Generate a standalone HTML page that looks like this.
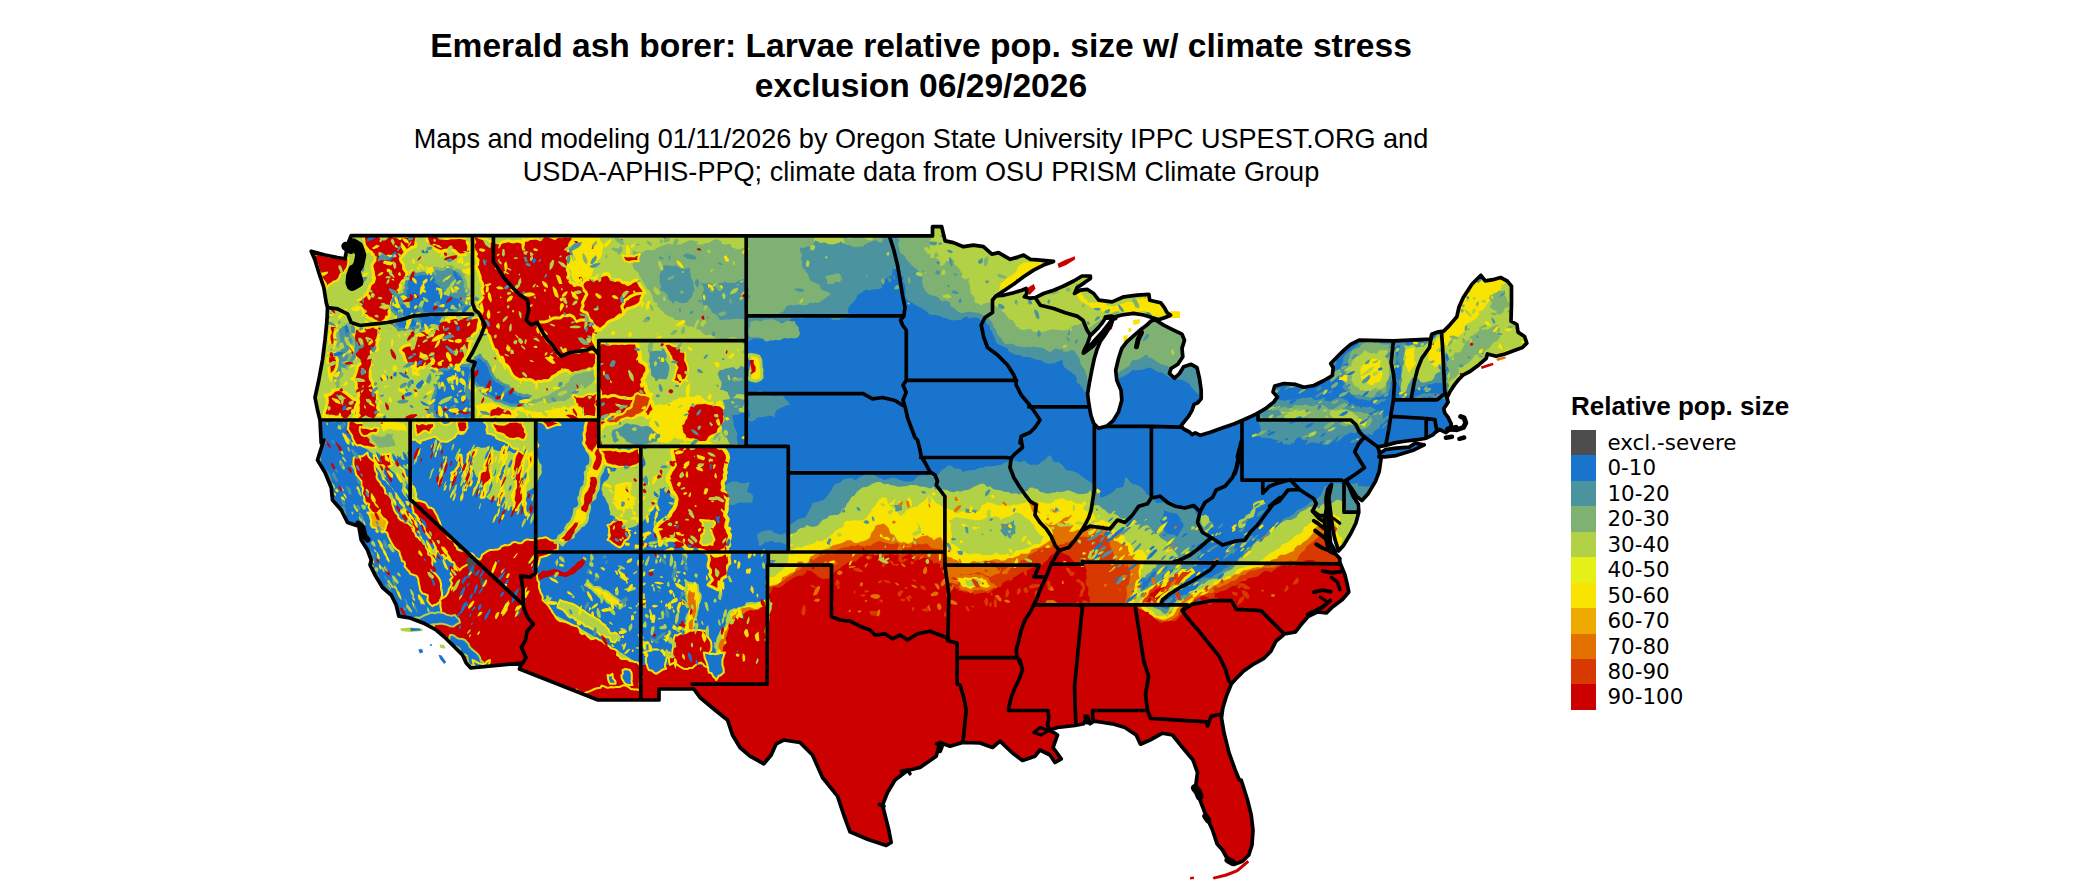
<!DOCTYPE html>
<html lang="en"><head><meta charset="utf-8"><title>Emerald ash borer: Larvae relative pop. size</title>
<style>
html,body{margin:0;padding:0;background:#fff}
body{width:2100px;height:892px;position:relative;overflow:hidden;font-family:"Liberation Sans",sans-serif;color:#000}
.title{position:absolute;left:0;width:1842px;top:26px;text-align:center;font-weight:bold;font-size:33.6px;line-height:39.5px;white-space:nowrap}
.sub{position:absolute;left:0;width:1842px;top:123.3px;text-align:center;font-size:27.1px;line-height:32.5px;white-space:nowrap}
.legt{position:absolute;left:1571px;top:391.3px;font-weight:bold;font-size:26px;line-height:30px;white-space:nowrap}
.leg{position:absolute;left:1571px;top:430px}
.lr{height:25.45px;position:relative}
.sw{position:absolute;left:0;top:0;width:24.8px;height:25.6px}
.lt{position:absolute;left:36.5px;top:0px;font-family:"DejaVu Sans",sans-serif;font-size:21.4px;line-height:25.45px;white-space:nowrap}
</style></head><body>
<div class="title">Emerald ash borer: Larvae relative pop. size w/ climate stress<br>exclusion 06/29/2026</div>
<div class="sub">Maps and modeling 01/11/2026 by Oregon State University IPPC USPEST.ORG and<br>USDA-APHIS-PPQ; climate data from OSU PRISM Climate Group</div>
<svg width="2100" height="892" viewBox="0 0 2100 892" style="position:absolute;left:0;top:0">
<defs><clipPath id="land"><path clip-rule="evenodd" transform="scale(.1)" d="M3512,2355l5813,4 0-92 92,0 34,142 83,17 100,41 101-16 100,16 83,75 67-16 117,67 84-25 50-17 67,42 100,8 133,13-100,37-100,50-100,67-100,75-101,67-75,50 75-8 101-25 83-25 42-17 8,50-25,33 59,14 50-5 83-42 100-33 101-42 100-50 83-50 84,0 0,25-58,41-76,51-25,58 59-33 67-9 66,42 51,67 133,17 117-51 134-16 117-9 8,59 109,25 33,42 33,58 34,25-53,23-67,22-67-22-83-25-101-16-117,16-66,17-26,25-41-17-34,9-33,50-34,42-58,58-25,25-25,75-34,67-8,30 25-21 75-92 84-92 67-84 46-55-21,64-50,83-59,84-33,83-25,84-25,117-25,133-17,101 12,100 21,117 29,83 46,47 84-22 67-58 50-84 33-117-8-100-42-100-11-100 28-117 33-101 50-66 67-59 67-58 67-50 42-42 41-12 84,54 100,50 84,41 25,59-25,83 8,84-50,75-67,42-17,50 51,47 50-47 41-67 76-25 58,34 25,108 17,117 0,84-34,41-38,17-20,59-33,58-34,42-42,53 25,34 59,30 25,25 33-17 51,25 100-30 117-42 117-41 100-42 117-54 100-58 84-67 36-50-45-50 17-59 92-25 117,9 83,28 100-17 101-50 83-50 9-78-25-42 66-67 67-67 67-58 84-42 343,8 372-18 11-48 54-22 66-10 55-55 76-88 22-98 44-98 87-132 88-87 43,55 77-11 76-22 66,33 44,54 0,175-5,175 59,33 11,76 66,44 22,66-44,44-88,32-87,33-87,22-88-22-11,44-76,65-88,66-65,33-44,44-44,54-44,66-32,65 11,44-44,66 11,43 33,44 32,66-15,54-39,33-66-33-44,33-21,22-66,33-87,15-110,13-109,16-99,28-77,15 30,123-18,123-37,99-74,123-61,69-50-39-61-91-45-62 25,49 44,104 50,74 5,81-30,111-49,99-74,123-50,55-39-129-20-98-12-99-13-99-12-98-5-74 32-69-39,49-17,94 4,98-12,69-7,79 15,74-3,74 17,74 27,62 60,27 37,40 0,39 51,125 24,99 15,74-64,74-99,74-61,61-87-12-98,49-74,87-50,66-111,20-86,74-49,99-74,74-99,54-99,69-74,74-49,54-49,119-37,123-13,99 25,148 49,197 62,173 42,103 19,0 63,200 37,150 18,150-10,150-32,100-63,62-87,33-58-45-55-100-55-62-45-138-63-138-62-162-45-125 20-150-45-125-105-125-100-125-100-18-125,68-95,42-43-92-112-75-125-37-125-18-62-8-38,26-25-76-37,76-88,17-175,20-75,25 75,50-45,125 82,113-62,37-50-75-100-50-50,62-125,43-100-75-125-118-75,63-125-45-175-5-125,37-100-37-38,137-162,113-125,30-125,95-75,125-50,125 25,100 38,150 24,125-50,30-187-63-175-74-62-168-63-188-150-187-100-225-125-125-162-25-76,38-50,112-74,88-138-76-100-87-75-125-50-150-125-100-150-125-62-85-348,0 0,110-610,0-785-310 17-60-504,50-46-50-37-80-75-75-100-100-88-75-112-62-150-58-112-18-26-112-50-100-87-75-75-125-50-100 12-50-37-100-63-100-24-138-113-37-63-125-87-100-13-125-62-150-75-125 63-200-26,30-12-230-25-100-25-125 38-175 37-200 25-200 20-200 5-125-13-50-24-150-50-150-38-125-38-88 138,38 125,25 75,13 25-138zM13789,4569l57,0 116-13 169-53 111-55-90-16-63,40-127,10-105,13-53,35z"/></clipPath></defs>
<g clip-path="url(#land)">
<rect x="300" y="220" width="1240" height="670" fill="#CD0000"/>
<path transform="scale(.1)" d="M7400,5970l30,9 20-2 45,0 30-6 32-6 41,6 29,1 40-2 8-19 25-12 14-29 9-24 11-17 34,5 29,0 37-21 27-29 35-21 21-13 34-21 32-11 42,0 33-29 10-27 44,8 32,24 20,16 21,19 24,11 19,9 26-4 24,3 24-2 16-24 19-37 32-23 27-16 32-27 23-17 35-6 26-4 18-7 26-7 20-20 27-29 22-9 34-23 43,12 34-5 43,8 25-4 30,27 17-21 24-1 29-18 17,8 31,4 26-3 24,20 28,6 25-13 16-13 23,7 26,4 27,7 33,6 23,6 35,3 25,4 24,10 33,14 18,31 33-9 37,18 27,32 37,25-1,25 12,24-5,28 18,23 9,34 17,18 26,23 28,16 13,16 33,2 35,14 27-5 40,10 25,18 30-12 43-8 33-5 25,12 35-23 20-20 33-22 38-1 16-25 7-16 25-14 33-19 21-11 32-15 23-3 27-27 32-17 28-16 23-4 16-7 28-14 26-12 28,2 19-2 33-21 14-21 37-25 21-34 27-22 19-11 16-22 17-11 26,4 11,11 23,18 39,14 30,22 15,25 16,14 26,24 25-3 19,3 34,2 16,32 9,28 6,15-8,22 7,36-11,42 6,42 22,25-1,25-4,21 0,27 14,15 2,30 5,32 35,14 27-6 18,14 30-1 26,4 26,10 27-1 35,4 26-13 17-8 28-1 33,8 27-21 21-2 31-5 28,26 36,22 19,0 23,17 30,9 25,5 34,23 17,33 16,19 32,23 25,19 27,9 24-9 28-6 40-4 24,2 28-8 24-26 19-22 13-14 17-22 10-26 37-18 20-31 18-14 28-25 33-15 21-21 23-11 29,4 15,15 22,4 27-11 6-18 18-20 39-5 20-16 35-1 35-15 15-14 24-18 30-5 29-6 10-15 21-20 27-7 31-1 16-24 29-8 29-4 16-5 27-3 30-26 18-17 33-15 32,8 17,9 32-23 35-26 24-9 15-7 27-9 31,12 24-12 42,11 31-12 21,6 18-22 15-10 37-22 34-1 35-2 27,15 39,14 29-1 17,9 28-5 30,10 20,1 17,6 27,6 24-13 21-31 30-26 34,1 22-2 29,19 17,12 35-4 38-15 39,12 22,13 25,10 18,15 28,29 45,12 15,27 45,4 25-28 36-9 25,2 37-13 30-13 40-18 39,5 28,3 43-4 24-1 39-9 23-7 40-8 21-7 26-2 26-5 33-6 36-9 27-20 31-19 22,3 28,4 28,6 23-17 41,2 21,0 28-2 18-26 36,9 19,16 22,6 26,15 18,24 16,6 30,7 42,6 40,16 25,5 24-24 16-9 30,11 18,0 29-2 40,20 29,23 32-3 16-12 30,31 25,4 36,1 33,7 42-7 37-20 40-5 21-9 32,16 25-15 30-7 23-6 31-13 9-21 6-32-12-41 14-22 17-33-12-34-9-42-8-44 7-25 6-23-26-27 19-37 5-32-7-27-6-21-7-28-1-34-27-21-31-18-5-24 17-32 0-39 4-23 7-24 7-20-15-34 1-29-27-29-23-21-4-44 22-34 3-23 9-25-9-36 18-17 15-41-2-34-21-34 2-33-4-35 7-47-8-25-2-46 26-65-17-25-13-50-20-45 26-60 1-41 4-23 8-41-13-24-2-33-16-28-4-23 11-23-10-46-17-24-1-42 36-15 7-22-11-21 2-42 11-24-2-22 9-26 0-24-9-18-14-31 5-44 11-27-5-46-5-42-14-22 27-38 0-51-9-51-2-38-2-25-1-39 0-30 16-23-14-37-1-22-11-28-6-24-4-39-21-44-4-49-13-61 26-65 25-37-12-78 10-55 13-25 17-48-25-70-16-45 38-49 52-69 3-66 1-74-23-4-22-3-33,10-35-13-27-12-46-7-33,9-56,21-41,20-49-20-53-29-28-10-47,1-52-1-54,3-61,62-57-1-93-26-56,32-100-45-118-10-64,41-59-2-48,2-85-3-42-28-31-6-24,24-45,15-48,26-59-21-63-30-67-27-41,11-63,15-32,19-31,15-48-8-36,20-91-61-130,7-64-13-56-32-89,31-67-29-51,6-44-2-37,5-58,26-34,6-24-2-100,14-68-9-41,12-73-4-56,11-70,34-59-20-52-14-95-15-67,9-99-19-139-26-51,19-88,16-110-1-83,21-106,18-145-8-75-29-80-15-79-32-66,13-74,17-50-20-66,2-38-18-26-12-42-9-82,12-70-10-73-24-91-44-69-5-43-2-56,28-42,10-86,21-56-48-44,10-38-9-94-10-88,21-68-8-79,71-94,0-81,25-57-19-70,29-50-13-44-13-64-22-43-3-154,20-87-15-60-16-75,8-82-12-86,3-156,11-118,94-92-11-48-30-107,3-72-18-86,28-71,21-90-32-71-9-90,6-101,26-97-27-90-30-64,48-76,23-94-13-138,8 18,37 14,30 5,29-1,31 5,20 15,40 0,31-1,43 2,32-1,25 2,29 1,44-6,29-1,16 13,23-3,28 8,29-8,23 1,24 15,32-35,30-9,31-6,19-1,35-9,50-6,80-3,34-5,37 33,61-11,43 15,52 29,36 18,23-1,41 7,38-20,19-21,23-24,31-5,42-11,16-21,21-11,29-17,26-17,29 23,39-1,30-18,29-21,21-4,38 7,42 21,41 13,35-4,31-8,23-4,56-12,47 11,36 17,29-30,40-34,41 20,56 3,53 31,71-16,56 33,48 27,22-7,40 15,58-18,57-1,81 2,31-1,33 2,29 10,33 0,35-17,32 8,39 0,42 18,24-4,43-9,29 3,28-32,56 3,55 1,37-36,33 1,34 4,27 11,16 4,49 23,33 13,32 22,10 16,31 11,24 4,26 3,39 3,31 3,50 14,59-47,74-32,20-23,22 4,29-2,35 25,15-2,27 3,30 3,26 0,48 1,43 22-18 19-19 24-4 20,2 32,14 38-8 34,3 22-5 27,5 21,17 35-4 43,12 39,0z" fill="#D83900"/>
<path transform="scale(.1)" d="M7400,5869l33-16 24-28 38,3 38,13 24-6 44,7 36,9 30,18 24,1 29-8 30-5 18-4 24-24 14-10 31-15 28-23 19-12 37-21 19-20 28-26 37-10 10-31 31-10 22-15 31-1 35-11 18-39 20-10 24-16 39-10 34-14 30,0 38,0 32-19 13-19 20-12 30-9 20-3 36-5 27-15 21,7 19-1 27-15 35,13 32,10 21-15 34,8 32-25 37-17 18-9 29,9 17,8 32,4 35,13 36-2 29-13 35,24 43-13 41,10 25,4 24-18 38,0 24,7 39,1 17-14 28,17 21,26 34,13 39,6 27-4 26,15-1,29 15,18 21,12 1,43 6,32 23,30 10,20 21-11 26,2 27,20 43,5 41,14 23-14 26-20 27-21 23-14 30-10 25-3 19-16 22-14 35,10 26-1 26,5 16,12 28,6 33-13 27,7 39,9 28,10 29-12 27-3 26-8 9-24 32-6 26-6 15-23 6-18 37-14 24-18 19-3 18-28 35,0 21-18 31,3 29,8 30-24 11-20-1,0 27,9 18,12 18-13 31,0 24-17 32-3 21-17 23-4 32-13 30-22 30,1 25,0 26,6 38-20 18-11 35-8 39,14 25,6 36,13 7,32 20,25 7,27 4,16 11,29 18,38 3,18 3,30 23,21 21,6 17,6 28,6 39,14 10,25 11,16 9,25 9,36-6,31-9,37-3,35-28,27 7,35 0,22 2,36-10,35-9,32 40,5 25,8 23,4 29,17 26,27 20,8 30,5 15,8 26,10 32,18 13,15 17,23 21,19 27,5 40,12 33-6 24,5 27-13 16-11 26-17 15-10 12-24 14-33 21-32 28-14 18-21 12-18 31-16 39-12 17-14 27-9 19-12 22-10 31-5 23-12 32,4 22-27 14-31 22,7 23-12 34-16 37-12 35-28 28-2 35-20 12-18 27-24 40-1 20-21 30-20 26-3 39-5 38-13 26-11 43,2 34,0 31,0 33-17 24-9 29-11 22-24 25-6 36-6 33,5 28-1 8-22 11-27 18-24 33-27 15-14 9-27 16-13 27-19 25-20 20-21 32-23 24-19 21-15 29-13 28-30 22-9 37-14 19,6 27-9 36,1 22,5 25,7 33-14 25-10 41,8 27-4 36-21 26-2 27,3 33,10 40,5 23-2 22-16 18-14 34,10 29,5 25-2 29,3 36,4 31,2 27,4 23,14 34,7 42-4 30,13 21,6 29,5 18,12 32,18 34-18 33,12 22,6 33,15 25,5 38,6 33-6 19-10 27-15 24,3 30-6 35-14 22,19 21,11 32-21 26-12 12,16 16,23 25,9 42,11 32-15 19-39 28-1 21-2 36,11 27,3 25-16 34,12 62,3 21-10 28-2 18,25 13,13 28-1 38-7 24-7 43-8 21-5 37-6 42-9 22-9 41,10 39-8 35,0 28-7 25-12 1-47 6-31-2-21-16-24 19-32 12-33 3-25-3-30 7-22 7-24 3-36 2-27-1-21-6-37 0-43 11-31 3-37-11-25-15-28-3-28-17-32-17-45-25-16-7-20 4-41 10-26 9-41-2-27 22-39 23-43 4-27-1-24 5-26-10-45-9-31-8-35-6-34-8-44-2-26-8-63 16-43 16-74 0-44 5-53 44-21 1-30-8-52 0-86 21-44 3-35 15-43 5-20 0-29-19-26-20-40-8-36 0-21-6-22 7-33 5-26-7-36-23-32-1-38 20-38 5-18 25-23-3-43 14-26 17-28-16-39 8-30 3-16-12-31 14-25-17-41-16-21-15-31-14-16-6-34 21-36 9-28 2-40 4-24-1-43-28-23-12-33-2-24-13-37-16-25 0-29 1-19 0-27-6-33 8-19-5-29-1-24 16-19 12-19-12-26 0-39-4-41-119-32-127-43-84,13-79-23-66-1-58-14-58,1-99,31-58,30-91,23-128,11-95-45-208-15-131,57-161-43-95-5-121-47-128,36-66-7-99,14-37-2-56,18-90,13-55,41-108-22-76,63-96-13-45-35-33-10-49-7-79,10-63-14-53-38-51-12-84,36-48-38-46-2-59,0-67,33-109-29-84,31-90,8-59,10-44,19-45,4-48-24-44-12-77,4-39-13-22,3-39,13-32,22-44,17-29,46-86-5-62-4-41-7-47-7-39,9-54,6-53,14-85-18-34-5-43,1-40-2-62-30-46-8-44,27-50,6-50,31-32,33-27-2-54,40-38-15-19-26-40-16-51-1-64,10-48-7-69-20-140-29-95-16-95-2-55,4-59,22-38,8-56,3-83,12-82-32-62,22-105-30-61,4-96-44-87-22-71,1-82,11-73-21-73-24-77,29-64,7-90-24-91-20-67,46-133-1-32,3-57,13-47,36-43,25-70-6-50-24-48,4-25,14-48,3-36-1-54,20-34-4-48,10-60-39-65-13-69-36-49,7-57,19-44,10-67,20-78-21-55-19-108,7-72,3-2,29 1,27 3,42-16,40-15,40-9,29-5,27 9,30 4,26 19,36-5,20-1,35-8,29 14,46 12,32-2,30 11,34 6,47 12,34 8,24 1,20-7,26 9,27 10,40-10,22-14,24 19,36 20,29 13,37 21,33-3,25 3,24 2,30-9,33 6,22 12,28 5,27 21,30 16,35 5,40-21,59-13,17-20,30 11,55-11,42-17,18-10,31 8,36 28,56 7,97-2,62 0,49 10,34-5,18 6,30-13,53-10,49-28,42-31,58 1,53-1,51-1,29-10,27 5,84-18,81 1,57 6,35-15,32-11,52 18,38-5,70-24,28-17,14-2,28-18,31-7,42 1,33 12,37 15,25-20,11-6,32 15,35 24,22-18,39-11,35 8,33 2,26-3,26 6,19-1,40-3,25-18,35-19,18-15,37 6,37 19,29 5,26 6,20-13,34 7,33 22,34-10,32-9,24 4,28 7,27-3,18-13,29 25,26 8,23-6,36 13,21 16,31 24-3 33,8 25,9 20,8 35,13 32,10 24-13 22-11 37-6 28,8 19-10 21-18 29,5 18-3z" fill="#E37100"/>
<path transform="scale(.1)" d="M7400,5853l32,0 28-20 20,3 22,17 30,14 42,4 40,6 27-20 26-4 31,7 39-11 29-5 18-8 19-12 14-20 4-32 21-4 25-11 34-21 23-11 21-5 16-38 24-13 24-22 19-3 35-3 28-34 11-38 37-21 27-20 19-9 25-5 25-19 23-2 27-16 28-15 18-9 42-11 29-7 35-13 33-19 33-1 18,7 22,21 40-3 20-9 30-6 33-12 26-17 11-15 11-40 29-33 7-31 20-13 33-5 34-11 30,25 20,22 6,23 11,30 39,14 9,19 18,34 16,15 27,10 26-10 32,18 23-1 28-15 20-22 29-12 20-9 24-13 31-4 25-7 23,18 24,8 20,24 28-19 39-15 21,37 4,30 10,43 4,17 7,28 3,23 26,23 34,5 17,17 41,11 28,25 32,11 28,9 30,5 16-30 33-12 35,10 31,1 20-8 33-7 24,4 24-8 41-10 41,2 23,14 42-6 20-17 29-5 21,2 37-18 34-10 13-19 32,3 42,0 24-19 3-18 32-16 34-5 21-8 26-17 36-20 17-13 33-21 17-33 6-31-7-29-12-21-20-19-30-26-27-36-27-5-7,0 33,14 24,13 15,11 28,12 24-1 38,4 16,18 39,13 22,12 36,12 30,9 29,0 40-20 32-4 28-9 29,0 38-17 35-9 24-7 39,11 36-12 13,24 23,18 37,7 10,35 14,17 2,26 7,31 28,1 33,25 29,8 29,13 21,7-1,30 5,22 17,20 11,23 18,30 38,22 17,16 11,21-2,23-9,32-1,20 4,33 7,28-33,22-11,31-4,40-12,40-10,25-24,29-18,37 1,29 31-7 22,1 38,15 26,17 22,27 15,19 15,10 32,2 5,19 28,15 27,24 23,0 19,6 30,14 35-3 31-14 19-9 33-19 20-34 14-32 26-32 19-11 22-24 33-16 21-23 23-10 39-2 32-30 19-19 30,6 27-15 16-14 29-15 16-18 19-12 30-8 20-20 10-14 31-4 20-3 24-12 28-5 15-27 31-16 37-1 27-22 24-18 28-2 31-8 41-15 39-8 32,7 30-15 10-22 16-24 30,2 20-19 35-8 22-5 10-22 32-18 22,4 33-8 37-22 32-10 8-27 29-26 31-5 18-20 15-13 26-15 13-13 29-29 12-17 21-26 12-38 31-19 34-12 23-14 29-5 39-1 32-28 31-4 18-11 34-6 23,18 24,2 34-13 33,5 32,3 27,16 24-13 25,8 21,2 26,9 19,4 32,15 23,9 17,15 23-26 27,7 33-9 22-3 33,19 23,12 24,3 31-8 41-15 28,3 21,0 35,4 27-1 29,23 21,18 29-4 25-8 42-8 32-3 25,12 43,6 40-20 19-8 27,3 21-14 17-22 31-5 36-3 43,11 25,18 26,1 27,5 29,7 39,9 45,26 25-5 29-6 31,7 23-4 18-14 28-2 28,1 23-8 32-5 30,2 21-3 28-21 44-7 16-4 24-16 21,0 31-11 39,1 44-14 26-8 32,8 24,2 34,10 20-2 29-1 36,1 42,10 6-27-2-27-9-18-4-27 18-36 21-24-6-42 24-41 11-28-8-46 14-39 5-36-26-28-15-37-14-37-9-20-12-39 5-24 12-41-7-30-4-18 3-31 7-27-22-32-7-34-4-38-8-21-28-21-10-23-6-34-3-24 7-39 11-25 7-22 15-45 12-43-21-24-12-13-23-17 4-33 8-21-2-26 7-25-2-25-2-34-25-24 26-21-4-23-1-17 6-30-3-31 0-25-13-59-2-33 10-34 8-26 22-24 7-42-12-35 6-20 8-28 3-26 1-24-19-49-2-35 25-56-8-36-23-30-37-32 9-32-15-39 5-39 2-30 2-26 11-28 3-23-13-23-6-26 7-22-4-26 1-21 4-35 12-26 13-25 11-21 17-22-12-35-3-30-5-16 2-36 6-31 8-24-7-35-2-31 6-40 13-42 12-21 15-23 19-34 14-37-3-45-12-25-6-18-18-34-4-34 2-19 12-25-45-17-46-47-80-17-48,5-101,24-119,4-83,9-101-48-95-42-103,15-100,7-108,56-51-12-84-28-77,8-47-4-60-31-109-51-76-19-52,37-50,4-71,12-35,20-60-4-65-8-75-7-49-7-29,3-61-1-31,34-41,5-35,29-47-3-40-4-56,1-56-33-57-10-56-45-100,8-51,25-69-24-45-13-96,2-55,34-42,5-23-11-51,18-50,20-26-14-40,6-34,18-54-21-22-3-25,12-36,11-43,16-27-3-52,15-32-14-51-6-86-19-68,65-70-7-72,12-113,69-161,18-206,7-87-5-101-4-53-18-77,16-72-11-105,8-59-27-68-18-81,17-80,43-90,0-117-19-61-17-104,17-48-6-63-16-35-7-45-28-39,13-70,19-41,0-21-14-45-12-52-17-37-20-55,7-81,33-42,27-58-3-70,49-130-2-72,12-59-17-37-12-77-3-57-6-54-4-68,60-35-34-60-4-85,6-144-16-89-54-52-27-58-8-56,1-92-16-95,8-131-31-120,58-139-1-85,26-73-6-98,73-90-1-68-24-71-39-46-19-42,24-61-12-6,30 0,19-2,26 3,22 4,35 11,35 21,25 39,43 12,40 7,35 17,19 6,28-18,57 4,80-16,41-21,43-8,29-9,20 6,33-7,28 14,20 29,32 2,37-12,44-4,21-14,25-15,36-1,30-16,25-2,24 0,36 8,45 6,39-9,34-26,25-28,40 15,63-11,51-15,75-6,55 11,29-13,27-3,38-13,28 7,22 48,43 10,42-4,55-12,46 13,53-8,46-2,27 4,35-6,34-22,28-1,37 6,34 13,61-30,42 1,56-2,58 22,19 7,16 0,37-33,20-19,17-11,36 17,21 3,30 19,25 1,33-6,19 8,47 19,33 22,21-3,22-9,35-24,30-6,19-16,31-37,17 0,31 11,24 11,33 1,19 2,24-4,24-9,20-13,28-17,21-7,21-5,34-1,31 26,54 1,56 13,35-1,19 18,26 12,42-1,34 5,43 3,26-5,37 9,26-17,40 8,51 4,26-2,29-13,38 10,39 10,26 20,39 1,24 21,19 34-11 42,5 29,15 19,11 32-10 28-10 18,2 25-17 39-20 36,18 24,13 24-5 28,2z" fill="#F9E300"/>
<path transform="scale(.1)" d="M7400,5636l22,6 30,26 17,11 33,3 17,9 31,10 23,7 35-2 24,2 19,20 16,41 41,2 26-2 21-15 22-22 36-25 21-21 12-16 23-22 4-24 9-34 4-40 3-27 12-21 22-8 21-8 33-16 36,8 22-10 23-14 41-8 36-11 20-11 14-18 39,8 27-12 33-14 22-17 22-22 24-14 5-18 25-18 23-15 27-8 20-8 3-39 12-13 31-9 27,3 27-9 37,3 37,1 26-4 31-28 15-22 26-30 12-37 24-16 22-31 21-36 36-25 31-2 16,10 2,22 7,29 25,29 33,20 29,25 21,26 17,33 16-22 21-7 18-34 16-8 29-13 39-17 30,2 9-16 22-19 23-14 28-25 14-17 19-27 31,27 19,24 9,14 24,18 27,13 32,24 42,13 29,10 18,9 33,23 20,8 19-7 29-15 20,3 31-4 34,7 31,2 24-4 23-1 15-15 10-27 14-22 28-11 22-20 40,10 27-13 29,15 22,0 30,0 33,2 20,17 23,6 38-11 32,1 41-13 37-4 19-13 28-12 16-4 37,16 23-1 33,1 32,11 21,1 26,6 21-1 39-17 15-23 28-2 18-8 34,1 20,12 24,12 29-7 27,15 26,18 28,1 17-2 15,31 14,19 17,23 22,7 28,4 11,13 29,12 13,37 31,21 20,3 28-7 26,22 18,6 25,10 17,23 12,27 14,11 33,16 24,23 18,17 24,7 6,23 4,25 20,11 28,17 13,23 14,24 33,7 40,13 21,1 22,23 15,21 9,22-19,39-14,28 0,22-7,22-22,20 5,35-10,34 7,39-14,39-19,34-7,22 11,35-4,31-20,10-4,18-16,23 35,15 27,6 38-5 20,35 19,17 23,13 21,2 25,35 19,23 40,1 44-8 23,16 19-20 8-17 23-13 11-24 5-26 37-24 19-23 11-20 22-16 21-5 27-2 14-29 14-12 29-12 8-25 32-8 34,4 30-14 22,9 26-5 17-17 32-22 6-30 37-12 40-16 38-3 19-27 35,3 30-16 13-18 16-27 23-17 27-7 26-7 31-11 36-6 18-5 29-14 29-19 22-11 34-18 12-19 20-17 27-17 20-13 30-14 16-12 19-6 22-22 17-22 21-11 33-10 22-23 23-9 17-25 23-19 20-4 29-14 22-22 6-41 34-7 13-19 36-26 18-32 22-4 21-12 26-3 31-14 28,9 38-10 34-16 20,1 31-11 23-6 27-8 25,9 35,12 27-2 21,4 31,18 28-25 15-24 42,0 35,0 20,4 31,8 44,0 18-31 32-9 37-21 58-33 40,0 47-5 33,32 39,11 38-14 41,5 40-11 37-19 45-11 34-5 30,12 38,23 25-6 19,20 27,4 15,14 27,5 41,12 26,2 34,8 31-10 31,7 27-2 22-1 23,2 36-4 39,22 29-18 33-15 33-17 16,12 25,11 28,5 17-3 26-32 35,16 24,5 27-7 26-9 43,7 26,23 33,29 35,13 27,6 19-2 37,21 27-3 30-1 16,5 27,16 27,7 19-7 25-21 31,3 34-21-19-53 18-50 22-28 17-22-11-20-16-27-17-16-5-38 16-33 24-37 14-20-2-33 13-26-5-38-9-21-25-48-6-32-6-44 5-64 1-21-1-37-8-30 12-21-9-33 4-37 0-36-12-43 25-53 3-34 2-22-7-23 9-33-12-19 0-33-13-16 4-44-2-46 15-25 3-17 10-25-1-39 19-17 15-21-8-41 27-66 22-41 11-32 13-41-30-44-8-39-14-30 4-40 0-37-8-39 2-36-5-42-20-46-6-27 5-20 15-32-20-28 1-37 1-29 22-34-8-37 18-28 20-19-6-35 19-22 6-19 0-33 3-19 0-26-4-29-5-32-6-35 19-49-16-11-28-7 9-23-24-27-20-38-25-21 33-14 13-56 3-36 11-39-7-25-10-32 3-32 3-39-17-29 1-23 3-40-21-36-9-35-27-32-66-17-90-20-44-3-52-4-90,1-97,65-146,0-111-18-62-26-40,6-26,10-50,1-124-55-80,9-57-2-60-18-190-42-171,20-127,22-139-72-98-11-157,45-77-14-105,6-111-42-64-16-102-32-121,61-148,15-101,57-206-31-220,32-70,12-62,23-98-12-103-48-50,4-66-13-81-29-77,14-56-12-62,43-65-44-41-14-42,58-50,8-110-4-66,6-43-14-48-21-26,1-33,13-68,1-60,13-49-12-42-12-52-10-44-8-60-7-74,39-81-4-119-1-88,38-64,20-40,8-50-5-45-9-26,1-52-17-58,12-51-46-77,12-32,14-22,2-43,30-58-5-50-11-81-42-47-1-44,2-30,14-30,31-34,38-75-8-33-9-47,6-35,16-46-31-66-5-39,13-91-27-74-38-68,15-97-4-65,34-50-12-48-26-33-8-36-16-30,5-33-1-30,2-56,16-54,5-34,22-43,0-35-5-38,6-32-16-47-18-42,7-43,9-37,5-31,18-28,5-44,22-76,18-55,6-50,6-50-1-102-5-55-7-41,9-60,7-110,73-82-27-42-19-65-25 5,26 7,25-1,32 2,37 4,19 13,24 17,31-9,25-20,41-2,40-8,36 6,44-19,15-2,27 22,35-13,30-6,16 19,24 5,32-6,22 10,32 17,17 28,29-4,21-4,32-3,31-9,17-17,21-10,19-19,30-4,26-5,31-16,33 7,52 7,30-8,47-3,39 5,32 3,26-16,30 0,35 19,27-8,31-10,17-5,35-14,23-5,23-7,36 13,34 4,34 9,32-11,28-22,30-37,38 3,40-16,42 15,32 7,27 8,29 13,28 16,34 1,35-7,27 9,19-9,27 18,42 9,25-4,31 19,38-7,43-3,25-5,33 17,55-7,46 0,41-11,20 43,67 35,39 8,57-24,49-26,42 2,32-9,49-11,80 8,59-2,105-1,35 12,61-3,59 7,39 13,42 48,55-18,41 31,59-10,28-34,25 3,55-22,43 7,30-14,37-6,26-3,37 2,17-1,30 33,19 30,2 17-8 22,11 28,1 41,16 31,0 36-23 40,5 27-1 37-12 34-2z" fill="#B2D144"/>
<path transform="scale(.1)" d="M7400,5569l27,35 19,14 23-3 32-9 42-7 41,8 29,17 21,15 33-3 32,5 35-5 20-29 23-20 10-13 20-13 11-26 15-24 0-24 17-12 14-27 1-31 14-18 5-31 26-29 25-6 33-15 10-20 28-17 41-6 21-24 40,17 26-1 22-2 29-14 26-35 17-19 41-13 28-28 23-3 31-3 23-1 28-15 13-34 20-13 21-16 13-37 18-17 16-26 15-26 27-8 10-16 14-24 29-21 29-24 39-2 37-20 35-20 24-8 41-5 23,19 20,7 38-5 20,12 37,6 28,9 35,2 44-5 26-3 21-9 42,0 23,1 38,13 40,3 34,7 30,11 36-18 14,28 23-2 23,7 29-6 45,6 22,15 41,8 39-15 31,9 28-12 41-4 29-10 36-24 31-12 24-12 21-5 24-4 30,33 35-3 29,29 40,7 29,2 27,10 28,7 28,0 21,15 30,0 27-2 30,12 33-13 14-14 35-9 20-29 27-6 18,11 33,3 27,30 30,5 16,7 23,5 31,0 26-10 20,4 24-13 29,5 35-3 38-15 28,5 29,12 39,15 29,8 34-1 36-7 20-10 14-24 17,36-1,25 14,27 14,17 6,29 23,14 18,6 29,30 31,15 16,19 17,18 37,5 32-1 30,19 18,25 40,1 26,5 23,18 23-10 22,3 24,7 30,30 21,6 20,16 38-9 36,22 13,35 25,10 26,17 24,24 14,22 29,16 34,21 10,22 17,20 16,18 23,24 26,27 6,17 19,23-38,1-21,32-25,8-36,20-32,2-33-12-33,16-5,24 1,28-15,28-20,5-27,15-8,44-13,38-4,33-9,18-24,38 8,36-3,28-10,16-21,16 22,6 20,12 42,15 18,30 30,17 18,4 40,18 27,32 23-7 27-18 7-26 10-24 7-24 31-16 13-17 16-19 27-12 24-36 23-10 34-13 29-26 30-20 33,15 19,3 15-8 28-12 11-30 26-27 35-16 29-7 21,0 25-1 32-17 27-33 17-18 39-14 31-17 13-18 27-7 29-17 21-27 23-33 15-31 14-20 21-15 17-17 18-36 7-25 33-25 42-14 23-37 14-20 27-10 34-24 36-10 28-30 22-32 32-16 29-17 22-5 41-1 30-18 20-7 14-26 29-31 25-10 33-16 21-19 21-5 33-6 33,10 20,14 17-30 31-22 22,24 22-8 22-7 34-26 30-23 42,14 26-4 33,13 42,5 35,5 36,1 39,17 25,10 17,14 25,19 45,0 35,6 23-1 24-35 49-14 35,1 29-1 45,3 27,13 30-11 17,11 20-17 34-9 24,2 38-3 20,0 26,5 22-24 32-12 38-11 25-15 22-13 26,6 23-1 31-8 28,15 16,28 33,13 20-21 22-1 37-1 31-21 20,0 30-1 19-9 24-8 26-13 42-10 42,1 38-17 32-7 21-5 38,11 30,10 15,22 40-2 39,4 31-3 19,3 27-10 21-7 31,10 30-24 40-11 36,20 26,11 26,10 22,12 26,12 20-11 39,21 27,22 23-10 22,4 28,6 33,14-2-22 2-37-11-37 10-34-7-26 1-42 4-30-6-43 3-25-3-27-1-34 9-33 25-18 22-38 17-25 3-28 0-36-18-39 5-27-12-30-6-17-12-29-3-35-20-26 15-26-5-37-7-42 5-23 3-36-17-23-14-33 13-20 5-24 18-21 16-30-3-47 10-27 6-41-24-50-16-46-32-22 1-61-7-38 3-27 6-42 1-47-24-31 10-37 7-19 12-23 1-32 2-36-10-43-9-31-9-16 14-54-7-40-10-21-2-34-21-24-25-52 4-23 12-28 16-27 18-12 12-25 9-15 26-43 12-39-5-32 19-36 32-38 10-25-5-29-12-20-16-38-14-19 5-35 16-22 1-23 1-37-13-37 14-43 20-39 2-29-16-42 1-21-9-25 14-39 0-26-14-35-15-29-3-26-15-39-13-27-132-18-107,27-79,28-57-21-61,5-80-6-102-31-58-37-34-6-58,4-60-2-30-24-63,30-37,37-57-21-83,22-53,24-77,4-60-57-130-13-81,24-110-13-72,25-49,0-104-29-138-8-113,23-85,23-99-36-89,43-47,18-50,56-65,14-81-12-48-21-68-2-82-4-60,20-71-16-82-3-53,15-57,15-41,16-25,11-30,6-18,0-41-14-37,8-34-16-63-5-102,10-60,10-32-29-40-24-23-6-33-9-59,1-72-28-46,30-79-21-105-8-78-21-68,12-69,45-25,6-39,20-66-5-38-29-35-1-40,25-68,11-69,13-51,12-44-31-74-3-48,1-41-11-54,1-60-10-45-10-56,5-31,10-63,22-66,22-101-1-79-16-100,19-62-2-101-43-110-35-80,2-81,19-108,21-89,30-134-17-84-2-82-11-65-20-37-3-56-14-49,7-59,17-42-16-70-41-48-6-84,5-92,2-69-40-46-1-63,16-59,16-54,13-81,32-86,9-85-36-96-13-69,12-110,20-67,19-90,7-59,0-31,14-56-19-44,9-59,14-65,4-104-11-104-53-16,48 4,79-32,57 6,41-5,44 13,44-10,67-7,65 6,28 10,32 2,38 15,55 6,35 8,25-3,31 8,17 14,26-3,37 5,23-12,23-11,26 6,70-10,41 19,18 22,34 22,18 5,21 9,18-5,27-25,37-16,25-3,19 9,27-26,32 13,41-2,27-1,40-7,36 12,60 15,52 10,51-4,79 1,53-17,44-16,25 8,28-17,40-11,40-10,23 15,33 19,59-6,35 5,52 30,24 7,31 0,19 13,40-2,49-6,23-10,26-1,38 3,31-11,20 6,27-7,41-3,43 9,23 1,23-6,25-12,23 0,21-7,19 3,37 13,32 12,28 12,17 16,23 12,28-2,45 3,42-7,32-4,20-8,29-2,25-3,25 2,23-10,27 2,38-1,23-10,43-20,22 4,29 20,19 12,18 8,25 17,33-6,27-8,17-16,27 7,39-18,37-27,30-11,15-2,28-11,21-11,23 18,30 32,2 35,13 23,3 28,8 38,7 7-19 14-23 34,7 38-19 40,17 30,15 22,14 33-20z" fill="#4B939F"/>
<path transform="scale(.1)" d="M7400,5201l43,3 28,0 19,16 34,26 43,5 29,2 31,9 22,11 23,28 29,34 24-20 36-1 32-20 29-15 19-19 43-9 21-12 30-12 33-26 17-9 26-9 41-8 16-24 12-27 15-26 22-37 1-27 24-8 22-3 16-6 27-10 28-6 20-20 16-22 20-26 11-16 13-18 15-34 19-19 20-12 38-11 24-25 38-14 35-3 19,2 36,22 16-19 28-19 41-17 26-27 34,16 32,11 29,12 17,12 28,6 27,20 22-6 28-7 35-6 23-2 25,5 15,12 29,6 32,13 25,2 34-3 34-8 18-23 14-16 29-11 32-16 35,17 37-24 36,14 31,3 19-16 25-35 38-18 13-19 34-12 23,16 25,18 43,0 20,8 13,29 24-9 22-6 39-4 41-2 32-18 33-5 21,1 23-17 29,1 23,0 35-3 31-7 23-2 26-9 24-16 39-13 36-12 38,8 37,17 28-15 17-5 29,29 36,15 33-5 32,6 35-27 36-23 28-31 26-19 18,28 13,31 24,13 31-2 23,20 16,10 20,29 20,24 31,3 26,5 31,11 22,6 25,22 31,19 33,28 25,16 19,9 22,24 4,38 16,16 37,13 14,23-1,39 41-7 28-12 33-19 21-11 27-26 16-18 27-8 38-4 7-26 6-25 6-44 26,4 19,37 27,21 22,6 31,7 34,21 22,20 24,30 13,25 19,7 13,22 21,14 29,12 16,31 25-4 34-3 38,1 24,9 30,13 33,27-22-15-14-25-21-10-23-24 25,12 27,5 32,31 33,19 22,9 21,16 38-10 36,1 34,8 11,13 10,29 24,16 21,18 31,25 24,13 5,19 6,25 1,35 4,41-3,19 1,28-2,29-27,30-31,23-9,30-1,21 12,29-22,23-23,11 19,28 15,39-33,11-18,13-32,15-17,27-24,3-23,4-19,23-21,9-14,28-24,21-16,20-25,24-18,19-16,24-15,9-3,19-16,31-21,10-13,32-16,42-12,25-5,25 40,14 27,3 20-10 18-17 28-24 21-27 16-17 22,7 24,8 3-37 15-17 39,0 8-26 25-21 16-16 31-9 14-28 12-14 12-28 26-30 30-5 21,2 33,0 20-9 28-25 35-11 34-22 19-23 25-8 21-10 35-26 18-16 20-10 22-35 24-14 31-29 3-34 33-21 26-18 28-15 31-32 15-35 31,4 39-16 16-14 15-35 12-17 20-22 22-7 23-7 27-14 26-27 13-19 23-27 20-7 26-4 32-24 26-11 14-23 16-14 36-17 39-18 25-15 24-26 26-11 33-9 17-21 35-28 17-41 11-28 4-20 40-6 8-20 31-9 35,0 20,2 22-5 29,18 38-8 28,10 41,3 42,15 30-6 27-2 28,8 38-9 20,14 29,6 22-2 29-2 21-13 16-17 31-14 20-2 34,7 34-6 21,19 38,6 40-2 28-35 25-6 19-6 26-10 26-15 29,9 21-3 42,10 33,0 34,19 37,10 39,5 30-8 34,4 25,7 33,8 39,18 25,2 22,13 26,17 30-6 31-2 28-23 53-4 32,8 28,22 22,1 23,14 28,3 35-16 19,0 26,5 31-3 38,8 40-1 24,8 27,18 33,13 33,6 25,1 30-17 41-23 30-7 20-14 28-3 33,16 21,14 34,6 20-13 18-12 33-9 41-14-16-33-13-18-14-24 2-22-7-23 18-30 1-22 9-33-3-22 3-34 14-19-3-30 3-24 10-35 15-32-7-19 2-32-11-31 3-36-4-24 4-31-9-18-6-26-12-23 3-24 3-35 13-17 11-34 7-25 11-30 18-33 6-23 10-43 8-34 6-27-12-40 10-28 2-21-20-28-10-36 16-41 2-30 13-33 9-42 10-28-2-42-19-22-9-59-14-41-22-41 17-40 9-21 4-26 0-30 1-30-21-40 9-53-13-46 13-65 16-55-10-57-15-31-15-21-8-35 3-30 3-30 0-41-34-55-17-40 4-25 20-32 18-38 3-32 6-31 1-24 15-38-13-21 6-25-6-27 11-19-4-35 0-26-10-32-22-30-11-18-23-18 9-28-5-32 15-33-1-23 16-36-104-31-54-31-80-5-122,30-76,21-67,0-77,0-87,30-132,12-71-16-71-6-45,12-38-15-38-23-67-16-37-16-93,7-69,9-92,3-61,11-57-13-51,1-105,13-66-60-71,65-138,28-49-11-91-4-112-37-86,15-71,8-59,0-74-15-100,28-53,29-70-8-36-4-34,30-45,20-90,3-46-4-79,18-68,10-52,22-115,8-71,15-92-19-117-47-47,9-48,3-50,9-41,0-42,5-23,6-45-1-66,2-37,7-29-12-48-1-42-19-21-4-29-7-34,9-52-28-45,3-33-1-60,11-39-7-43-6-31-3-27,7-15,15-40,6-26-11-41-21-45-18-80,4-40,28-49,6-61,8-79-66-117,17-131,1-112,38-70-7-53-36-51,18-77,28-59-16-42,16-24-16-30-4-74,2-45-9-77-24-81-27-45-36-88,19-41,31-51,23-53-15-55,18-56-29-26-25-69,38-69,45-50,14-70-18-42,25-79-5-74-12-58-21-55,15-101,20-140-70-91,9-68,2-90,25-39,28-68,3-74,58-141-22-55,4-95-19-226-104-154,7-146,51-101-40-10,27-9,18-5,30-18,38-21,23-9,17 24,30-4,23-16,26 12,27 8,35 2,34 21,32 2,25-19,40 30,26 16,44 0,45-3,24 1,23-1,33 7,23-18,24-19,24 17,67 4,37 49,48 28,33-4,43 7,36 2,38-10,32 15,31 14,18-1,25-2,21-8,20-11,32-15,25-9,25 24,43 17,41-17,69-3,89 2,37-10,49-47,68-12,68 21,44 23,35-5,25-3,33 9,20 7,27-3,44-5,45 4,44-5,38 9,27 25,21-5,39 6,23-4,21 4,31-3,16-11,27-3,30-22,19-12,36 13,29 8,19 3,36 15,26 16,20 9,25-1,20-12,29-10,17-14,19-8,26-12,31-5,20 15,31 10,34-7,18 9,32 8,16 15,24-26,28-10,28-6,22 16,64-25,34 6,20 10,33-4,29-23,25-20,26 2,23 18,29-18,37 37,8 27-14 29-3 27-8 27-28 22,14 34,17 29,30 41,9 41-4 21-2 34-1z" fill="#1874CD"/>
<path transform="scale(.1)" d="M11402,6036l7-25 18-34 26-19 16-22 5-24 19-28 30-11 18-10 28-10 27-23 27-13 24-12 23-19 22-27 25-8 21,1 35,7 21-24 9-16 18-13 27-2 32,1 24-19 18,16 15,17-31,20-31,29-16,10-22,25-22,28-20,28-31,3-28,7-22,28-20,16-20,17-38,23-32,13-19,33-16,37-39,4-33,8-18-5-28-3-29,4z" fill="#D83900" stroke="#F9E300" stroke-width="30" stroke-linejoin="round"/>
<path transform="scale(.1)" d="M11469,6020l17-34 12-38 11-17 27-11 14-20 36-15 18-21 32-11 40,2 27-19-33,23-36,24 2,37-21,28-20,28-16,15-26,29-30-3-27-3z" fill="#CD0000"/>
<path transform="scale(.1)" d="M11402,5869l10-25 11-40 24-10 22-25 23-28 27-21 14-23 20-11 22-10 28-24 17,34-28,7-22,38-17,38-24,33-21,18-12,15-10,34-20,8-24,23-17,19 11,34-18-39-6-25z" fill="#1874CD" stroke="#4B939F" stroke-width="20" stroke-linejoin="round"/>
<path transform="scale(.1)" d="M9488,5201l31-4 15-15 38-14 25,12 40,6 22,0 30,7 30,3 20,5 30,6 27-5 18-4 37-14 21-16 37,13 27-14 19-5 34,11 17,28 27-18 38-12 30-8 27-15 12-14 24-10 38,11 23,16 15,17 23,15 24,13 28,29 25,26 8,31 25,36 24,28 15,10 28,12-24,33-9,34-38,7-22,1-25,13-15,12-28,12-33,7-39,15-37-1-23,23-20,5-21,9-33-3-24,11-23,0-31-1-31-20-31,20-27,7-38-4-30,6-35-13-35-6-29,0-25,5-28,0-29-11-33-20-19-7-18-21-21-15-24-21-37-10 0-26 10-19 6-25-7-31-6-40 2-35-2-26z" fill="#B2D144"/>
<path transform="scale(.1)" d="M10006,5235l28,4 21,4 28-9 34-13 23-20-1,39 16,23-3,45 4,27-25,6-22,4-26-1-27,24-24-23-16-22 2-34-1-23z" fill="#4B939F"/>
<path transform="scale(.1)" d="M9655,5084l27,5 40,7 31,4 19,1-17,33-22-17-33,13-45-4z" fill="#4B939F"/>
<path transform="scale(.1)" d="M9472,5661l38-4 30-14 38,20 20,3 31,3 34-17 23-12 37-3 41,4 25-25 33,15 25,14 21,3 36,13 23-1 29,13 16,9 43,0 22-11 36,3 24-7 43-6-28,20-18,14-10,21-11,20-17,7-33,0-21,2-31-8-30,14-35,18-39-11-24-8-19-17-29-6-18-8-38,17-25,1-39,10-26-1-42-1-35,24-7,30-40,18-17,10-28,9-21-20 7-41-3-23 0-23 6-39z" fill="#E37100"/>
<path transform="scale(.1)" d="M9522,5803l24-20 33-22 43,8 23-14 41,7 31,0 22-10 35,5 21,12 22-12 27,23 28,6 12,32 13,23 42,12-32,24-35,17-42-7-25-7-25,7-41-1-22,16-12,15-15-16-37-16-26,4-22-20-14-30-12-15-38-5z" fill="#F9E300" stroke="#E37100" stroke-width="30" stroke-linejoin="round"/>
<path transform="scale(.1)" d="M9655,5794l21,10 32-6 30-14 34,2 32,25 35,25-26,2-30,13-26,10-18,0-33-1-24,0-27-24z" fill="#B2D144"/>
<path transform="scale(.1)" d="M10290,5034l24-13 27,5 24-11 25,19-7,20-9,24 9,27 24,29-36-13-24-5-24,2-12-35-9-26z" fill="#E37100"/>
<path transform="scale(.1)" d="M8937,5051l41-1 26-16 16,40 0,27-41,11-25,6 0-44z" fill="#4B939F"/>
<path transform="scale(.1)" d="M10500,5251l36,2 32-19 30-17 19-16 21,13 29,35 31,1 36,1-14,23-22,29-31,32-43-3-33,2-41,1-9-36-23-17z" fill="#E37100"/>
<path transform="scale(.1)" d="M11636,5101l30,12 16,8 21,6 27,3 40,4 20,34 18,22-3,23 26,19 6,19-19,40-21,33-15,27-12,17-28-24-23,0-26-1-23-8-30-30-5-24-6-31-20-18-6-31 21-15 10-36 7-17z" fill="#1874CD"/>
<path transform="scale(.1)" d="M11436,5335l34,10 25,18 15,24 22-11 37-8 13,27 25,19 15,16 18,18 30,20-12,19-22,30-37,8-30,10-34-19-29-2-18-20-19-26-17-18-17-36-13-42z" fill="#B2D144"/>
<path transform="scale(.1)" d="M12371,5251l10-17 9-32 29-11 37-11 24-18 21-22 4-22 28-35-5-44 28-21 32-10 34-7 15,9 18,24-20,10-27,8-30,24-24,6 2,21-10,33-8,32-39,18-30,1-12,40-2,31-34,27-33-18z" fill="#B2D144"/>
<path transform="scale(.1)" d="M12004,5151l23,7 30-12 30,22 8,42 16,15 17,17 9,26-28,12-13,17-17,16-8,22-19-17-8-35-24-32-14-37 5-41z" fill="#B2D144"/>
<path transform="scale(.1)" d="M13324,5036l37,6 25-15 19,7 35,2 36-4 21-13 34,8 28,4 17,1 31,4 2,31-25,25-2,21 4,18 2,29-3,32 5,30 20,20 4,43-15,37-3,23 9,31 1,37 3,16 12,26 7,30-8,22-13,22-34-2-24-7-18,12-35,14-32,12-34,0-17-11-28-18-3-35-20-18 6-43-1-26-19-26 0-18 4-32 12-25 9-23-27-26-15-20 3-34 14-19 4-24-9-30-1-18-7-27-5-26z" fill="#B2D144"/>
<path transform="scale(.1)" d="M13331,5159l23-4 30,12 26,17-15,24-7,15-1,27-9,25-7,24 7,41 21,28 23,13-8,40-3,22-20,20-18,17 1-26-12-18-7-21-7-34-3-31 2-18 24-24 2-25-14-29-18-38-2-37z" fill="#F9E300"/>
<path transform="scale(.1)" d="M13422,4826l34,6 24,5 27-4 32,4 44-11-3,21 8,32 16,12 12,28 16,21-7,29-12,39-19,13-29,23-2,33 13,20 19,25-32,4-21,12-26,8-26-12-28-11-22-1 6-35-19-24 1-32 10-18 5-28 3-38 8-34 4-20-26-36z" fill="#4B939F"/>
<path transform="scale(.1)" d="M7425,3450l19-20 29-12 19-5 23-16 23-12 41,2 25-2 21-10 23-25 13-21 23-14 15-15 9-29 20-12 22-9 24-26 34-7 30,0 25,0 37-17 14-14 31-6 36-3 19,11 27-5 31-11 45,4 26-5 21-9 35,4 19-8 34-19 30,0 20,20 11,12 25,31 26-2 41-1 19-13 28-4 34,0 28-32-18-23-2-29 10-32 21-21 28-30 23-30 13-35 30-18 18-10 27-22 35-2 21,3 29-5 18-3 44-3 28-15-6-17-1-30 0-29 21-26 22-36 30-12 9-25 31-4 19-6 20,1 30,9 14,17 20,19 2,27-1,20-12,25 10,18 17,24 4,41 2,39-7,33 18,26 23,24 35,12 17,19 21,8 27,20 26,4 19,22 23,7 21,25 16,15 30,5 39,1 43,12 29,18 26-1 38,20 29,4 41-5 38,1 28-22 23-13 19,7 20,19 18-14 34-2 37,7 20,22 43,8 24,33 22,11 5,35 24,34 9,32 13,21 10,34 17,29 26,9 38,19 39,14 9,29 36,18 28,16 25,4 34,1 16,19 42,1 32,2 37,14 39,13 36,2 31,24 43,13 25-5 22,2 35-12 20-14 38-10 4,45 19,33 18,13 17,16 26,11 14,15 27,17 19,36-5,40 32,14 15,27 15,21 24,37 20-13 34-21 15-23 21-9 34-2 21-14 17-29 32-20 24-11 30-12 38,8 39,21 27-23 20-8 22-10 37-18 23-22 21-19 34,5 19-6 29,0 17-3 23-6 22-7 31-8 27,14 24,17 36,17 38,2 19,18 26,18 30,18 33,10 19,5 39,1 34,5 18,10 25,14 28,16 18,35 27,28 15,15 17,18 27,14 25-14 28-18 22,6 23,11 38,1 40-8 36-7 15,16 23,13 10-34-24-32 9-17 8-26 17-21 11-14-3-40-7-34 6-24 5-44-10-36-31-13-30-17 2-33 12-29-17-32 11-22 2-21 8-43 14-26 12-20 30-24 0-41-12-42-13-35-1-30 2-24 7-40-2-45-2-28 13-41 22-37-5-27-4-22-6-26 15-25-2-40-27-36 3-31-4-33-1-27-10-23-16-26 12-27-1-34 11-34-10-31 1-32-23-49-17-35 10-36 17-14 6-36 11-32 0-42 4-24-12-33 10-17 16-31-9-34-4-29 13-20 17-19-2-35 8-25-40,12-36-6-43-14-57,10-27-1-31,7-43,29-38-10-73-68-88-27-74,11-48-1-50,33-70,11-58-1-92-35-40-28-39-13-38-10-39-2-61,4-51-11-74,22-108,14-49,25-42,11-79,18-59-15-62,31-52,10-57-14-102-2-16,12-25,15-39,7-24,2-31-15-30-4-32-4-20,15-22,27-22,4-26,6-32,2-22-8-35-11-48-18-25-2-34-1-30,16-44,19-38-16-41-22-54,16-57-1-22-1-29-12-24-16-27-11-51,4-34-7-23-18-43-13-25,16-21,6-33,13-26,29-28-2-22-15-25,0-30-9-24,7-24-7-39-14-70,5-57,38-46,8-29,0-61-6-52,4-53,2-28,2-44,6-30-16-70,14-36,25-45,2-56-1-43-1-29,14-24-13-34-21-40-16-46,14-46,28-19-23-45-13-20-25-17-18-35-7-41,25-16-8-30-4-31-15-47,19-32-11-15-11-20,4-27-13-31-9-28-17-26-4-37,9-29,3-27-2-65-15-37,10-37,14-20,12-37,16-30,21-45-5-4,38-3,37-3,20 20,21 11,20-8,27-4,29-16,27 11,36 7,24-3,32 8,18 19,34 11,24 14,21 17,30 8,28 5,30-12,24-6,25-13,16 12,37 14,19 9,36 17,27 16,12-11,28-13,34-12,12-15,28-17,21-6,44 13,22-3,26 2,19 13,32 17,21 5,22-3,23-5,24 5,17 7,28-1,45-22,24-5,15-12,27 2,25-7,23 15,18 10,32 7,37-2,23-3,28-19,25-14,11z" fill="#4B939F"/>
<path transform="scale(.1)" d="M7425,3162l30-7 33-11 30-1 24-9 34,11 30,12 21,4 33,2 13,15 40-20 37,4 23-20 27-10 35-20 22-36 24-23 35-2 23,7 28-14 33,6 40,3 28-3 33-24 25,4 24-5 20,5 33-11 27-23 25-11 17-21 28-14 19-14 22-7 26-28 18-28 36-10 37-17 22-7 20-14 31-24 44-3 22-13 20-6 33-4 23-28 25-14 27-8 25-25 11-40 2-37-6-35 11-27-1-25 8-36 3-22 23-15 15-28 14-36-8-44 10-20-7-35 29,6 22,17 34-16 40-7 14,21-3,30 26,29 7,33-14,32 14,39 6,41 25,17 23,21 8,17 17,24 25,25 11,16 25,24 25,15 16,16 23,35 20,21 6,25-3,39 4,30 13,33 20,25 14,21 28,21 40,7 21,6 22,10 21,28 21,15 31-11 25,11 19,9 5,30 11,14 28,10 29,33 27,13 17,5 30-5 32-11 36,7 35,4 36,4 39,21 35,27 18,3 22,20 25,29 6,31 24,32 10,24 6,24 17,14 12,21 17,14 16,32 28,23 18-7 30,0 41,13 26,16 34,0 34,10 35-12 21,11 39-9 40,9 30-1 31,12 24,17 36,22 19-14 33-26 40,11 34-2 24,10 21,0 29-4 18,3 27,12 21,25 25,36 9,24 6,42 14,24 30,34 9,36 10,32 6,32 36-8 21,12 36-9 31,3 32-18 42-6 37,6 26-4 21,0 20-38 26-27 22-11 32-21 35-16 12-27 21-36 41,1 16-7 30-12 23-20 26,11 39,2 21,9 21,13 33,25 25,13 21,9 29,6 34,14 31,1 31,0 26,18 28,17 21-13 31-20 17-29 14-15 17-23 35,1 34,12 21-2 42-12 29-12 38-3 23,18 20-13 22-4 26-6 20,17 40,4-14-42 2-25-3-30-2-39-6-31 15-22 6-38 18-34 6-21 6-28 10-19 8-25 8-27 3-29 14-17 18-32-1-23 0-31-5-40-7-37-2-22-6-38-3-26-5-40 8-33-7-23-14-32 19-40 11-42-7-25 14-30 20-38 3-34 1-35-1-21-8-19-9-36-13-20-16-15-1-30 21-23-5-52 19-38-11-25-14-23-5-20-9-37-5-38-6-32 21-19 11-17-13-28-1-28-13-31-42,2-37-7-23-17-32-12-50,15-35-2-20,19-23,23-42-25-33-5-35,7-35,2-48-55-53-5-31,14-47,14-54,52-44,7-66-2-70,0-38-11-70-9-51-32-35,17-43-5-27,11-29-9-29-7-24-17-26-11-25-8-27-11-31-7-24,1-32-5-46,12-29-3-24,13-23,9-43-8-37-6-25,1-21-30-33,0-39-12-67-2-72-14-77-10-69,35-57-3-33-2-40-7-46-5-67-7-40-18-62,0-35,11-22,18-45,21-31,46-53,18-95-24-66,2-39,34-75,0-40,8-46-7-29,11-31-4-29,1-28,8-44,7-24,0-21-18-44,29-63,3-26-11-40,1-41,13-22,11-52,4-42-17-43-7-36-10-43-13-36,8-22,4-23,7-29-6-36-9-39,17-51,28-53,8-35,25-67,24-28,2-52,4-30-17-34-8-25-16-25-7-51-8-50-6-44-6-42,12-29,20-36,6-22-4-27-5-24,2-43,1-47-23-35-1-81-47-70,7-55-11-32-18-27-4-39-8-46,22-29,7 14,33 3,29 19,28-2,29 0,22 4,28-7,33-13,30 6,25 6,30 5,38 2,20 10,26 7,42 4,26-4,33 1,33 7,43 3,40 19,37-3,37-10,36-20,26-5,27-15,21-5,41 8,32-5,29-13,27 12,21 14,29 7,35-10,30 9,31 9,24 21,33-38,4-10,31z" fill="#7FB272"/>
<path transform="scale(.1)" d="M9300,2300l1,23 6,30 6,43 2,36 15,26 2,19 18,23 30-3 18-3 26,0 35,16 41,15 8,30 10,27 22,27 1,28 23,23 17,14 19,26 7,18 19,20-16,33 34,19 28,17 15,16 13,27 1,39 5,45 34,27 6,25 4,39 27,11 39,18 14-13 30-11 40-5 19,31 30,4 30,14 21,1 14,24 10,17 25,12 11,23 22,23 10,21 33,5 26,36 7,28 23,6 17,25 24,3 28,2 21-9 36,0 27,26 21,4 26,3 19,1 26-6 32-10 27-6 42-11 44,7 29,1 28,4 41-3 35-17 19-21 27-13 40,2 38,23 27,4 20,21 23-27 27-19 18-14 31-23 26-17 28,6 27-15 35-17 20-12 17-20 32-1 21,11 26,7 27-1 17,17 45,0 29,9 21,12 27,4 18-4 28,9 35-6 43,8 25-14 29-5 29-3 27-10 35-10 24,5 42-13 43-4 28,20 22,2 5-40 27-28 12-17 5-28 24-14 22-24 15-37 24-30 31,0 35-7 12-36-9-22-8-38 5-27 4-35 12-33 4-19 0-24-1-30 8-20 2-32 26-15 9-30 5-35 2-24 27-27 9-37 1-23 15-32 20-40 1-26 7-28 9-28 20-12 13-28 6-22 26-26 1-35 25-27 17-24 34-28-13-18-5-35 16-34-30,10-44-1-44-1-36-19-29,12-19-5-31-13-38,5-25,20-37,8-23,13-19,9-28,3-40-15-29,6-20,1-50,23-40-5-25-7-31-16-31-4-34,21-24,16-40-14-35-15-32-21-33-27-21,10-31,19-29,3-31,13-30,12-26,1-33,13-21,10-29-4-43,5-20,0-27,17-38-3-19-16-38-2-22-3-32-14-19-3-29-12-40-21-16,8-32,5-41-2-22,18-27-9-38-1-23,24-18,11-38,19-22,21-39-4-33-19-32-15-26-2-20,6-16-17-12-26-21-13-27-9-42-11-20-16-59,14-33-11-28,32-26,15-17,1-25-29-32-12-41-3-32,6-36,9-26,15-31-4-18-2-29,6-39,2-34,18-23,19-24-5-28,0-47-13-32,10-54,4-32,5-19-8-31-12-28,2-36,7-26,1-29-15-15-11-38-6-22-12 3,32 8,32 6,22 3,30-1,24-19,37-12,40 9,31 3,27z" fill="#B2D144"/>
<path transform="scale(.1)" d="M8150,2355l31-7 22,12 22,11 29,5 17-2 21-7 32-10 40-12 35,17 26-7 2,20 12,30 11,33-24,2-33,10-33,5-28,2-32,5-25,1-35-12-26-15-24-14-40,16-9-21-3-27z" fill="#B2D144"/>
<path transform="scale(.1)" d="M9300,2400l29-17 22,0 28-15 42,11 42,10 37,23 25,30 20,26 7,42 1,33-3,32-27,18-36,1-31,22-14,29-15,9-27,8 0-29-18-37-29-20-24,5-29-6 6-31-5-31 3-18-8-28 17-37z" fill="#B2D144"/>
<path transform="scale(.1)" d="M9975,2950l5-23 13-23 1-29 7-23 9-22 28-19 21-22 16-14 32-16 22-13 19-14 23-33 4-24 23-24 34-23 28-6 40,3 25-17 21-6 29-8 26-11 43,7 23-7 33,17-37,10-18,39-28,15-17,11-23,21-26,22-20,17-20,30-26-11-35-4-30,14-27,18-19,23-19,33-30,24 2,23-21,31-16,27-34,20-31-1-30-4z" fill="#F9E300"/>
<path transform="scale(.1)" d="M10725,2912l39-1 25,6 21,15 15,18 21,34 25,13 5,31 42-4 32,1 22-2 27-1 37-5 25,31 27,8 37,6 31-3 19-7 29-12 28-2 16-10 22-11 27,0 28,3 31-33 44,4 35-14 16-26 25-7 24,6 21,37 17,16 14,16 22,9 26,22 25,18 5,26 13,43 19,19 38,6-23-1-22-11-20,7-27,2-33,11-24-7-28-4-19-6-27-11-19-21-8-16-39,8-36,9-33,12-24-7-24-5-44-2-34-2-24-12-22,10-36,1-34,13-41-10-25-4-28-4-14-39-42,7-36,0-17-17-37-24-23-14-37-20-20-34-12-30-13-20z" fill="#F9E300"/>
<path transform="scale(.1)" d="M8000,2475l40,6 38-21 36,13 18-32 20-35 32,10 15,17 33-7 18-1 20,13 22,5 34,2 38-9 30-8 13-16 23,21 18,4 23,14 29-1 17,15 31,6 29-4 24-1 23,4 25-25 21-11 32-16 19-3 29-15 20,7 25,20 26-1 23,7 31,9 25,8 12,39 10,24 0,39 5,35-9,21 4,32-4,27 7,33 0,31-11,29-34,8-30,32-35-8-24,18-20,10-28,3-17,3-33,1-31,17-11,18-17,19-34,19-36,17-28,17-26,11-21,9-32-11-30-3-27,10-23-10-39,7-37-11-29-20-32-9-26-10-10-22-4-25-24-11-26-13-30-9-18-18-15-31-3-19-21-26-13-23-26-26-6-24 2-28-9-42 11-34-20-31z" fill="#4B939F"/>
<path transform="scale(.1)" d="M8250,2762l26-4 21-9 33-3 31-12 39,4 10,24 8,23 7,40-42-4-30-4-13,18-25,6-40-3-5-37z" fill="#7FB272"/>
<path transform="scale(.1)" d="M7488,3550l21-5 36,5 43,12 16,27 4,20 2,26 1,37 9,28-3,31 4,44-19,21-40,16-40-6-34-18 15-22-2-23 1-23 7-33 4-21 5-19 6-29-24-30z" fill="#F9E300" stroke="#B2D144" stroke-width="30" stroke-linejoin="round"/>
<path transform="scale(.1)" d="M7495,3600l43,0-3,22 7,24 15,27-2,39-23,19-32,14 18-37-7-27-7-39z" fill="#CD0000"/>
<path transform="scale(.1)" d="M7475,3950l24,4 33-16 30-18 39-15 25,14 25,2 26,19 37,17 34,5 30-6 24,0 23-6 17,22 9,16 20,21 15,15 14,26-25,1-24,9-32,14-24,13-28,13-19,37 2,38-32-16-24-4-36,9-21,7-33,1-33,3-20,25-28,14-19-1-29-13 20-30 7-19-5-33-19-39 13-26-1-20-3-30-11-33z" fill="#4B939F"/>
<path transform="scale(.1)" d="M7500,3225l25-15 32-7 33,6 24,6 32-21 33,0 45-1 34,13 27,12 35,11 34-11 19-14 44,8 33,0 7,28 29,33 3,34 11,18-3,22-18,27-37,11-25-4-37,5-30-6-24,7-23,16-26-4-27,1-18,4-29-1-28,12-27-6-19-24-21-1-23-12-39,1-28-4-18,6-19-36 4-44 18-27z" fill="#7FB272"/>
<path transform="scale(.1)" d="M13400,3700l11-33 11-27 8-17 1-44 17-24 27-30 20-11 19-12 25-28 18-5 20-25 23-24 25,0 36-16 34,11 29,19 23,5 16-25 20-19 38,12 25-1 43-3 36,17-2,27 9,42-5,39 4,23-2,28-7,29 18,20 5,43-17,20-2,30-13,40 12,39-20,32 6,20-12,32-8,28-16,38-22,6-25,0-36,16-21,7-21,21-28,6-17,2-41-6-38-9-38-1-38-17-23-23-22-19-28-24-28-10-24-24 15-38-11-32 3-23 1-23-14-22z" fill="#4B939F"/>
<path transform="scale(.1)" d="M13438,3700l27-24 24-30-12-26 7-28 14-23 2-31 24-37 18-9 27-6 25-11 18-25 31-22 27-18 23-10 28,5 36,25 30-10 15,14 32,10 40-2 26,8 33,29 8,26 16,16 3,32-3,37-5,24-8,34-14,38-15,40-3,24-27,25-10,19-12,39 2,31-2,28-1,33-27,5-22,8-33,5-27,10-15,22-39-3-24-1-41-11-22-7-22-11-28,8-30-4-20-2-19-38-13-33-18-23-6-27-16-28 8-29 14-24-17-25z" fill="#7FB272"/>
<path transform="scale(.1)" d="M13500,3700l13-32 1-19 2-31 13-14 21-29 23-12 21-3 26-26 16-13 14-21 26,20 16,8 30,7 19-7 29,15 7-27 33-15 28,2 37-3 2,42-2,32 3,29 4,21 10,32-1,28-3,41 3,34-7,35-25,35-5,31-16,15-19,9-27,9-42,5-25,27-25-13-39-2-23-4-38-6-14-26-24-8-20-9-10-23-20-34 9-33-9-28z" fill="#B2D144"/>
<path transform="scale(.1)" d="M13600,3700l13-29 17-18 8-28 38-15 19-8 30-14 32-2 28,17 27-3-14,29 5,44 3,22 19,30 0,23-9,31-7,29-34,17-29,6-12,20-34-1-35-23-27-13-13-14-19-32 3-29z" fill="#F9E300"/>
<path transform="scale(.1)" d="M13400,3725l37,20 38,5-2,24 0,22-11,29-18-13-26-13-30,1 6-28 2-17z" fill="#F9E300"/>
<path transform="scale(.1)" d="M12600,4062l35-12 34-28 27-17 25-3 29-2 44-6 25,11 39,2 20-6 24-5 44,1 25-3 29-6 33-12 18,6 30-6 30-3 28,22 25,4 33-7 35,1 18,12 30,4 21,6 15-12 25-10 32-14 32-4 36,17 28,12 31,26 28,6 28,28 39-2 13,22 22-19 26,10 27-3 17-10 35,24 35,16 34,8 21,2 6,31 4,31-12,36-23,14-2,23 2,28-26,18-14,10-22,13-13,34-37-8-16,3-30-4-23-2-36,5-30-8-21-5-32-6-26,22-21,4-37,3-29,0-30,17-26,0-44,10-16-10-21-21-28-6-27,6-42,9-32-4-12,28-29,9-42,12-20-9-18-20-26-9-28-4-22,11-18,15-28,17-22-7-24,0-29,17-30-12-23-3-28-12-31-6-44-4-26-1-21-2 2-23 6-40-3-19-5-33-14-40-24-20 11-39 27-29 2-33z" fill="#4B939F"/>
<path transform="scale(.1)" d="M12750,4100l36-8 24-13 31-11 20,7 27-17 37-4 24-6 20,8 31-6 25,5 21,2 20,2 26-2 42,6 26-14 28,3 29-8 33,18 33,24 19,7 26,0 27-13 28-11 24,13 43,6 38,15 39,9 33,8 25-5 40,10 26,9 24-3 27,31 23,38-12,23-11,22-26,28-26,15-38,3-22-18-17-19-22-5-27,1-23-16-27,25-24,3-17-5-30-11-28-28-17-3-28-5-40-9-40-1-32-7-34,1-36,9-22,10-20-14-22-25-34,1-33,0-38,18-25,7-21-3-32-22-23,10-28,15-15-30-7-21-10-33-28-10z" fill="#7FB272"/>
<path transform="scale(.1)" d="M12800,4112l17,2 29,7 34,0 39-6 29-18 29-1 23-16 33,8 29,24 30,4 33,4-21,8-22,10-26,24-18,8-23,8-34,21-39,1-31-20-24,8-25,0-30-28-17-25z" fill="#B2D144"/>
<path transform="scale(.1)" d="M13300,4112l15-15 31,8 28-1 34-9 37,5 33,5 22,7 26,13 19,18 24,18 27,31 34-1 34-10 24,7-28,33-3,21-19,20-18-18-18-10-30,12-33,7-40-7-37-8-40-17-20-23-25,7-24-12-28-18-28-33z" fill="#B2D144"/>
<path transform="scale(.1)" d="M13588,4188l32,10 28,15 22-1-17,36-8,22-26-20-37-5 13-29z" fill="#F9E300"/>
<path transform="scale(.1)" d="M12750,4430l30-12 14-15 17-13 28-14 30-14 14-17 17-20 18-8 21-17 34-14 25-14 16-10 27-15 25,3 14-14 11-28 29-9 30,1 39,3 25,8 36,14-19,31-14,27-35,12-33,11-36,24-26,7-37,13-43,7-34,22-22,27-11,23-28,6-12,15-26-7-36,2-17-22-6-19-8,17-27,12z" fill="#4B939F"/>
<path transform="scale(.1)" d="M13050,4450l24-34 4-31 26-20 22-10 32-8 18-2 42-11 32-9 21-18 35-15 38,2 22-17 34-2 28,27 22,23-34,18-26,17-31,12-20,20-18,24-24,21-12,12-35,1-27-8-19-5-38-7-25-4-32,0-23,9z" fill="#4B939F"/>
<path transform="scale(.1)" d="M13950,3420l25,4 22,7 29-15 21,6 19,28 34-5 24,0 20-10 26,5 21-25 34,15 30-32 36-9 34,23 20-23 6-18 11-33 25-8 33-9 30-21 12,38 1,37 23,30-6,30-4,33-12,25 1,30-4,19-9,38 16,17 8,25-3,34-9,32-11,27 2,17 2,31-12,37-9,34-19,12-13,35-3,23-14,32-18,35-19,17-24-20-24-9-37-8-30,12-23,5-28-18-31,6-42,5-26-10-39-6-27,20-25,12-19,18 17-19 1-34 4-26 3-43-12-18-16-26-24-38-3-43-13-20-7-28 8-33 4-36 8-44 0-27 16-37-1-22 10-28-2-21z" fill="#4B939F"/>
<path transform="scale(.1)" d="M13950,3450l20,11 30-11-3,32-24,29 14,23-11,23-5,38 11,29 21,27 13,25-4,24-2,38 0,35-23,34-12,39 6,31 7,23-21,21-17,29 8-33 17-38 10-43-16-40-17-24-9-35-13-37 22-18 11-28 3-37 7-24 5-24-16-25-8-39-2-26z" fill="#1874CD"/>
<path transform="scale(.1)" d="M14025,3450l34,7 37,2 34-15 19,16 15,16 38-8 36-4 15-17 15-13 32-9 27-33 28-19 20-23 32-3 31,3 2,44 13,34 9,25 18,34-27,34-1,29-3,27-14,21-8,25-9,29 11,18 1,30-16,9-24,14-26,10-16,22-5,23-18,22-20,13-40,13-40-1-23-9-12-21-33-20-32,0-16,22-8,22-15,18-15,37-7,30-14,21-38,0-2-26-3-22 4-42 12-37-12-38 8-22 6-38-3-31 17-24 4-32-13-15 9-38 8-40 4-30-4-19z" fill="#B2D144"/>
<path transform="scale(.1)" d="M14300,3450l37-16 22-28 16-31 33,21 22,4-1,31-2,31 4,30-4,16 3,26-1,25-9,41-6,25-23,31-41,19-16-19-23-14-9-27-14-15-8-32 10-21-9-24 6-31z" fill="#F9E300"/>
<path transform="scale(.1)" d="M14062,3500l29-14 17-5 42-6-7,30-5,40 10,25-12,27 26,28-18,31-23,28-24,27-9,39 2-20-14-28-4-22-22-30 2-18 2-28 12-33-19-34z" fill="#F9E300"/>
<path transform="scale(.1)" d="M14125,3850l23,21 25,9 23-25 34-5 23-8 35-15 37-2 23-14 22,4 38,3 17-18 15,28-2,40 18,41 2,21-14,24-6,26-39-21-30-10-36-3-20,5-28-7-20,16-25-14-18,14-37,10-35,26-38-6-12-39 2-33 12-26z" fill="#1874CD" stroke="#4B939F" stroke-width="30" stroke-linejoin="round"/>
<path transform="scale(.1)" d="M14425,3300l21-20 17-39 5-23 18-20 22-15 28-9 10-20 15-37 2-33-7-33 10-29 34-24 26-28 23-32 6-22 22-8 17-27 6-33 23-34 21-22 29-20 20-20 20-17 12-35 41,10 39-6 33,6 21,5 31-13 14-13 28,1 17-3 21-1 28,0 41,8 27,21 24,26 42,4 38-1 13-18 17-26 4,29 12,23-2,31 21,17 14,23-3,21 5,41 5,28 5,24-15,22-1,37 3,21-7,25 7,24 6,39 7,44 21,29-14,43-9,43 3,29-10,27 4,32 5,36-8,18-1,29-17,38-35,27-34,20-31,5-20,22-17,22-29,18-22,17-24,6-38,0-43-8-37,18-29,5 2,34-21,24-9,18-25,10-16,19-31,23-25,8-29,20-25,18-18-9-29,10-28,20-35-1-29,12-29,9-25,20-14,13-21,11-18,17-31,13-18,8-22,12-18,16 5-36 0-21-26-23 8-25 7-35 4-36 16-32 16-35 7-31-5-18-5-30 1-39-8-31-11-21-21-14-21-40-5-24 0-35 7-26-8-36-4-36z" fill="#B2D144"/>
<path transform="scale(.1)" d="M14450,3325l19-39 8-26 15-23 32-8 26-29 13-40 3-36 15-25 30-21 5-31 9-22 11-32 26-32 21-31 29-13-12-42 7-40 11-43 13-13 12-30 28-20 29-29 19-3 28-2 14,32 17,26 22-9 25-7 23-8 27-4 16,20 9,21 32,20 18,39-13,18-18,18-14,36-5,28-33,20-28,31-21,18-18,6-8,36-26,19-27,29-20,28-19,13-14,27-25,33-29,19-32,21-34,13-12,31-7,40-19,21-28,20-26,32-20,21-29,22-26,16-37,21-8-15-12-27-20-26 1-29 16-16z" fill="#F9E300"/>
<path transform="scale(.1)" d="M14462,3625l25-27 10-23 28-9 15-19 10-22 44-1 22-22 13-27 17-27 4-23 28-20 16-19 6-23 28-7 29-20 20-19 23-17 38-6 43,0 36-21 31-18 27-5 13,16 12,25-8,33 1,19 7,32-16,21-16,12-26,13-24,21-18,33-23,15-19,14-16,12-24,19-34,10-34,5-16,26-22,26-32,29-30,19-43,1-25,31 9,30-3,21-23,28-15,14-20,13-28,17-27,20 16-40 12-35-14-39-8-34-13-17z" fill="#7FB272"/>
<path transform="scale(.1)" d="M14900,2950l20,0 26-19 20-6 23-19 38,5 23-11-8,25 15,27 9,31 8,30 16,12 10,25-25,22-29,7-13,42-33,29-15-18-21-20-29-15-35-22 4-41 3-24-15-27z" fill="#7FB272"/>
<path transform="scale(.1)" d="M14450,3725l20-19 30-6-20,29-11,20-17,37 9,21 19,15 14,35-12,17-1,36 19,40-23,14-27,36 7-34-1-26 17-40-6-24-10-21 8-31 12-30-4-30z" fill="#4B939F"/>
<path transform="scale(.1)" d="M14850,3650l15-20 28-11 21-23 19-18 36-12 31-16 34-27 24-17 27-13 20,8 22-3 25-10 38-23 33-6 27-9-1,37 31,25-27,12-9,36-41,15-25,19-26,31-30-18-29,7-20,6-30,14-18,4-34,6-20,14-19,12-27,4-18,16-32,22-1-30z" fill="#F9E300"/>
<path transform="scale(.1)" d="M3000,2250l4458,0 0,2205 421,0 0,1145-200,0 0,1020-4679,0z" fill="#B2D144"/>
<path transform="scale(.1)" d="M4737,2350l42,16 21,10 40,12 24,9 34,23 24-12 22,13 21,1 35,10 18-11 32-5 40-11 20,11 25,3 27-5 19-5 16,6 29,10 22-22 27-3 24-15 29-1 19-4 23,3 32,12 23-25 13-14 24,1 27,4 24,8 37,16 15-15 26-8 29,5 22-9 39,5 43,0 24-16 25,3-15,42-15,22-8,19-20,35-9,33 13,33 10,36-2,27-12,24-10,19-32,28 1,34 11,21 3,29-12,22 14,27 15,25 26,8 12,21 29-10 35,6 31-17 21-7 16-29 20,4 28-17 28-6 18,4 27,0 24-21 15-21 39-7 21,21 24,32 19,23 36,8 21-5 32,16 43-4 19,10 35,0 29,21 20,3 27,13 21,27 20,19-12,29-5,18-12,21-4,32-22,26-32,17-42,16-38,8-17,16-15,24-32,29-20,21-16,11-36-8-30,11-19-1-43,6-39-8-17,34-12,20-17,26-21,20-42-10-34-14-24-10-23,21-22,29-34,9-21,8-6,29 6,24 7,21-7,26 34-16 22-2 43-6 21,19 21,10 31,7 22-6 40-6 2,35 8,32-15,40 3,33 14,41 9,38-8,23-3,28 8,16-2,35-2-40-22,14-22,9-23,13-13,20-13,15-20,29-26-19-37-24-37-1-25-6-27-9-28-17-13-17-32-7-38,15-28,11-10,15-18,9-30,15-26,35-29,7-32-1-18,9-39-2-32,12-28-24-25-6-35,5-24-10-38,10-28-13-36-24-21-28-15-35-9-20-22-28-31-17-19-17-19-18-8-36-14-20-11-39-28-16-14-39-9-21-8-25-11-39-28-29-7-36-24,19-12-24-29-34-2-40 9-35-5-31-2-17 5-38-26-16-5-32 10-24 26-20 13-21 18-35-13-35-6-31 12-25-7-25-20-35-2-34-10-23-8-27-15-32-15-17 23-22 0-23 4-23-28-33 12-27-14-24-21-25 2-25-3-21 18-23-12-28z" fill="#CD0000" stroke="#F9E300" stroke-width="30" stroke-linejoin="round"/>
<path transform="scale(.1)" d="M3117,2551l41-5 38-24 17,20 29,15 28,2 30,11 34-3 32-12 27-2 32-3 24,10 35,24-1,42-5,30-10,28-17,22-9,20-27,4-14,21-10,30-14,18-16,10-27,9-24,19-22,12-21,36-7-42-8-18-18-24-18-20-1-27-9-16-15-30-7-24-6-28-12-17-32-21-8-36z" fill="#CD0000" stroke="#F9E300" stroke-width="20" stroke-linejoin="round"/>
<path transform="scale(.1)" d="M3635,2350l44,1 20-23 27-5 22,12 30,3 30,10 41-8 24,6 39-2 26,18 24-1 37,24 26-22 38,3 36-9 29-4 41-3-3,45-7,26-2,18-4,28-25,3-19,7-21,21-19,3-23,33-16,19-28,31 8,27 26,32 0,41 13,20 19,24-4,35 5,22-21,14-25,15-20,36-1,35-27,25-22,28-18,23 1,24-20,37-3,27-11,36-13,30 5,36-25,35-26,22-19,13-35,8-33-14-21-13-26-16-27-10-18-18-29-6 1-26-2-22-23-27-28-15-15-10 1-27 15-21 26-15 24-20 18-17 20-21 9-18 13-36 8-26 11-13 22-18 11-38-11-31-1-26-10-36-6-38 14-24 17-21 1-28 2-27-29-7-8-22-26-15-21-23-22-30-6-33-3-21-4-27z" fill="#CD0000" stroke="#F9E300" stroke-width="30" stroke-linejoin="round"/>
<path transform="scale(.1)" d="M4236,2350l27,4 23,4 41-5 32-1 33,13 29,16 43,5 23-3 28-7 44,2 27-2 20-1 38,8 26-9 34-24-21,22-12,18 2,37 18,38 14,20 4,26-5,23-39,6-21,8-40,3-29-13-23-27-27-13-21,3-42,3-25,30-36-23-29-9-36-18-22-18-19-4-25-12 9-26-10-26-3-18z" fill="#CD0000" stroke="#F9E300" stroke-width="30" stroke-linejoin="round"/>
<path transform="scale(.1)" d="M3551,3286l44-7 19-18 28-12 25,30 26-5 24-11 18-11 17,21 31,9 19,37-14,24-5,22-8,26-3,28-4,34-17,33-24,15-16,15 8,37 16,33-8,33-6,38-15,35-4,23 0,25-1,28 4,24 17,24 5,26 6,18 13,25 20,20 7,37 1,40 2,32 5,36-7,26 15,23-5,25 8,33-27,19-15,24-25-1-23-10-35,10-24,5-33,17-35-21-9-29 5-39 11-18 2-35-5-35 8-20-7-41 8-33-6-44-20-32 0-20 0-26-19-31 0-24 6-17 10-28 11-36 5-28 27-24-12-23-22-31-19-22-9-28 9-37 1-32-5-18-10-30 0-21-2-31 7-31 4-20z" fill="#CD0000" stroke="#F9E300" stroke-width="30" stroke-linejoin="round"/>
<path transform="scale(.1)" d="M4169,3353l31-7 24,5 34-13 28-7 17-37 33-8 16-18 8-30 35-27 23-11 41,1 21-8 24-7 43-10 28-2 21-6 32,0 29-5 14-11 33,15 16,14 40,3 44,2-9,21-11,39-3,36-10,37-32,22-17,17-15,35-3,26-9,33-3,35-13,43-8,23-21,23-21,30-9,20-12,26-4,35-4,13-21-6-29,10-27-3-35,10-30,1-35-1-23,14-19-21-23-15-26,4-23-12-41-18-32,11-31,1-30,25-18-19-20-11-27-15-25-30-35-25-4-25-14-40-16-12-16-23 22-25 29-17 24-8 22-3 39,6 2-19 7-29 8-20z" fill="#CD0000" stroke="#F9E300" stroke-width="30" stroke-linejoin="round"/>
<path transform="scale(.1)" d="M4069,2551l27,4 23,15 22-6 33-1 19,10 36,9 41,2 42,11 25,5 21-10 38-5 15,22 26,11 34-6 16,12 23,13 27-26 24-9 36-16 20,17 41,0 26,25 20,6 5,21-13,26 1,35 0,31 3,21 4,33-26-30-12-14-29-6-26-15-16-24-16-9-31-19-23-2-21-14-30-13-19,9-34,13-44-8-41,15-19,11-34,16-36-1-27,9-17,15-29,11-27-3-23,10-21-1-8-32-11-19-15-25-16-36 6-21 26-23-2-23z" fill="#B2D144"/>
<path transform="scale(.1)" d="M4336,2684l27-3 39,11 33,2 29-26 40,0 16,5 27,17 23,13 27,2 13,28 27,18-10,30 17,16 10,28-4,41 29,33 17,19 7,31-2,39-27,25-3,22-25-20-21-12-21-18-43,3-22-8-18-16-34-26-17-20-35-26-18-24-21-20-9-13-22-34-7-22-7-26-12-25z" fill="#4B939F" stroke="#7FB272" stroke-width="30" stroke-linejoin="round"/>
<path transform="scale(.1)" d="M4069,2801l25-21 16-18 21-18 23-3 23,3 26-10 36-3 24,1 24-2 26,15 23,6 29,32-4,34 26,18 23,26 13,19 23,14 24,24 28,17 33,25 27,7 21,7 25,11 16,32 21,12 30,6-18,16-22,20-27,14-29,15-26,9-29,16-20-6-30,0-32,5-21,4-29-8-22,7-30,8-26,12-31,3-35,13-41,6-34,27-25,4-28-5-24-1-23-8-25-16-33-11-42-7-23-31-18-15-10-18 1-36 10-43 8-30 21-24 44-3 25-7 27-9-7-35 22-16-11-23 2-28z" fill="#1874CD" stroke="#4B939F" stroke-width="30" stroke-linejoin="round"/>
<path transform="scale(.1)" d="M4069,3186l25-7 32,1 31-30 16-23 42,4 32,2 26,2 34,7 29,10 29-15 37,10 20,19 15,20-32,30-25,17-10,19-20,3-33-2-25,18-16,13-40,2-34,17-21,11-34-14-14-16-34-2-30,4-25,10-24-7-35,8-11-28-38-17 13-19 31-23 31-20 29-8z" fill="#1874CD" stroke="#4B939F" stroke-width="30" stroke-linejoin="round"/>
<path transform="scale(.1)" d="M3384,3252l30-6 20,3 36-1 31-12-5,42 11,41-9,20 17,24 20,23 4,20 5,25-28,21-9,32-10,28 4,41-10,27-6,27 6,33-17,26-6,21-27,19-19,25-7,21-17,22-22,18 4,40-3,23-2,45 5-44-18-29-25-35-14-42 15-29 12-21-6-27-4-32 27-35-8-29 10-35 19-25 4-25-5-17-12-25 16-38-9-36-5-17 1-28-3-17-8-30z" fill="#4B939F" stroke="#7FB272" stroke-width="30" stroke-linejoin="round"/>
<path transform="scale(.1)" d="M4725,3600l26-19 22-11 27-20 8,25 29,29 25,12 11,20 23,36 4,28 16,42 14,20 14,22 13,15 27,13 16,13 23,16 39,15 19,24 38,15 31,30 28,21 21-3 35,18 36-8 27,11 28,11-15,18-19,17-24,21-17,19-39,1-27,5-22-5-31,1-31-2-25-11-20-5-24-11-28-12-24-4-29-7-21-20-17-8-22-14-35-12-30-21-16-19-13-31-26-27-23-30-9-18 12-41-8-37 6-32-10-31-23-18z" fill="#1874CD" stroke="#4B939F" stroke-width="30" stroke-linejoin="round"/>
<path transform="scale(.1)" d="M5325,3975l32,2 41-11 17-11 28-10 28-2 29-18 18-16 26-11 25-23 29-20 39-6 13-24 24-15 8-16 8-27 25-16 35-26 35-2 35-13 30-5 25-5 19-2 27-9 41-14-10,27 16,24-2,28-2,28-2,18-14,18-14,17-25,26-25,14-7,20-27,5-21-6-22-9-32,17-9,29-12,20-31,22-23,27-27,11-19,19-26-4-26-1-27,3-28,3-22,5-25,14-22-3-27-14-28-12-27,8-25,14-17,4-29,15-39,20-23-19-13-13 12-27 15-14 28-13z" fill="#7FB272" stroke="#B2D144" stroke-width="30" stroke-linejoin="round"/>
<path transform="scale(.1)" d="M4400,3700l34-9 41,4 37-27 29,9 18-9 41-18 30,4 27,1 33-8 14,36 16,17-6,20-10,34-5,28-7,22 7,29-11,33-13,38 23,34 5,31 8,26 2,20-7,24 19,24 7,18-2,27-3,29-2,22-5,29-24,10-27,5-32-20-27,2-23,4-27-7-17,10-29-2-31,1-21,6-42,3-20-12-30-4-16-15-3-20-4-25-13-11-20-22-14-41 11-21 16-28 9-34 17-40 5-41-8-36 17-32 11-33 4-18 3-27z" fill="#1874CD" stroke="#4B939F" stroke-width="30" stroke-linejoin="round"/>
<path transform="scale(.1)" d="M4750,4050l30-2 32-7 40-9 30,1 27-11 33,7 22,16 17,17 19,13 31,4 17,10 23,6 32,6 32,1 26-22 32-13 24,1 22,18 11,14 24,1 25,5 30,8 19-2 33,9 20-1 29-7 15-8 30-2 25-3 42-13 26-10 32,4 24-11 24-15 14,21 26,1 22-18 40-9 35,2 24,0 20,9 31,2 30-2 18-13 14-26 28-27 25,5 9,30-5,16-12,36 6,28 3,43-1,39-18-5-28,11-32,1-34,17-35-8-27-10-22,9-27-3-32-3-16,10-24,16-26-7-16-14-25,8-13,20-25-11-22-3-34,18-42-8-23-3-24,5-30-12-19,16-34,10-43,13-32,12-29,1-38,8-28-18-39-2-33-28-25-32-34,7-29-9-24-9-23-4-30,4-23,3-35,9-30-1-36,1-36-2-30-7 17-22 5-32 1-38-11-21z" fill="#F9E300"/>
<path transform="scale(.1)" d="M5725,3950l20-2 24,18 37,1 25,0 21-10 16-11 29-9 32,11 22-14 24-9-5,25-6,32 3,39-15,28 17,35-1,25-3,37 10,29-22-2-39-8-35-4-22,2-32,12 9-35-13-42-19-24-27,1-2-29-19-16-5-35-15-20z" fill="#CD0000" stroke="#F9E300" stroke-width="20" stroke-linejoin="round"/>
<path transform="scale(.1)" d="M4900,4100l35-20 20-3 20-20 21,10 32,15 33,5 39,13 20,30 3,22 10,17 17,23-31-22-30-18-39-3-26-4-20,18-21,2-30-3-33,8-20,22-2-22-7-25 4-27z" fill="#CD0000" stroke="#F9E300" stroke-width="20" stroke-linejoin="round"/>
<path transform="scale(.1)" d="M5712,2355l35-28 26,15 43,5 25-10 25-4 20,9 22,8 22-3 35-2 35,10-2,42 17,25 22,21-1,21-11,36 1,28-13,43-28,28-16,25-19,26-12,33-7,26-5,24-13,35-31,13-32-6-16,19-23,19-24,14-12,13-25,10 4-24-24-31-14-36-1-36-3-23-35-21-6-25-2-21 1-25-14-29 22-32-10-34 7-37 9-40 13-20 19-25z" fill="#F9E300"/>
<path transform="scale(.1)" d="M6325,2500l34,18 24,1 44,5 29-21 34-2 44,2 20-14 18-12 34-13 37-15 36-11 31,2 40,10 40-4 25-4 32-16 17-7 25-14 30-2 26,7 17,6 25,5 31,15 32-5 37-2 22-12 26-16 40-11 34,23 8,20 28,14 38-8 22,1 13,36 26,7 20,8 28,4 25-14 41-6-11,39 16,39 14,34-6,29 7,20 3,29 15,34-8,41-15,39 0,27-9,41-7,21-9,30-16,15-20,25 22,27-7,34 6,20-1,19-5,27 7,31-10,16 1,44 6,21 12,23 4,28-5,26 15,41-12,37 2,24-13,32 24,12-36-15-39,2-35-15-30-1-20,5-23,22-25,2-18-4-30-7-27-6-24-3-26,3-18-17-26-8-21-6-22-10-20-21-18-21-38-12-30-18-24-6-27,1-27-17-37-25-31-23-36,0-19-24-42-13-36-21-30-33-29-27-16-14-28-18-9-32-7-19-9-38-13-31-19-30-27-17-16-33-18-28-18-33-19-27-9-31-15-17-21-14-18-28-6-21 9-32 13-22-2-33-16-30z" fill="#7FB272"/>
<path transform="scale(.1)" d="M6600,2650l40,5 41-2 19,8 34,0 29-5 17,11 27,19 30,5 24-6 39-10-2,31 8,33 4,35 19,30 7,38 0,27 12,35-15,17-8,29-15,29-20,19-10,19-28,12-36,1-23,3-23,17-20,0-22-19-22-24-18-9-10-25-3-23-23-26-30-16-22-8 12-33-11-24-5-31 2-24-2-45 16-31-8-35z" fill="#4B939F"/>
<path transform="scale(.1)" d="M7000,2825l32,10 41-3 31,4 37,7 29-6 29-7 23,0 25-16 29,16 28-3 21,1 27,2 23-19 36-13 30-7 17,9 9,27 1,17 9,15 11,26-4,27-4,22 22,31-23,32-8,34 0,27-23,15-3,36-3,45 3,29 13,17-31-10-44-2-19-3-28,6-38,5-43-1-31,3-24,2-16-22-9-22-23-17-32-15-9-23-17-25-20-19-25-5-24-2 0-29-5-26 0-38 12-40 11-26-15-32z" fill="#4B939F"/>
<path transform="scale(.1)" d="M5825,2825l24-19 22-13 38,2 34,0 22-7 10-32 23,4 33-9 28-5 16-8 25,32 21,16 26,20 19-9 37,6 22,22 30,6 28,13 24-12 19-17 23-10 26-5 10,23 18,35 26,34 21,33-38,7-39,5-41,15-39,20-18,16-25,12-13,35-19,30 14,37 3,32-10,16-27-1-33,28-16,14-24,9-22,9-26,14-25,34-20,15-32,28-20-15-21-15-30-28-17-13-12-29-16-27-6-18-9-26-25-8-30-16 9-31 9-17-7-32 20-37 8-19 16-25-12-25-19-18-18-41z" fill="#CD0000" stroke="#F9E300" stroke-width="30" stroke-linejoin="round"/>
<path transform="scale(.1)" d="M6225,2550l20,8 24,6 44-3 27,4 21-13 39-14-7,17-12,26 7,31-44-2-24,2-26,10-44-10-17-36z" fill="#CD0000" stroke="#F9E300" stroke-width="20" stroke-linejoin="round"/>
<path transform="scale(.1)" d="M5995,3425l31-5 19,4 22,7 30,6 34-10 32,1 26,2 24-5 37,6 41-9 33,2 26,1 21,10 5,31 10,32 6,19 8,33 1,29-1,32 22,14 18,7 29,28 6,40-4,20-18,23-8,28-20,29 21,36 11,23 1,39 19,33 23,19 2,27-3,22 20,25 13,36 18,40-33,27-13,32-29,16-17-18-9-20-24,8-31-9-20,15-29,11-21-7-34-22-40-8-2,29-22,24-31,13-14,14-31,20-21,7-25,4-38,2-20,10-25,24-26,28-1-33-16-17-14-21 7-28 2-31-4-24 10-30-4-32 19-28 5-23 14-27-13-25 2-28-1-28-12-29-12-23-5-20-7-29 3-26 1-25-8-18-3-27-2-31-3-30 12-22 7-20-3-18 4-32-1-41-3-30-2-22 19-34z" fill="#CD0000" stroke="#F9E300" stroke-width="40" stroke-linejoin="round"/>
<path transform="scale(.1)" d="M6475,3475l32,12 26,16 24-5 33-4 35,6 22,36 18,16-6,31 14,25 9,14 18,28 4,39-9,35-1,30-10,19-9,27-36,2-44-5-18,18-27,10-10-36-25-19-15-12 2-21-2-37-14-33 4-25-12-33 9-35-3-33-16-33z" fill="#4B939F" stroke="#B2D144" stroke-width="20" stroke-linejoin="round"/>
<path transform="scale(.1)" d="M6625,3438l36,3 32-6 29,20 28,7 43,12 21,11 16,7 16,26 8,19 0,30-4,33 19,34 12,42 0,42-6,32-9,19-10,22-26,12-9,18-21,29-24-31-22-3-29-16 19-17 8-44 7-29 16-35-19-27-3-30-36-19-4-28-13-21-15-27-14-19-14-28-11-19z" fill="#CD0000" stroke="#F9E300" stroke-width="20" stroke-linejoin="round"/>
<path transform="scale(.1)" d="M6550,4050l21,0 29-9 22,6 37-1 19-8 29-14 25-18 18-6 22-9 23-18 33,4 24-10 31-13 27,15 19,1 27-13 44-7 18,26 26,16 20,20 37,6 25-6 40,14 34-26 22,21 8,25 7,28 9,15 5,37-1,24-10,35-9,19-21,25-22,18-25,18-24,22-14,13-25,12-42,11-38,9-33,28-23,24-24,6-40,10-39-3-22,0-24-3-27-1-17-6-28-14-21,25-26,26-21,6-35-3-22-3-31-9-27-26-18-9-17-9-25-21 3-43-5-29-9-43 11-35 14-28 8-32 8-25 8-26z" fill="#F9E300"/>
<path transform="scale(.1)" d="M7200,3700l35-2 18-12 27-4 30-7 24-5 29,26 28-16 13-19 26,6 28,8-5,36 3,17 1,29 10,31-1,36 2,39-10,26 2,22-2,39-22-6-33-1-33-3-24,28-22,8-24,24 0-27-12-18-13-34-25-10-21-11-29,0 14-40 1-39-19-31-15-37-2-25z" fill="#4B939F"/>
<path transform="scale(.1)" d="M5350,3250l24-12 22-17 20-2 32,0 23-6 29-13 31-18 28-4 23,2 24-3 27-24 36,5 31-8 34,18 22,24 11,22 39-14 44,0 35-1 30,11 14,27 3,18 13,21 30,24-19,16-17,18-4,28-7,21 8,34 19,28 9,30 11,31 0,19-34-4-31,0-35-21-23-6-21-5-20,13-22,24-28,0-23-6-38,5-41,11-25,19-22,7-29-14-10-30-35-28-13-40-28-18-27-24-20-36-24-18-12-29-2-25-36-13-15-25z" fill="#CD0000" stroke="#F9E300" stroke-width="30" stroke-linejoin="round"/>
<path transform="scale(.1)" d="M3250,3950l45-3 28-20 17-22 42-11 32,8 36,23 19,13 34,27 33,28 39,7-1,30-11,17-12,37 0,24-6,41 14,19 16,20-34-10-45,5-41,17-28-7-15-14-36-8-26-1-26-7-22,0-40,19-37,6 15-27 0-18 5-26 11-27 10-36 6-22 2-23-4-26z" fill="#CD0000" stroke="#F9E300" stroke-width="30" stroke-linejoin="round"/>
<path transform="scale(.1)" d="M3300,3250l35,5 40-5 3,43-26,24-9,40 9,40-4,42-18,22 7,29 3,33 8,34 12,23 15,20-4,29-1,25-6,24-16,34-29,29-7,21 0,38-15-37-4-36-2-32-3-40-7-21-6-34 2-35 5-26 4-37 2-31 4-21 8-25-8-25-2-22 1-24 13-31-13-38z" fill="#CD0000" stroke="#F9E300" stroke-width="30" stroke-linejoin="round"/>
<path transform="scale(.1)" d="M6850,4100l30-10 8-29 21-14 34-6 19-10 38-6 20,3 25-7 31,10 19,4 34,6 35,4 36,5 26,19 15,15 9,17 13,28-16,35 3,36-13,41-19,20-30,34-2,20-11,23-25,12-38,13-18,16-17,33-24,19-18,1-35-2-21-12-18-12-24-8-32,3-32-10-23,9-5-42-24-25-7-38-3-21-11-24 32-21 11-34 16-18 3-17 9-28z" fill="#CD0000" stroke="#F9E300" stroke-width="30" stroke-linejoin="round"/>
<path transform="scale(.1)" d="M6125,4300l43-11 26-11 29-13 15-18 21-14 30,4 17,7 32-1 37,7 34,14 21,3 23-7 24,1 29,12 27,32 20,18 20,16 27,11-14,26-12,14-9,25-27,2-38,13-25,7-26,4-17,3-28,1-22,4-27,5-14-10-26-10-41-17-31-10-23-8-35,6-35,25-24-25 3-24-11-18-3-24z" fill="#4B939F"/>
<path transform="scale(.1)" d="M3150,4192l2835,0 0,263 1893,0 0,1050-200,0 0,645-428,500-850,0-150-100-250-150-250-150-250-125-150-225-150-100-300,0-150,200-150,150-200,100-150,50-250-100-250-300-250-500-250-500z" fill="#1874CD"/>
<path transform="scale(.1)" d="M3575,4200l36-17 17-14 29-16 28,17 29,9 22,4 21-11 27-5 34,2 35,10 26-3 32-9 19,22 29,17 25,1 26,8 30-17 29,6 31-4-1,26 20,33 3,18 8,30-11,42-4,34 3,32-10,32 9,25-17,28-29,27-18,22-30,3-15,9-36,23-22,16-25-10-41-5-22,1-23-20-29,3-25-17-35-2-26-14-23-16-27-24-27-13-22-8 10-33-23-38 0-22-15-25 25-21 6-20 3-23-11-39-30-20z" fill="#B2D144"/>
<path transform="scale(.1)" d="M3500,4200l40,12 30,21 31-6 29,3 24,11 31-3 22-6 31,7 30,3 24-13 33-29 12,32 17,27-12,26 1,23 7,42-28,29-17,27-6,20-8,23-18,9-23,17-42,2-38-10-35-2-35-15-31,4-22-24-9-24-12-19-5-32-21-30-22-35 7-37 0-29z" fill="#CD0000" stroke="#F9E300" stroke-width="20" stroke-linejoin="round"/>
<path transform="scale(.1)" d="M3538,4575l25-4 22-4 36-4 23-12 31-26 5,30 10,18 20,19 15,11 26,16-5,41 4,40 20,35-5,37 15,31 18,16 13,30 14,12 14,14 11,25 2,32 22,7 21,20 15,16 14,19-4,24 5,32 10,26 5,22 17,30 24,24 3,26 23,23 20,7 23,17 27,2 32,30 16,16 20,13 5,41 11,37 21,10 18,26 24,11 21,19 18,29 7,27 11,28 0,29 18,8 21,20 5,29-2,35-3,22-9,23 6,28 17,12 26,24 26,33 14,23 11,41-1,31 5,23 5,30 1,30-8,21-1,24-19,23-27,21-28,6-13,12-22-17-14-18-16-23 3-21 3-28-24-12-33-9-22-34-2-24-5-23-7-27-4-41-17-26-30-10-32-11-13-25-15-13-15-21-15-14 6-24-8-23-24-7-6-34-13-27-4-27-11-17-19-11-27-25-11-21-12-20-16-29-15-31-12-39-31-17-21-23-21-15-12-20-5-28-25-27-23-19-6-34-13-28-16-19-15-31 8-27-25-11-20-11-3-27-5-29-15-39 5-43-14-22-2-24 1-25-23-26-16-23-14-12-7-30-5-32-15-39-1-32z" fill="#CD0000" stroke="#F9E300" stroke-width="20" stroke-linejoin="round"/>
<path transform="scale(.1)" d="M3675,5125l33,1 27,3 17,9 23-6 25-32-4,34 18,23 17,25 25,12 19,31-14,30-5,27-12,25-19,18-13-13-26-15-30-19-31-3-19-30 8-37-10-23-8-34z" fill="#EEAA00" stroke="#F9E300" stroke-width="20" stroke-linejoin="round"/>
<path transform="scale(.1)" d="M3750,4550l35,4 40,16 12,16 27,8 34-7 27,15 25-2 30,22 2,24 18,21 30,23 15,28 2,20 11,33 28,18 14,11 15,27-7,23 27,15 14,24 4,27 10,25-5,26 17,33 9,21 19,23 15,38 23,12 33,6 2,37 6,26-3,36 21,26 19,19 27,20 31,22 11,27 8,23-4,36 7,35 1,43-19,31-13,18-6,28-2,17-10,31-24-28-15-17-19-24-30-29-6-31-9-15-22-31-19-35 4-27-32-29-16-22-22-35-22-29-18-23-29-32-6-33-25-35 2-36-20-14-22-25-7-25-27-20-4-44-13-30-21-30-20-22-33-29-11-24-31-10-12-42-18-39-28-35-17-35-8-24 0-29z" fill="#B2D144" stroke="#F9E300" stroke-width="20" stroke-linejoin="round"/>
<path transform="scale(.1)" d="M3850,4675l44,3 15,24 33,25 20,20 14,17 24,11 22,31 4,21-1,27-3,31-2,31 18,33 21,23 14,18 19,14 33,21 8,32-5,36 20,17 20,33 11,24 19,25 17,26 16,12 19,20-12,42 7,21 4,24 21,26 16,28 34,23 20,17 10,19-5,27-33,23-38-19-19-35-26-19-5-31-2-22-16-17-6-32-27-32-4-30 1-26-9-36-5-23-40-15-17-22-24-16-9-15-14-27-1-29-18-31-12-15-17-24-23-32-19-27-22-11-8-23-22-22-23-31-19-23-15-23-9-19-9-36 6-34z" fill="#1874CD"/>
<path transform="scale(.1)" d="M4100,4975l22,8 26,24 31,1 17,0 29,9 25,8 18,19 19,33 20-1 27,15 17,34 23,38 11,32 15,30 7,29 11,24 19,21 15,29 18,26 12,21 30,22 29,14 9,39 18,22 6,22 27,11 28,3 26,11 28,14 38,2 17,16 12,24 32,15 18,10 36,22 8,24 10,34 10,32 19,15 17,23-32,29-26,7-42,14-30,2-31-10-25-30-35,5-24,10-6-17-8-29-15-13-26-18-35-27-14-21-15-30-21-6-27-29-38-12-18-26-22-1-21-33-26-8-2-27-11-18-12-31-22-23-16-8 2-25-21-26-24-26-8-21-7-40-18-19-20-6-7-20-22-17-3-32-17-22-22-17 0-29-11-35 4-43-9-23z" fill="#CD0000" stroke="#F9E300" stroke-width="20" stroke-linejoin="round"/>
<path transform="scale(.1)" d="M4400,6000l21-15 37-23 18-27 8-17 5-27 23-35 8-24-20-32 24-26 10-29 36-26 30-19 23-26 24-12 36-22 27-11 18-13 22-16 32-5 19-1 12-21 9-27 26-16 22-16 30-14 39-2 35-3 27-10 9-18 40-17 29,4 21-7 25-21 20-7 28,7 18,7 30-4 29-29 27-6 20,5 23,0 30,1 41-17 33-3 31-8 20,9 32,21 30,5 38-7-1,21 6,36-5,43-32,5-20,18-18,14-37,20-31,8-37,10-7,36-9,31-14,29-11,15-1,32 14,21-1,22 4,39 17,27-3,31 0,20 10,20 5,25 17,27 7,26-3,24 33,29 25,27 16,26 17,23 9,20 24,31 8,18 17,19 28,19 23,0 40,11 27,12 28,16 30,8 25,3 21,31 8,32 16,16 30-9 25,30 22,18 15,12 27-5 24-8 23,17 16,7 23,9 16,20 25,15 32,19 12,18 41,10 24,18-5,38 24,15 15,23 43,3 25,1 20,17 28,3 26,9 20,2 29,27 3,31-3,32 6,34 13,23-21,22 2,23-4,23 4,39 0,23-29-5-23-1-38-4-28-22-17-9-30-7-40,18-33-1-21,5-28-3-19,3-26,3-21-11-30-10-12,22-37,4-23,8-29,14-29,12-21,6-31,16-38-8-13-18-21-16-26,9-24-1-26,8-35,2-34,4-42,1-42,10-28-5-34,23-36-4-27-31-12-15-27-10-34-12-19-6-32-1-18-21-19-16-35-6-21-17-39,15-32,2-36,17-25,9-22-8-38,5-41-17-26-2-44,4-28,4-18,11-21,27-21,18-23,18-29,5-38,4-39-3-37,2-22,8-27-25-42,14-19-10-25-6 7-34 10-20 20-20 16-13 26-23 12-21 8-22 1-35-7-24 2-30 0-16 5-42-23-26-19-20-18-8-27-6-5-26-4-30-4-34-6-25-26-23-10-32-35-17-23-3-23-18-23-32-25-10-29-15 34-10 17-31 17-19 9-29 23-36 13-35-4-26-6-31 2-36z" fill="#CD0000" stroke="#F9E300" stroke-width="20" stroke-linejoin="round"/>
<path transform="scale(.1)" d="M4680,5575l23-1 22,1 21,29 19,29-13,26-12,36 10,39 32,20 18,7 24,14 7,17 9,27 10,31-30,25-9-18-8-35-8-37-7-20-30-11-17-2-20-22-21-6-21-38-2-36-11-28 1-28z" fill="#4D4D4D"/>
<path transform="scale(.1)" d="M4100,6188l39-8 28-5 26,5 22-11 35-19 32-10 20-12 27,0 26,4 24-10 21,3 43,8 20,13 34,8 20,3 33-7 17,22 24,20 9,33-40,21-26,20-34-4-25-11-18-6-36-8-21,1-25,2-40,2-41,10-44-2-39-10-33-23-31-3-26-21z" fill="#1874CD" stroke="#B2D144" stroke-width="20" stroke-linejoin="round"/>
<path transform="scale(.1)" d="M4500,6350l21-1 28,13 16,14 28,11 32,3 25,10 17,20 16,13 14,35 18,21 22,17 21,16 24,22 18,31 9,35 21,10 20,30-40,6-23,5-31-6-30-2-26-3-20-28-3-22-6-42-26-13-20-5-25-15-3-40-35-22-28,2-20-26-19-34-3-22z" fill="#1874CD" stroke="#B2D144" stroke-width="20" stroke-linejoin="round"/>
<path transform="scale(.1)" d="M5375,5750l34-25 25-22 27,9 39-12 41-10 24,5 22,3 25,16 38,11 29-15 26-23 19-18 26-19 16-21 16-13 25-10 15-19 28-12-8,18 8,32-6,15-18,25-27,26-24,9-19,24-20,15-19,8-22,9-20,10-25,9-17-11-30-5-44-4-33-6-26,13-27,9-28,3-22,14-23,12-13-17z" fill="#CD0000"/>
<path transform="scale(.1)" d="M5875,5800l16,27 27,23 12,20 42,1 28,4 29,30 26,1 25,12 19,18 23,21 28,18 36,25 30,20 24,12 10,18-24,13-26,25-19-15-26-23-27-11-19-1-34-13-25-32-23-22-33,1-22-28-22-19-28-30-30-18-21-17-21-10 15-16z" fill="#F9E300" stroke="#B2D144" stroke-width="20" stroke-linejoin="round"/>
<path transform="scale(.1)" d="M5600,6000l33,16 32,5 17,7 39,9 29,13 36,24 18,16 37,18 35,29 24,13 37,18 21,15 33,17 29,35 30,15 12,22 23,20 11,30 21,15 36-13 19,17 28,34-27,16-23,34-39-9-12-39-38-7-26-12-35-8-19-24-37-23-37-21-30-18-27-2-19-24-15-13-28-13-33-12-21-26-34,1-22-17-20-30-28-30-28-13-27-10 3-29 14-26z" fill="#B2D144" stroke="#F9E300" stroke-width="20" stroke-linejoin="round"/>
<path transform="scale(.1)" d="M4750,4475l33-11 25,14 32,0 37-9 36,10 23,13 17,7 27,11 30,0 19,9 32-7 36-1 33,20 26,1 23,4 24-15 38-4 21-17 19-25 42-7 27,7 3,30-2,27 21,32 12,27 11,36 22,24-2,42 4,32-8,19-18,29-15,31-17,30-11,16-15,28-35,21-34,18-13,33-10,26-6,23 0,32 13,19-32,8-31-10-31,10-28,8-44,6-34,28-17-11-23-24-11-32-30-21-21-9-30-3-18,0-34-26-9-22-18-15-28-17 5-19 18-27-27-34-7-40-20-23-16-7-14-28-7-27-13-25-17-14 9-21 5-36 4-30 8-21-2-36 16-35z" fill="#B2D144"/>
<path transform="scale(.1)" d="M4175,4450l38-16 42,1 38,4 34,4 18,12 13,22 28,11 25-3 23-7 26-1 20-5 32-6 38,9 13,32 2,28 7,40 13,22 3,22-3,34-2,40 12,19 11,21-6,42 14,25 10,20 29,25 6,22 11,25 4,17 6,29 8,24 15,32 12,30 35,26-28,0-31,3-32-18-35,7-24-17-37-19-31,1-21-15-22-13-12-17-15-21-30-13-32-28-1-21-10-34-37-5-14-27-22-14-20-22-26-24-37-21-21-12-12-20 8-22 5-24 9-23-17-33-8-22 7-37-16-24 3-31z" fill="#1874CD"/>
<path transform="scale(.1)" d="M4732,4500l36,0-13,38-19,33 2,23-15,37-12,36 8,21-13,24 5,24-2,28-1,26 9,31-12,30-26,11-11,38-36,0 5-25 18-32-2-21-11-23-17-33 13-28 10-31 11-18 15-28 3-17-7-37 8-27 0-33 19-21z" fill="#CD0000" stroke="#F9E300" stroke-width="25" stroke-linejoin="round"/>
<path transform="scale(.1)" d="M4882,4475l36,0 5,29-4,26 2,34 2,29 1,28-16,21-11,24 8,17-3,30 9,25 1,28 10,17-21,17-10,17-24,14-13,12-11,29 7,37 6,23-9,27-5,16-34,0 11-33 5-35 10-21-15-23-12-13-21-33 7-28 1-28 9-36 26-17 23-3-3-24-10-21 16-41 10-28 13-42 14-28 0-31z" fill="#CD0000" stroke="#F9E300" stroke-width="25" stroke-linejoin="round"/>
<path transform="scale(.1)" d="M5030,4475l40,0-12,30-2,38-21,12-6,41 8,27 10,25-8,24 4,21-4,33-10,30-17,32-7,20 7,21 9,22-9,42 31,28-7,20-20,29-1,33 0,19 5,28-40,0 2-35-2-24 6-23 3-17 16-27 8-26 12-33-14-31-1-22-12-19-28-13 22-34 22-25 4-24-4-22 19-20 3-32-8-18-20-27 14-34-7-24 7-18z" fill="#CD0000" stroke="#F9E300" stroke-width="25" stroke-linejoin="round"/>
<path transform="scale(.1)" d="M5182,4500l36,0 16,18 22,20 10,39-27,26 0,18-7,28-2,29-4,30-10,30-3,24 1,35-10,20 1,25 9,22 14,21 13,21 12,40-13,19-6,30-17,30-24,30-12,24-13,21-36,0 8-44 6-30-19-35 2-38 14-29 1-22 15-29-1-20 0-42-19-16-23-33 21-20-2-30-10-17 6-30 7-34 4-42 12-39 19-29z" fill="#CD0000" stroke="#F9E300" stroke-width="25" stroke-linejoin="round"/>
<path transform="scale(.1)" d="M5298,4550l30,0-3,28 3,23-8,42-13,20-27,31-13,25 15,40 4,43-21,27-12,28-6,24 7,23 2,34-1,20-8,29-3,18 14,30-8,30 2,36 8,27 30,22-30,0-9-37-8-44-16-32 3-31 2-26-1-38 0-44 4-40 26-20-1-26 16-17 4-33-6-25 3-25 10-20 9-42-3-36-8-26z" fill="#CD0000" stroke="#F9E300" stroke-width="25" stroke-linejoin="round"/>
<path transform="scale(.1)" d="M4588,4550l24,0 4,37 0,39 9,27-9,18-6,29-22,22-18,16-16,13-13,28-3,21-26,0 15-35-12-37 32-15 21-30 18-26 0-30-13-25 9-22z" fill="#CD0000" stroke="#F9E300" stroke-width="25" stroke-linejoin="round"/>
<path transform="scale(.1)" d="M4440,4575l20,0-9,22-6,22-8,33-12,39-2,27-10,33-1,35-2,39-20,0 6-42 6-26 8-26 9-36 9-24 14-19 15-28-3-24z" fill="#CD0000" stroke="#F9E300" stroke-width="25" stroke-linejoin="round"/>
<path transform="scale(.1)" d="M5875,4375l39,11 21,9 29-22 24,7 37-5-5,36-12,36 13,17 20,18 6,20 12,23 16,25-7,34-15,12 0,33-6,29-13,18-14,41-20,33-12,30 1,31-3,44-4,34-14,23-18,38-1,30-24,17-30,24-4,25 6,24-8,40-14,40 0,32-9,31-10,15-22,23-20,7-20,22-20,24-24,21-16,17-1,26-38,17-31,20-27,26-12,19-26-25-18-4-31,4 28-30 14-35 23-13 19-20 26-23-4-22 19-32 26-21 16-23 10-25 13-29 6-34 1-25 35-18 18-25-8-44-6-25 16-22 5-41 12-35 11-12 20-21 0-32 7-23-1-25 0-22-4-23 21-21-2-34 29-20 7-35 2-35-11-39-17-24-14-19 9-27 2-22 1-24-8-31z" fill="#F9E300" stroke="#B2D144" stroke-width="30" stroke-linejoin="round"/>
<path transform="scale(.1)" d="M5912,4375l24,0 28,6 36-6-1,22 20,26-1,22-1,23 8,21-6,27 11,34-7,31-9,24-1,23-16,39-22,33-32-3-18-22 11-31 10-31 1-24-7-31-2-33-10-22-13-24 6-29-13-19-1-25z" fill="#CD0000"/>
<path transform="scale(.1)" d="M5900,4775l30-8 32,8 4,18 7,27-8,37-10,29 0,23-12,24-15,17-3,25-4,30-11,20-22,23-9,43-17,34-25-9-25-16 0-30 23-23 7-19-1-43 4-35 17-25 18-18 7-22 14-24-3-28 8-27z" fill="#CD0000"/>
<path transform="scale(.1)" d="M5750,5225l34,3 28-16-30,13-9,36-25,37-4,26-19,26-13,35-21,21-41,6-8-19-30-5 33-30 21-32 22-26 23-26 18-20z" fill="#CD0000"/>
<path transform="scale(.1)" d="M6000,4488l43,6 37-3 27,1 25,9 27-7 19,11 24,6 23-9 27,2 35,12 41-16 29-18 43-7-7,42 12,29 11,27-6,24-10,41-38,18-20,7-26,8-38,12-28-8-30-2-33,2-37-14-30,1-25-12-20,0-23-22-6-19-14-33-2-32-19-23z" fill="#CD0000" stroke="#F9E300" stroke-width="30" stroke-linejoin="round"/>
<path transform="scale(.1)" d="M6100,4725l20-13 29,3 23-37 28-3 26-6 40,5 29-1 45-4 24,11 36,20-1,45-3,32 14,40 18,32 1,20 16,31-9,22-6,23-4,41-8,35-13,23-8,27 7,23-2,28 2,32-8,32 4,39-21,21-17,14-41,14-32,7-39,19-22-18-32-28-14-26-25-22-10-36-23-14-24-6 3-28-12-33-5-39-21-36-14-33-26-31 1-22-11-27 0-21 8-33 15-28 23-13 17-17 11-22z" fill="#B2D144"/>
<path transform="scale(.1)" d="M6150,4850l24-9 33-9 41-12 35,1 42,4-14,35 4,31-11,20-2,32 12,34 26,31 10,42-20,8-25,5-21,28-30-5-6,37-23,27-10-42-37-11-18-18-12-23-23-31 5-32 12-33 1-39 6-29z" fill="#F9E300"/>
<path transform="scale(.1)" d="M6075,5250l28-4 25-26 25-8 15-19 32,7 25,0 18,39 15,41 25,24 7,19 10,27-20,39-33,18-13,28-8,17-26,23-27-11-36-25-22-15-15-18-25-6 20-34-2-21-2-33 1-30z" fill="#CD0000" stroke="#F9E300" stroke-width="20" stroke-linejoin="round"/>
<path transform="scale(.1)" d="M6425,4475l18,17 29-10 27-20 43,6 42-9 27-13 26,19 26,3 37,6 25,1 21,26 13,13 16,42 13,41-3,27-22,22-3,27-8,28-2,24-16,24-15,32-19,36-15,39-33,14-20,11-32,19-1,30-4,35-17,40-1,39-15,17-19,19-23,16-14,14-6,40-33,17-15,22-19,18-8,18-2-26-1-42-22-20-4-18-20-27 9-28-6-25-6-34-2-19-11-20 1-33 39-11 8-28 15-18-23-35-26-26 13-30 14-42 7-36 18-31 28-27 2-24-10-31-9-21-9-28-9-28z" fill="#B2D144"/>
<path transform="scale(.1)" d="M6725,4475l34,7 20-11 37-22 15-2 29-2 37,5 24,3 37-3 22-2 35-18 29,0 16,8 29-2 26,13 14,8 42,3 17,17 37-2 15,18 17,20 18,32 6,31-9,40-9,23-5,29-8,32 9,24-12,23 4,41-21,29-4,20 10,38-11,25 29,31 5,41 21,22-8,38-5,26 1,38-8,27-10,27 16,23 13,20-12,36-6,42 13,18 9,31 17,30-4,32-13,28 9,42-24,23-18,25-32,11-18,19-35,2-25,8-40-4-25-6-21-9-22-11-34-7-26,0-34-2-38-1-26-8-20-14-11-18-24-15-17-10-29-14-23-21-34-2-24-2-23,7-14,14-29-3-26,36-7-42 2-32-10-20-11-31-24-25 8-28 18-18 14-20 27-21 22-17 16-10 21-11 24-25 8-24 19-23 15-21 16-35 3-23 6-30-5-18-12-26-26-23-12-38-13-36-7-28-17-25 10-43 10-18 14-31 17-21 24-37-12-40-5-37-4-19-6-28-3-19z" fill="#CD0000" stroke="#F9E300" stroke-width="40" stroke-linejoin="round"/>
<path transform="scale(.1)" d="M7000,5200l22,1 39,3 38,1 33,1 18,19-2,18-19,26-2,29-8,37 12,27 14,37-19,25-1,26-26-9-30,11-44-3-25-24 15-40-5-33 26-20 9-31-20-37 4-33z" fill="#B2D144" stroke="#F9E300" stroke-width="20" stroke-linejoin="round"/>
<path transform="scale(.1)" d="M7250,4850l27-13 33-20 37-3 32,4 31,16 24-2 41-6 25-1-13,40-9,22-9,30 34,15 23,16 5,32-7,27 1,18-28,3-45-3-32,4-24-7-22,10-31,17-43,1-14-29 11-38-13-23-15-40-12-40z" fill="#4B939F"/>
<path transform="scale(.1)" d="M7575,5338l38-21 35-10 21-2 36-6 20,13 29,21 25,5 28,9 18-5 25-17 11,25 2,30 16,15-16,33-1,22-18-9-24-12-39-6-31,4-22-16-26,0-18,12-28-2-24,20-32,21-16-14 3-34-9-28-7-31z" fill="#4B939F"/>
<path transform="scale(.1)" d="M7062,5525l42,3 22,15 19,18 25,0 18-7 28-5 27-18 21,1 36-7-9,35 0,21 4,24 3,28-24,30 1,32 7,22-2,33-24,17-20,10-17,11-7,31-20,39-12,42-34-17-22-12-28-13-16-8 19-22 27-31-18-25-15-27 12-16 0-29-23-27 0-34 12-41-4-28-5-23z" fill="#CD0000" stroke="#F9E300" stroke-width="30" stroke-linejoin="round"/>
<path transform="scale(.1)" d="M6850,5800l24,21 17,7 27,5 29,5 28,12 6,39 0,25 24,29 4,30-9,27-5,19-14,22 1,33-6,18-9,29-2,30-10,21 7,28 3,29-7,18-26,26-7,38 0,39-26,12-22-3-27-9-13-27-6-26 5-27 17-23 4-19 6-30-1-19 13-29 0-27-1-35 4-25 7-22-7-27-12-25-4-39-11-39 2-32 8-20-1-34z" fill="#F9E300" stroke="#B2D144" stroke-width="20" stroke-linejoin="round"/>
<path transform="scale(.1)" d="M6890,5900l26,23 34,2-2,33-10,30 21,22-2,23 5,30 0,37-6,32-10,40-12,21-5,25-1,33-3,30 0,19-35,0-2-33 0-44 19-23 27-15-7-16-7-28-15-41-17-19-9-31 5-32-8-31-1-32 5-18z" fill="#E37100"/>
<path transform="scale(.1)" d="M6750,6350l22,4 32-19 22,1 32-6 17-9 20-18 27,5 17-7 30-2 31,1 24,8 21,0 30,20 4,43 21,29 11,23 4,35-4,41-11,21-15,32 15,18 22,28 14,33 14,19-36,25-27,4-21-11-21-7-15-21-22-14-34,12-27,19-24,24-31-1-17,11-40-4-36-21-36-25-28-12-35,21-8-25-4-43 14-17 19-23 4-42 8-36-4-42 11-42z" fill="#CD0000" stroke="#F9E300" stroke-width="20" stroke-linejoin="round"/>
<path transform="scale(.1)" d="M7150,6650l0-36 1-22 1-30 4-32 4-30-17-24-3-19 17-19 6-37 5-26 11-17 11-25 15-33 29-11 11-21 16-33-6-31 8-27 5-23 12-29 11-21 24-12 26-9 23,1 20-8 36-11 27-9 15-31 35-5 30,1 30,3 23-7 26,0 28-5 19-22 22-15 22,16 3,23 27,19-9,24 0,30-12,29-14,34 6,21-5,39-10,29-18,18 2,28-2,19 1,35-3,29 7,20 10,28 14,42-21,38-8,17-5,27-13,37-3,21 23,20 8,32-42-3-44-6-20,8-36,1-24-5-22-4-23,31-35-25-14-16-27-17-32,8-29,0-21-6-25,4-19,7-30-10-31,19-29,18z" fill="#B2D144"/>
<path transform="scale(.1)" d="M7170,6650l-15-36-2-40 3-35 16-11 8-28 18-18 17-36 4-28 1-34-6-40 11-39 33-31 26-35 20-16 4-21 4-29-12-33 12-18 22-30 27,5 26-7 20-5 33-13 35-27 29,3 22-5 30,2 26-22 21-2 19-9 23-13 30,1 3,22 7,40 11,36 3,24-13,31-14,18-28,20 8,43-22,18 7,42 4,31 1,36 6,35-2,33 0,19-4,27-2,30 2,39-16,29 6,18 11,25 16,12 16,22-15,12-30,18-33-7-21,12-31-5-27,8-38,6-23,1-23-12-20-12-24-1-31-9-20-15-34-6-22-21-29,4-31,12-21,11z" fill="#F9E300"/>
<path transform="scale(.1)" d="M7195,6650l6-26 24-27 4-27-13-21-6-30-5-19-15-11-7-28 12-38 14-28 31-9 2-38 8-33 19-17 7-22 11-29 6-30 15-13 9-19 8-25 36-19 5-18 16-25 39-15 32-6 35-7 28,8 23,9 31,6 38-24 39-11 28-28-2,30-6,16 0,29 13,16-7,26-9,37-4,28-8,22-5,28 7,35 7,33 2,19 13,29 7,23 1,36 3,30 9,38 6,27 4,34-33,30 9,23-7,31-22-2-30,11-38-3-19,16-12,18-44,0-25-7-23,12-41-8-23,3-36,4-18-10-27-2-23-19-18-11-44,2z" fill="#E37100"/>
<path transform="scale(.1)" d="M7100,6738l3-22 1-25-3-36 11-23 13-20 23-5 24-6 23,11 30-12-3-22-4-36 12-42 1-27 11-17 28-30-15-42 12-23 8-36 14-41-5-33 26-33 22-18 18-20 20-9 30-8 26-13 17-18 20-18 37-14 24,3 23-1 41-7 15-13 27-17 45-5 5,26-11,20 3,33 0,25 5,22 3,24-7,25-17,34-7,19-10,23 12,34 2,18 10,29 5,30 9,19 14,27 7,44 8,44 2,31-15,33 2,44-10,30 13,24 2,20-42-11-35-4-33-1-16-9-35,6-18,16-31,11-28,4-33-20-38,9-41-2-31,9-31-10-31,8-22,9-38,2-23,5-25-7-22,1z" fill="#CD0000"/>
<path transform="scale(.1)" d="M4103,4204l44-2 35-3 30-1 20-23 16,16 27,7 32-15 22,4 24,0 15,17 35,18 30,26 24,1 31-6 27-19 24-20 23-8 22-1 28,2 24-1 35,8-5,22-19,16 0,41-3,22-7,29-31,6-25-12-21,20-9,22-30,20-17,11-27,16-18,0-44-2-28-18-28-27-23-3-31,13-31,8-25,11-39,9-7,26-23-14-28-24-41,5 4-16-3-29 10-30-6-20-17-35-7-24z" fill="#B2D144" stroke="#F9E300" stroke-width="20" stroke-linejoin="round"/>
<path transform="scale(.1)" d="M4153,4225l37,19 32-15 38,15 26-14 30,3 20-8 7,44-23,18-13,15-4,32-23-13-25-14-20,3-25,20-24,16-17,5-12-37 0-21-9-41z" fill="#CD0000" stroke="#F9E300" stroke-width="20" stroke-linejoin="round"/>
<path transform="scale(.1)" d="M4570,4217l31-5 33,0 37,5 0,35 5,25-16,23-6,17-38,5-29-5-5-21-7-26-6-21z" fill="#CD0000" stroke="#F9E300" stroke-width="20" stroke-linejoin="round"/>
<path transform="scale(.1)" d="M4838,4204l17-19 37,8 29,7 37,16 21-21 33-6 37,2 29-9 29-8 29-2 23-13 28-25 32-24 28,4 16,24 23,34 34,4 19,28 13,30-3,29 13,18-6,28-8,35 9,32 0,19 11,27 17,35-14,18-15,20-17,23-27,14-32,5-27-2-19,4-26-19-17-11-19-25-33,4-24-18-23-33-21-9-32-18-34-9-41-17-11-26-27-10-16-9-39-5-7-38 8-20-5-31-26-22z" fill="#B2D144" stroke="#F9E300" stroke-width="20" stroke-linejoin="round"/>
<path transform="scale(.1)" d="M4921,4225l42,13 35,8 41,2 26-11 38-22 28,2 28-5 39,14 24-1 7,32 23,35-5,23 20,24-10,35-18,27-32-9-27-13-43,11-19-2-30-4-31-17-20-24-20-5-37-12-25-9-1-21-19-22-12-29z" fill="#CD0000" stroke="#F9E300" stroke-width="20" stroke-linejoin="round"/>
<path transform="scale(.1)" d="M3635,4204l33-13 33-3 24-3 26,25 38,7 29,32 40-7 22-10 18-9 35-8 27,4 18,3 24-10 21-5 32-11 31,8-16,35-9,18-10,28 0,19-11,30 1,31 21,15 16,27 6,38-19,23-2,38 7,16 10,29 9,30-3,20-39-2-29-5-17-36-39,8-26,2-19-22-21-13-17-28-29-2-17-2-31,0-26-27-37-21-20-16-25-11-1-33-25-26-1-35-22-11-16-26-8-21 3-31z" fill="#B2D144"/>
<path transform="scale(.1)" d="M3802,4234l32,5 19-22 26-21 38,2 33,22 27,5 23,6 36,3 10,17 21,20-2,29 4,17-27-13-32-1-30,2-44-5-24-13-36,5-15,10-26,15-12-18-3-25z" fill="#F9E300"/>
<path transform="scale(.1)" d="M3718,4351l34,9 22,2 31,9 41-6 25-29 39,6 26,0-17,32 25,35 5,22 3,28-38,2-22,9-36,0-42,7-29-1-17-29-14-19-24-24-10-21z" fill="#7FB272"/>
<path transform="scale(.1)" d="M3601,4267l24,10 24-1 30,6 40,10 24-18 42,10-6,26-11,24-26-7-30,5-36,22-32,8-26-11-19-33-2-22z" fill="#CD0000" stroke="#F9E300" stroke-width="20" stroke-linejoin="round"/>
<path transform="scale(.1)" d="M3735,4551l23,10 23,11 33-17 25-13 27,1 36-9-2,44 10,44 9,29-26,14-23,2-40-15-45-1-19-22-10-18-14-21z" fill="#CD0000" stroke="#F9E300" stroke-width="20" stroke-linejoin="round"/>
<path transform="scale(.1)" d="M5873,4204l24-7 22-7 27,0 28,3 16,11 7,30 9,29 2,35-5,31-3,23-18,40 8,42-14,21-10,19-22,28-14,38 17,30-7,31-18-32-15-37-7-16-27-15-20-40-18-26 11-41-3-26-4-27 12-34 0-29 4-22 7-29z" fill="#CD0000" stroke="#F9E300" stroke-width="30" stroke-linejoin="round"/>
<path transform="scale(.1)" d="M5389,4217l22-14 24-19 17,8 27,5 27,7 26,4 41,15 33,27-24-3-27,5-23,9-20,8-40,15-20-37-34-26z" fill="#CD0000" stroke="#F9E300" stroke-width="20" stroke-linejoin="round"/>
<path transform="scale(.1)" d="M5995,3975l21-4 33-11 30,11 38-16 34,1 41,15 27,6 22-2 39,10 37-1 23-9 6,22-7,25-19,24-5,28-35,16-12,23-17,22-24,11-35,2-30-5-17-1-37,4-9,17-28,11-27,23-31,4-18-4-9-21-15-26-1-37 8-40-1-37 3-37z" fill="#CD0000" stroke="#F9E300" stroke-width="30" stroke-linejoin="round"/>
<path transform="scale(.1)" d="M6340,3975l7-26 26-19 39,18 37,2 25,8 39,17-15,34-7,32-16,32-12,26-28,19-21,15-28,16-19,2-21,22-31,12-36-9-23,5-42,13-19,20-28,20-29-5-38,5-33-15-23-17 34-14 31-3 23,1 26-24 34-14 23-2 31-22 19-32 20-3 30-15 8-39 13-33z" fill="#D83900" stroke="#F9E300" stroke-width="20" stroke-linejoin="round"/>
<path transform="scale(.1)" d="M7228,4000l33-5 27-3 34-21 23,15 37-3 31,10 37,7-7,38-17,36 4,33 24,32 2,31 13,28-2,20 6,33 2,21-13,29 10,24 7,31-24,26-8,18 3,44-28-4-24,8-25-12-27,5-44,3-13-16-13-29-4-18-26-16-23-31 0-43-7-29-13-15 23-17 22-31-8-42-14-43 21-32-2-29-7-20z" fill="#4B939F"/>
<path transform="scale(.1)" d="M7327,4148l27,3 24-4 36-14 36-10 18,30-1,25 2,28 17,30-7,25 5,35 8,18-17,24-18,16-4,29-6,22 3,39-35-4-39,4-4-32-3-38 5-37-11-26-16-32-9-33-3-29-9-35z" fill="#1874CD"/>
<path transform="scale(.1)" d="M6225,6700l31-10 44,10 15,27 3,25 0,41-3,21 10,36-43-1-32-11-14-24-16-24-7-33 15-21z" fill="#1874CD" stroke="#F9E300" stroke-width="20" stroke-linejoin="round"/>
<path transform="scale(.1)" d="M6075,6750l23,6 27-18 4,43 26,33 0,24-24-1-31,1-18-40-2-22z" fill="#1874CD" stroke="#F9E300" stroke-width="20" stroke-linejoin="round"/>
<path transform="scale(.1)" d="M6425,6525l34-4 37-17 33-9 40-2 17,9 30,8 22,24 23-1 39-8-22,33-14,26-4,23-8,32-2,26 12,23-26,4-21,12-18,13-35,21-26-15-14-15-34-8-13-26-6-26-8-17-3-44 17-38-30-21z" fill="#1874CD" stroke="#F9E300" stroke-width="20" stroke-linejoin="round"/>
<path transform="scale(.1)" d="M7038,6525l31,4 33,11 25-2 27,4 18-1 34-11 44-5-11,25-4,21-10,23-1,20 0,37 12,32 2,42-31,27-21,8-12,26-12,14-8-15-22-19-15-33-29-8-5-19-2-30-11-41-12-31-12-24-2-23z" fill="#1874CD" stroke="#F9E300" stroke-width="20" stroke-linejoin="round"/>
<path transform="scale(.1)" d="M4725,6600l39,20 22,12 20,4 27,9 19-8 18-22 30-15-4,27-21,35-36,12-36,18-27-8-26-9-16-40z" fill="#1874CD" stroke="#F9E300" stroke-width="20" stroke-linejoin="round"/>
<path transform="scale(.1)" d="M4667,4940l-6-18 10-28 14-37 8,14-2,32-14,28zM4227,4744l-8-15 3-25 10-23 12-1 2,25-9,30zM4567,4849l-6-18 13-26 24-44 7,2-14,52-13,21zM5004,5069l-1-23 20-58 16-20 12,1-2,26-29,68zM5000,4808l-4-15 15-44 19-29 11-1-12,34-13,37zM4354,4634l-2-20 17-53 19-17 5,8-2,20-26,56zM5188,5142l-2-27 5-35 22-51 6,11-1,32-18,50zM4893,4913l-3-14 13-51 9-11 10-2-5,30-11,36zM4888,4944l4-47 4-36 19-53 8,26 2,19-17,49zM5137,4811l-6-8 12-28 8-17 7,3-5,20-7,18zM5012,5130l7-36 17-38 15-29 7,0-8,41-17,40zM4780,4905l-5-11 11-42 25-49 12-6-13,54-22,55zM4636,4865l0-20 12-23 14-22 2,8-4,21-12,28zM4373,4763l-3-24 3-22 13-25 13-4-1,28-11,43zM5089,4910l-4-4 9-36 18-23 2,16 2,17-12,17zM5215,4849l9-47 16-44 25-37 3,12-5,43-21,35zM5237,4563l-1-20 5-23 14-32 7,1-3,23-12,39zM4423,4656l3-28 7-22 20-50 4,8-8,46-10,22zM4588,4943l-3-11 3-14 7-12 4,5-1,12-6,18zM5002,5215l-6-5 11-55 12-36 11,8-2,29-13,39zM4688,4641l-1-28 10-43 21-35 3,23 2,29-18,25zM4818,4907l-7-10 3-17 8-20 7,4 4,12-10,31zM4562,4644l-4-4 8-19 12-20 4,1-4,17-5,21zM4798,5150l-2-20 14-35 8-10 10,2-5,23-15,30zM4709,4808l-6-7 9-35 10-12 6,11 0,10-6,18zM5005,4766l3-41 17-52 26-34 4,20-16,47-19,43zM4673,4906l-3-16 4-17 15-24 6,3-7,28-6,13zM4933,4758l-5-16 7-33 21-27 6,20-2,26-14,32zM4600,4719l-4-11 3-21 11-24 10,1-3,18-7,26zM4711,4653l-8-3 6-23 10-14 11-1 0,17-8,26zM4896,4522l-9-18 15-57 11-32 9,9 0,32-9,38zM4847,4601l2-31 15-37 26-37 3,9-7,35-18,38zM4867,4963l-6-9 9-15 17-29 3,5-5,26-9,11zM5090,5269l-6-15 7-34 12-23 9-5-4,29-7,30zM4563,4797l-5-21 10-52 17-47 14,2-2,34-14,49zM5088,4677l-8-15 17-38 18-30 9,12-4,23-21,47zM4138,4616l1-16 7-27 20-38 7,3-13,43-14,31zM4966,5027l-7-4 6-25 15-34 2,13 0,17-10,36zM4414,4702l-10-15 7-32 10-11 10,3 2,15-9,32zM4175,4513l-2-17 3-34 11-18 9-7 2,21-9,28zM4875,5073l-4-10 8-32 7-6 16-2-9,27-5,13zM4595,4914l2-23 3-13 14-25 6,4-5,19-13,33zM3968,5064l-15-11-13-15-2-10 9-4 13,7 13,19zM4256,5249l-12,8-25-35-18-39 17,1 28,24 23,43zM4252,5366l-11-1-11-12-2-23 10-9 12,18 5,14zM4110,4976l-25-36-28-59-15-65 13-4 44,69 9,40zM4269,5279l-10-3-10-10-1-13 6-6 12,13 8,11zM4261,5614l-7,1-15-17-1-12 7-3 10,6 9,20zM3868,4787l-11-14-10-21-6-21 9,2 10,12 8,22zM3998,4663l-29-26-35-39-11-40 3-28 36,45 23,45zM4347,5858l-9,2-17-40-14-39 14-5 22,38 11,34zM4025,4651l-15-9-16-23-26-56 8-5 34,38 22,33zM4054,5230l-8-3-6-12 1-9 5-6 8,9 7,19zM3815,4631l-24-27-19-42-13-44 15,6 27,24 20,67zM4342,5723l-19-5-18-34-4-23 12-1 12,8 26,36zM3924,4768l-23-15-21-21-2-24 10-7 23,13 14,31zM3929,4992l-13-5-42-45-14-40 11-12 47,50 13,23zM3967,4849l-27-3-40-60-14-29 28,4 16,13 28,50zM4105,5009l-18-11-22-36-9-35 16-3 27,26 7,29zM4234,5439l-14-10-8-16-2-11 7-10 18,18 4,19zM4405,5643l-16-8-17-13-14-33 11-8 16,16 18,28zM4079,4618l-17-7-24-30-11-55 6-11 36,41 18,54zM4112,4656l-22,2-23-28-11-31-3-28 38,40 26,38zM4003,5114l-8,6-12-15-5-14 10-11 9,4 15,20zM4398,5717l-20-4-11-14-12-24 20-7 11,6 12,22zM4043,5025l-16-13-22-36-2-13 5-16 17,26 16,37zM4787,5940l0-15 15-27 20-20 13,2-9,21-28,35zM4738,5941l1-33 14-44 18-29 5,9 1,30-19,50zM5019,5884l15-31 19-30 30-36 5,16-10,28-33,31zM5030,5710l0-9 10-18 13-6 5-1-6,19-14,11zM4664,5872l6-21 9-12 20-20 0,14-7,12-12,15zM5322,5775l-3-10 22-44 17-15 13,5-9,20-20,34zM4818,5860l6-24 20-32 15-15 12,3-10,21-35,49zM5291,5641l-3-10 14-40 15-27 18-19-9,53-18,38zM4587,6294l0-7 2-20 15-22 6,7-3,20-6,17zM4787,6106l-10-24 13-31 15-14 9,9 1,22-20,33zM4848,6207l1-44 17-29 35-55 7,15-17,47-28,51zM4575,6174l-5-6 7-20 17-25 4,11-4,14-12,27zM4658,6064l0-8 16-21 10-11 6,7-8,21-10,7zM4711,6250l-5-7 11-15 5-3 9-1-3,12-9,15zM5037,6101l-6-7 14-47 21-32 5,11-7,28-17,44zM5161,6165l0-15 15-32 31-23 1,13-6,22-20,29zM4975,5638l-1-13 1-15 14-15 9-2-1,10-11,21zM4600,5972l-7-6 12-30 27-34 2,16-7,25-19,29zM5118,6034l-2-29 24-69 24-35 26-24-12,51-27,67zM4997,5970l6-19 11-20 18-15 9,3-8,32-16,14zM4612,6135l-18,4 34-88 33-42 10,11-25,68-13,22zM4800,5772l-2-16 22-38 17-27 3,16-8,26-15,27zM4695,6000l0-20 7-23 15-24 14-1-7,30-8,18zM4718,6104l7-18 7-12 14-11 11,8-4,11-22,21zM4692,6170l0-12 5-13 10-12 6,4 0,10-10,21zM4616,5838l1-29 20-28 16-15 17-2-8,27-30,45zM4669,5784l1-20 31-72 32-43 6,29-12,32-36,64zM5227,6071l1-27 11-31 10-9 10-5-10,39-10,16zM4970,5825l-6-14 51-69 29-26 10,5-30,53-38,39zM4610,5955l-6-24 21-45 21-19 9,1-8,37-22,50zM4753,5759l3-21 12-22 18-17 14-7-13,42-16,16zM5322,5709l-4-13 3-8 12-16 1,8 3,9-4,12zM4643,3869l-3-6 19-30 15-11 13,3-8,21-19,22zM4293,4061l-36-4-29-13-19-22-4-14 39,17 22,13zM3967,3746l-6,19-25-2-10-17 1-18 24-5 16,2zM4359,3773l-5-10 3-9 8-3 9,7 0,8-6,5zM4709,3847l5-36 22-27 24-20 7,24-12,25-21,18zM4161,3665l7-30 23-28 22-2 19-3-21,38-17,9zM4423,3790l-18,12-26-5-28-8 13-10 24-1 21,5zM4623,2803l-20,5-33-16-3-17 6-14 17,0 37,33zM3333,3548l1-14 59-17 41,9-7,17-30,15-59,4zM4852,2640l-5-14 6-20 10-11 3,2 2,15-3,16zM5332,2635l-11-23 5-18 16-14 17,12 4,13-14,19zM4075,2778l-6,0-7-12 1-6 9-5 7,8 4,8zM4097,3790l-28-9-34-12-49-38 17-12 37,17 40,22zM4125,3841l-10-5-13-19 4-17 21,3 9,3 0,29zM5674,4107l-7,7-13-2-2-7 5-7 7-2 6,5zM3246,3558l-6,2-3-23 5-25 8,4 5,16 2,19zM4825,3347l13-7 23-1 14,3-6,8-19,6-11-1zM6587,4974l-16-2-30-22-5-28 5-10 22,19 21,22zM6995,5510l-25,4-35-5 0-21-5-18 36,6 19,21zM7280,5462l-16-2 9-48 8-19 16-5 4,29-8,35zM7110,4697l-8-10-7-24 2-16 9-9 7,20 4,21zM6617,4915l-11-2-10-10-1-18 11-1 11,3 9,22zM6636,5209l-5-9 6-14 9-8 11,5 1,11-13,16zM6921,5459l-10,15-14,5-18-10-12-16 23-7 22,7zM7202,5176l-6,13-12-7-7-7 0-12 15,0 9,7zM6563,5208l-1-15 5-8 20,3 7,12-8,7-14,7zM7190,5238l-15-9-15-34-4-33 11,1 20,22 10,33zM6760,5288l2-12 8-14 19-15 0,12-5,12-7,10zM6961,6233l-14-1-4-17 10-9 11-7 8,20-4,8zM6980,6649l-12-4-11-27-2-19 7-6 13,19 7,25zM6818,6173l-20-3-14-39 0-17 15-2 16,6 12,38zM6645,5847l-13-5-10-11 8-21 15-2 10,9-1,22zM6473,6502l-13-3-6-15 7-24 10-1 16,14 3,15zM6597,6530l-18-7 2-9 5-11 13-3 4,7 1,14zM7582,5573l-14-21-11-19 1-38 14,7 21,19 7,32zM6433,6292l-17-20 8-22 14-33 12,9 10,32-11,32zM7612,5907l-11-17-3-41 8-26 13,4 1,38 1,25zM6852,6139l-3-27 11-24 21-22 10,7 2,20-19,44zM7433,6195l-11-12-6-23 1-25 10-4 10,24 1,31zM7377,6523l-7-1-6-11 7-4 6-5 6,6 1,7zM7373,6028l-20-9-8-9 11-25 17,1 14,15-7,23zM6596,6620l-13-16 0-18 15-14 15-6 10,28-15,22zM6837,6362l-14-11 0-31 4-11 13-10 7,23-5,21zM6444,6447l-8-2 2-16 6-12 10,5 2,9-7,17zM7276,5767l-9-8 8-60 19-49 13,21 5,48-18,38zM6542,6130l-5-7 3-21 4-9 8,4 1,10-7,19zM6844,6232l-29-1-6-17 11-18 8-9 24,9 4,22zM6641,6295l-17-12 0-23 8-34 12,1 12,27-3,33zM6917,6625l-24-30-13-39 1-33 20,10 12,17 8,44zM6776,6104l-8-1 0-37 10-28 12,10 0,14-5,29zM11668,5244l-5,10-6,6-11,2-5-4 6-15 13-2zM12165,5504l-8,20-5,9-21,9-3-5 1-11 24-21zM11734,5782l5,11-18,12-17,4-9-5 15-23 17-2zM11334,5180l-8,31-23,35-35,27-11-16 20-28 37-43zM12781,5176l0,17-15,17-14,4-18-6 7-19 23-20zM11002,5528l-2,21-31,34-21,12-20-4 17-31 30-26zM11104,5321l-1,21-12,22-25,10-8-14 10-20 16-14zM11621,5283l-3,17-34,26-38,14-3-12 35-35 27-9zM12384,5239l-8,25-17,19-30,17-9-1 17-27 34-30zM11252,5418l2,15-7,15-16,6-8-7 5-14 11-11zM12146,5631l4,17-60,62-25,11-7-6 22-31 44-43zM11004,5256l-3,12-32,20-24,11-3-10 19-24 26-14zM11204,5767l-14,15-28,19-25,10-2-11 18-12 30-19zM11574,5495l-6,20-54,57-43,26 0-18 24-34 51-51zM11546,5458l-1,14-28,25-30,11 7-18 16-18 17-11zM11948,5449l3,9-16,17-27,12-3-3 19-23 18-16zM12662,5344l-15,29-32,42-16,3-10,4 18-29 33-41zM11689,5656l-12,16-18,23-32,22-12-4 21-21 34-28zM11280,5742l1,17-22,26-29,22 0-18 12-17 21-25zM12016,5687l-3,14-38,44-22,19-13-12 20-25 29-27zM11930,5495l0,7-9,11-6-1-9-1 7-10 7-6zM12768,5072l5,8-15,14-8,0-7-4 5-17 11-5zM12601,5029l-11,13-27,20-23,12 5-14 6-10 32-18zM11137,5173l-15,18-19,19-23,11 1-9 22-24 13-9zM11768,5993l-8,22-19,9-39,20-5-14 14-18 37-20zM11367,5640l1,10-43,35-37,23-3-11 14-21 49-37zM11437,5769l-6,23-17,19-25,25-12-3 14-23 39-41zM11739,5700l-14,25-58,29-51,24 5-17 39-41 35-19zM11342,5905l-1,7-9,11-14,3-5-8 11-9 10-9zM12268,5603l-4,18-8,16-32,18 1-15 8-18 24-16zM12004,5987l0,12-31,29-23,14-22,8 30-35 30-26zM11145,5259l-1,18-50,52-57,36 3-24 29-40 37-33zM11992,5842l-10,27-30,25-37,16-11-12 16-25 40-30zM11632,5807l-8,16-12,12-22,10 2-11 10-15 26-17zM11968,5907l4,8-8,10-16,2-3-7 6-10 12-6zM11764,5255l2,14-30,34-22,12 2-12 11-25 23-19zM11664,5336l-3,11-12,8-18,8-4-6 12-17 11-1zM11029,5416l-16,43-37,31-38,26-9-8 15-29 47-44zM12690,5202l5,10-30,19-24,9-7-9 13-14 26-15zM11748,5981l-6,16-25,30-40,30-5-12 14-21 45-39zM11704,5974l3,9-9,9-12,4-5-8 7-11 9-4zM12114,5662l-7,17-20,25-15,12-11-7 14-24 17-12zM12626,5169l2,9-40,54-30,24-6-9 20-42 30-33zM11538,5743l-21,20-43,34-52,21 9-27 33-29 38-18zM11253,5272l-13,22-62,62-40,14-34,12 51-59 73-54zM12080,5406l-15,15-28,27-38,15 1-8 17-21 42-23zM11877,5327l-4,12-26,24-30,14-4-5 29-31 19-11zM11374,5929l-8,27-51,49-47,23-6-9 13-26 72-50zM12241,5737l-5,15-20,26-33,16-9-10 15-30 33-17zM11176,5334l-11,26-61,50-28,4-24,0 42-39 45-30zM12327,5286l-35,52-37,32-48,28-23-2 43-49 66-50zM11742,5562l-13,18-19,9-15,9-3-15 11-12 16-11zM12013,5430l7,14-32,37-20,12-13-3 13-32 26-22zM13795,3967l-4,17-58,38-61,17-8-6 54-41 32-20zM13107,4339l-1,13-16,18-18,7-19,0 20-25 20-13zM13139,4227l-17,26-28,18-32,8-10-9 27-25 27-13zM13442,4391l-13,22-9,14-20,12-6-13 7-13 23-14zM13903,4119l13,9-47,35-30,15-15-7 15-23 43-28zM13028,3769l-10,26-24,11-19,4-17-4 26-24 25-13zM12752,4313l-8,21-35,15-32,11-4-17 17-15 48-17zM13827,3683l-9,16-11,3-26,6 2-20 9-9 17-7zM13481,3636l-2,11-23,18-30,5 2-13 11-15 33-9zM12879,4382l3,8-8,9-20,3-2-9 8-9 11-6zM12955,3994l9,13-40,31-17,12-17-21 16-21 41-24zM13237,4407l-4,16-19,17-13,9-9-5 14-24 16-10zM13212,4054l-1,12-17,23-12,3-10-2 9-24 20-15zM12706,4304l-2,10-7,6-11,0-3-7 3-6 9-3zM13700,4161l-20,33-39,35-46,19-1-12 38-48 38-24zM13076,3851l0,6-15,16-11,5 0-10 6-9 9-10zM13774,4109l-3,10-20,8-12,2-9-8 12-10 27-11zM13621,4301l-10,16-34,20-28,11-3-14 25-17 39-21zM13483,4114l-14,23-35,21-26-1-21-1 39-30 37-15zM13916,3950l-23,26-63,21-46,14 4-21 40-21 41-14zM13552,3714l-20,20-17,13-31,4-24-2 38-24 39-16zM13688,3907l-1,19-20,22-37,23-7-9 13-24 29-24zM14003,4350l-4,20-53,39-56,27 5-23 40-37 45-29zM13503,3839l-3,12-9,9-15,11-11-6 16-15 13-10zM13625,4314l-12,21-22,14-28,9-7-11 25-26 23-7zM13745,4121l-16,16-20,11-17-1-3-5 12-11 30-12zM13022,4171l-21,25-45,24-52,19-16-11 59-46 52-19zM13772,4357l3,15-39,18-23,0 4-11 19-15 29-11zM13520,4034l-8,13-26,13-21,4-4-19 20-13 31-4zM13255,4331l2,6-29,25-18,10-5-10 18-19 21-15zM4173,3885l-15-27 24-30 42-34 18,30-4,19-41,45zM4034,3961l24-32 30-10 30,6 2,20-28,14-28,6zM3481,3355l-21-7-12-57-4-38 22-6 15,28 18,62zM3429,4108l-8-15 14-30 15-9 14-8-3,41-12,14zM4070,3919l-13-3-3-11 0-12 9,0 10,0 2,15zM4121,3290l15-12 27-6 23,5-8,11-21,7-23-1zM3532,4148l-5-6 16-21 12-4 5,8-3,12-16,17zM4353,3307l-11-18 15-54 18-22 21,6 2,44-23,34zM3885,3797l-9-1-12-27-3-15 12,0 13,15 8,19zM3262,3182l-7-9 43-42 22-10 21,13-32,31-26,18zM4578,3313l-16-17 4-25 10-17 18,10 7,18-4,20zM3827,3798l-13,7-12-16-3-11 16-12 14,8 2,15zM3855,4199l-15-8-15-23 4-25 13,2 10,3 6,24zM3887,3276l2-11 13,0 9,1 7,11-8,9-19-3zM4451,4186l-2-11 8-21 33-13 13,15-6,16-34,24zM3760,3535l-16-5-31-28-8-31 16-3 20,15 18,41zM3554,4221l-28-4-11-26-12-51 20-6 22,32 17,41zM4623,3124l-8-20 36-36 31-15 36-8-30,39-46,51zM3877,2603l-14-10 49-49 39-30 21,14-30,42-45,44zM4287,2519l-20,13-34,3-17-12 1-16 22-13 27,6zM3668,2397l13-18 30-12 42-14 21,10-49,33-53,19zM4586,2830l-30-39-20-43-2-46 16,8 23,30 22,51zM3519,2713l-1-45 26-36 28-34 12,22-1,45-29,25z" fill="#1874CD"/>
<path transform="scale(.1)" d="M4314,4483l-6-6 4-22 8-15 5,5 1,20-7,16zM5322,5015l-12-20 4-21 13-33 11-3 1,25-9,43zM4143,4586l-5-9 6-31 12-29 2,17-3,19-4,22zM4793,5094l-5-3 6-29 9-33 6,5-3,32-8,21zM4803,4877l1-15 4-22 14-32 2,11 0,14-11,30zM4792,4890l1-21-1-9 11-23 5,4 1,18-7,16zM4924,4768l-1-22 15-44 12-32 6,9-2,26-12,39zM4661,4717l8-37 3-26 24-45 3,11-4,36-16,41zM4547,4599l7-32 13-35 34-57-1,18-10,39-22,48zM5093,4787l-4-5 9-35 21-24 2,9-2,20-18,35zM4673,4852l3-44 18-43 26-52 6,15-5,38-23,41zM5221,5280l-6-26 12-38 23-37 9,17-1,16-17,36zM4391,4724l-3-12 5-29 6-7 10,0 0,13-5,23zM4656,4908l-1-15 6-31 7-17 8-7-7,36-4,21zM4721,4635l-5-14 15-44 17-18 5,8-4,24-12,35zM4590,4537l-9-4 7-36 7-13 9,2 1,21-10,21zM5089,4811l-3-26 10-33 13-30 7,4-4,24-13,40zM4333,4540l-2-37 14-89 12-26 10,12 5,34-25,82zM4516,4515l0-20 6-39 15-21 7,4-6,32-6,17zM5264,4673l-3-9 1-17 7-17 5,1 1,21-3,10zM5229,4504l-2-15 6-26 12-22 4,1-2,26-8,25zM4384,4799l-1-6 9-28 8-12 4,5 1,17-13,24zM4887,4709l-2-14 4-42 8-9 15-1-4,28-6,23zM4609,4867l-10-14 14-50 25-35 10,13-6,34-16,27zM4381,4856l-4-23 6-34 19-54 1,28 4,16-17,67zM4632,4816l-5-19 15-53 21-38 13-3-5,44-18,43zM5142,4788l-6-6 16-61 12-41 13-4-6,47-17,64zM5230,4864l-4-14 7-48 9-18 11-5-7,35-7,28zM5185,4517l-1-11 5-12 6-9 6,1-1,12-6,14zM4704,4569l-8-12 23-81 23-37 6,15-9,34-25,73zM4301,4760l4-29 8-25 22-25 6,1-6,20-16,39zM4619,4940l5-40 4-35 13-20 8,0-4,31-13,43zM4538,4955l-10-17 14-61 13-28 17-6-10,58-11,27zM5302,5234l1-27 9-36 23-38 20-12-12,56-31,60zM5280,5166l-10-6 17-41 18-29 10,3-10,39-13,24zM4668,4735l-2-21 6-22 20-27 5,6-8,32-12,31zM4435,4878l2-22 12-28 9-15 8-5-8,29-15,28zM4613,4812l5-28 7-29 17-37 3,11-2,35-15,33zM4292,4796l1-18 8-21 18-28 2,5-6,25-12,26zM4138,4652l0-18 4-16 11-15 3,10 3,5-10,19zM4149,4623l-7-15 14-47 11-25 11,10-3,33-10,44zM4890,4541l3-21 8-26 14-23 3,9-1,22-10,20zM4710,4813l-3-20 2-29 16-54 5,13 2,28-12,40zM6369,4722l-11-25 12-44 35-25 19-10-3,42-31,53zM6497,4863l1-22 9-24 21-13 13,9-14,24-16,22zM6428,5215l-17-2-11-31-8-37 19-5 18,33 5,17zM6231,5135l-9-1-18-24-7-11 10-7 15,13 9,16zM6222,5404l-12,5-10-1-7-14 3-7 15-2 10,8zM6610,4760l-2,9-15,3-8-12 8-7 3-6 11,7zM6659,4929l-11-12-8-20 19-31 9,5 15,19-9,28zM6558,5037l-11-4-11-15-4-19 13,3 10,12 2,14zM6504,5063l-14,8-10-3-8-10 6-13 12,0 7,5zM6347,4805l-9-18 5-15 10-14 18,11-4,15-7,11zM6277,5175l-8,4-5-39 8-14 13-1 3,23 2,17zM6238,5395l-10-3-7-3-1-12 4-11 9,7 6,10zM6511,4773l7-6 16-12 16,8 11,5-18,9-20,8zM6228,5291l-12-14 3-26 24-19 7,11 12,23-9,17zM6357,4656l9-9 10-4 7,6 0,7-4,6-15,1zM6127,5012l6-10 9,0 13,3-3,8-6,7-7-1zM6690,5198l-8,2-12-21-5-16 8-2 12,10 12,23zM6536,5466l-11,11-21-10-22-11 12-12 21-1 25,10zM6539,5236l-4-15 10-7 17-2 8,14-10,10-13,3zM6422,5499l-7-23 8-21 28-27 6,17 3,15-20,25zM6703,4898l-21-5-30-20 0-23 15-13 23,8 13,24zM6337,5215l-11-15 0-14 12-13 10,9 7,11-8,11zM6093,5425l-5-9-3-10 7-7 9,3 1,9-3,7zM6623,4856l2-13 17-16 14-7 4,9-1,10-20,9zM6677,5466l-10,9-33-38-2-28 11-5 23,13 17,32zM6721,5254l-15,8-18-1-15-18 12-16 18-2 18,8zM6690,5203l-15,0-15-20-6-24 5-5 13,11 17,22zM6275,4902l-13,3-10-36 8-11 14-4 9,19-2,28zM6264,6316l-17,7-32-16-15-16 8-13 21,1 26,14zM6294,6317l-7-23 1-29 17-22 16-10 3,37-9,23zM5934,5666l-18,3-25-16 1-19 13-24 23,15 9,24zM6801,6326l-19-4-31-25-21-31-3-25 43,33 27,32zM6139,6115l-12,3-14-4-9-10-2-13 24-1 10,9zM6249,5691l-9,7-31-12-31-25 7-9 30,9 34,19zM6742,5723l-7-32-1-27 12-35 15-10 3,50-7,28zM6659,6288l-11,3-12-20-4-13 9-19 20,7 8,28zM6187,6421l-14-15-8-34-3-22 22-1 14,20 6,37zM6544,5917l-6-3-10-34 3-15 9,2 6,17 5,17zM6866,5648l-7,3-6-9 0-13 10-2 9,7-3,10zM6632,5777l-8,5-16-4-10-9 3-8 5-4 22,11zM6048,5700l-5,9-22-12-13-14 5-14 25,5 15,14zM6577,6191l0-5 19-8 21,2 2,8-19,8-14,2zM6332,5742l-1-9 22-18 16-6 7,4-14,18-14,9zM6439,6389l-27,3-18-9-19-34 7-11 31,12 23,15zM6811,5656l4-38 7-31 30-24 28-11-18,56-26,22zM5924,5735l-14,12-24-18-13-20 8-10 20-2 20,22zM6408,6479l-14,11-22-2-17-5-1-9 22-5 17,3zM6847,5615l-20-24-3-52 12-37 27-14 7,48-11,71zM6169,5955l-18-13 1-42 10-20 11-14 14,48-4,38zM6010,6043l-5-29-7-49 13-31 19,3 4,37-1,40zM6264,6052l-11,12-16,2-13-11 2-19 20,3 7,2zM5565,5667l-7-21-6-26 17-22 9-14 6,44-7,16zM6743,5727l19-11 19-6 29,5-9,14-15,4-26,2zM6403,5667l0-18 8-29 22-23 8,9-9,29-11,19zM6323,6087l-16,2-13-3-10-6 0-11 15,0 17,4zM5914,5612l-10-10-4-41 9-27 16,14 12,23-2,24zM6425,5696l-27-15-27-36-1-34 15-18 15,25 25,57zM6217,6464l-3-13 7-8 7-5 7,5 0,12-13,10zM5484,6025l-16-7-9-25 4-40 21,3 12,20 5,29zM5991,6181l-15-13-12-51 8-38 12,4 18,40 8,55zM6889,6080l-16,2-46-46-15-38 11-7 30,17 36,49zM5441,6015l-4-17 34-19 49-7-11,27-12,16-40,6zM6611,5884l-10,5-24-11-10-13-2-10 30,8 17,14zM6150,6156l-27-13-29-35-7-24-2-21 41,20 29,45zM6657,6281l-12,11-27,0-24-5 2-20 30-10 22,9zM6692,6398l-20,2-21-20-13-19 11-9 29,1 7,14zM6286,5795l-10,5-44-5-30-16-8-18 42,4 55,14zM6727,6414l-9,13-32-9-10-19 5-17 23,4 23,8zM5824,6201l-4,9-24-13-11-8 4-19 22,2 15,15zM5651,5626l-25-6-31-25-8-26 21-10 30,20 3,16zM6493,6170l-20,16-16-14-11-12 7-20 16-1 17,18zM5979,5789l-18-10-14-16 4-30 17-5 16,16 11,28zM6629,6197l-11-19-11-54 13-12 11-11 13,39-4,31zM6236,5901l24-18 68-15 31,6-3,20-49,18-24-6zM6361,6073l-5-5 2-12 13-11 9,6-1,9-12,13zM6565,5575l-6-9 10-23 17,9 11,10-5,14-19,11zM5739,5983l-13-6-12-13 9-7 10-10 8,14 7,10zM5866,5604l-10,1-25-14-6-8 7-15 15,2 17,16zM5547,5780l-8-22 14-33 22-7 12,3-1,23-27,29zM6173,5716l-1-10 21-25 24-21 0,12-6,22-28,25zM3352,4889l-11-5-17-31-12-25 10,3 21,20 9,18zM3505,4425l-15,1-14-19-3-19 7-7 18,11 8,18zM3940,5524l-20-4-38-55-4-21 22-8 15,11 32,61zM3652,5097l-18-3-17-20-5-24 13-5 25,7 11,22zM3753,5468l-17-5-25-26 4-21 13-11 17,18 12,35zM3907,5846l-17-4-16-20-5-18 19-6 13,14 6,13zM3555,4706l-15-8-17-20-16-23 11-4 20,19 14,18zM3408,4297l-18-4-14-5 0-22 9-20 20,14 12,28zM3716,5687l-16-4-7-13-5-17 12-2 12,6 4,16zM3495,4515l-7,0-12-24-3-18 9-5 8,7 10,34zM3463,4622l-15-7-24-27-4-16 10-6 15,11 20,40zM3529,5146l-10-3-5-13-1-13 8-1 11,7 1,11zM3764,5525l-9-2-15-15-1-10 5-7 14,11 9,16zM3844,5724l-13-7-9-25-6-19 11-4 14,22 3,14zM3491,5270l-8-7-9-10-1-22 9,0 8,7 8,25zM3834,5295l-5,6-17-21-2-11 4-8 13,7 14,18zM4008,5767l-13-3-20-15-4-25 13,0 12,9 12,22zM3407,5142l-26-20-22-33-14-40 16-7 18,29 29,37zM4115,6127l-24-17-28-38-3-22 4-19 36,41 24,41zM3927,5883l-11-6-13-23-2-22 7-5 15,19 12,24zM3572,5116l-14-8-23-39 1-27 7-1 17,23 16,35zM3458,4399l-5,0-21-33-3-15 3-17 12,15 19,41zM3792,5597l-13-5-13-24 1-11 6-3 13,8 9,22zM3654,5255l-12-2-13-34-2-20 5-2 14,16 10,30zM3980,5843l-23-17-26-22-13-47 20-2 19,23 30,42zM3538,4534l-10-7-10-18-3-15 11,4 7,4 5,20zM3280,4252l-12-2-6-17 3-9 4-7 8,14 5,12zM3623,5218l-7,0-23-24-7-22 10-11 15,13 12,23zM3609,4965l-7-5-23-38 0-20 13-9 14,29 10,22zM3684,4938l-15-7-7-11-7-30 15-2 14,14 9,23zM3455,5176l-25-8-15-31-7-41 12-15 33,40 10,35zM4292,6126l-10-3-10-21-2-23 7-8 11,16 9,21zM3442,4914l-11-4-16-24-4-13-1-7 18,18 12,17zM3779,5719l-19-7-15-12 0-16 14-16 22,14 3,20zM3831,5223l-12-8-6-10 0-12 5-5 9,6 3,17zM3447,4698l-17-4-32-52-6-25 10-19 31,41 16,35zM4142,5975l-16-11-17-30-12-43 13,1 25,34 5,30zM3691,5655l-10-1-17-25-1-12 6-4 10,11 11,23zM4334,5786l-24-4-24-23-15-37 22-4 20,17 26,38zM4560,5750l-14-8-16-19-7-15 15-8 17,15 7,19zM4319,5363l-12-10-14-18-1-24 11,1 8,10 8,24zM4073,5143l-25-19-23-31 5-22 12-6 25,24 13,38zM4251,5456l-20-8-15-26 0-26 6-9 22,19 17,44zM4062,4688l-18-6-12-18-1-12 6-10 17,12 11,18zM4099,4705l-20-9-19-17 3-32 11-10 25,20 11,37zM4093,5218l-19-1-15-19-7-21 13-7 18,18 10,20zM4143,5301l-13,2-18-13-5-27 12,1 15,8 14,24zM4089,5058l-7,5-21-29 8-12 7-11 19,11 6,19zM4484,5548l-8,2-11-15-8-19 7-2 13,12 6,13zM4397,5435l-11,8-17-22-4-17 12-6 19,8 3,15zM4425,5912l-16,2-9-9-1-20 9-7 11,3 8,20zM4054,4939l-20-5-16-22-2-13 7-19 30,23 6,20zM3862,4780l-32-12-13-13-13-36 11-7 20,12 23,36zM4563,5755l-18,0-31-40 1-19 7-19 32,31 14,39zM3943,5036l-25-20-31-50-1-43 24,0 17,35 14,34zM4056,4863l-7,3-23-55-7-39 15,15 12,15 21,54zM4527,5923l5-42 39-71 20-15 15-1-21,55-22,45zM4670,6337l0-8 19-26 15-13 2,12-8,17-16,15zM5312,5671l-3-13 5-15 7-7 11-1-3,19-11,15zM5682,2689l-35-13-27-11-40-44 8-11 52,23 17,20zM4673,2777l-18-18-6-30 2-61 13,4 12,35 9,52zM3579,2850l-16-8-7-8 1-15 9-7 9,8 6,15zM5008,3792l4-6 9-12 11,3 8,6-5,11-18,5zM5013,2647l-20-15-15-26 11-17 13-1 18,21-2,21zM5116,2922l5-30 45-46 32-7 5,13-21,29-41,37zM3656,4087l-11-8-6-12 3-13 6-3 8,11 5,19zM3626,3300l-10,15-15,9-22-14 5-17 20-15 12,4zM3579,2981l16-19 23-16 17-1 2,7-8,13-35,15zM3904,2759l-17-23 2-19 2-17 22-2 11,25-8,28zM5047,2737l-9-3-1-13 2-12 8,2 8,3-1,16zM4367,3841l-21-2-11-20 0-15 14-10 20,12 9,27zM5642,3527l-14-2-17-24-14-29 16-7 14,17 13,30zM5831,4144l-11-14-1-22 5-31 10-9 7,36-4,25zM5046,4128l-15-11 15-26 13-18 10,11 3,18-12,19zM5497,2704l-2-28 3-40 27-38 18,7-6,41-15,34zM3764,3804l8-5 17-3 16,3 3,9-15,8-19,0zM4970,3127l6-9 12-3 13,0 5,5-16,11-9,2zM5190,2855l-12-6 4-33 21-40 6,8 6,39-18,28zM3678,3426l-6-7-9-18-1-35 13,12 10,10 4,26zM3965,3675l-9-2-16-2-14-9 3-6 11-2 19,12zM4490,3691l-10-4-4-16 5-9 8-5 6,15 0,11zM5732,2931l11-19 44-10 16,4 17,18-25,13-53,11zM3884,3561l-13,3-22-18-5-19 1-15 19,6 12,22zM4192,3469l-9-2-5-7 4-10 8-3 5,8 3,6zM5499,3536l8-12 7-2 14,1 5,9-11,8-14,3zM4635,3192l-24,2-35-30-6-20 8-18 31,21 18,28zM3769,4051l-13-14-6-20 7-22 10-1 22,19-8,21zM5079,3512l-8-9-3-33 0-29 12,10 13,25-2,19zM3433,2740l-23-10-27-52 2-24 14-5 17,22 13,42zM5405,2416l-10-7-17-46-2-31 22-10 16,35 6,45zM3486,3754l-10-19 42-41 25-7 11,23-14,25-32,19zM4604,3076l-9-4-11-18 2-18 8-4 11,16 3,21zM3600,2800l-10,3-23-10-7-17 4-18 15,12 19,13zM3251,3669l19-24 58-34 29,1 11,21-31,20-54,19zM3953,2686l-13,5-12-53-1-31 12,7 22,22 2,38zM5937,3096l0-11 33-5 16-3-2,17-12,11-25-1zM5570,3947l17-23 29-15 52-9 4,27-34,18-37,20zM5087,3084l-12-2-8-12 8-12 6-7 13,5-2,19zM5473,4165l-15,1-36-27-3-21 8-18 26,22 19,19zM5140,2584l-1-9 20-3 21,4-3,10-13,5-17-1zM3311,3572l-20,1-67-14-36-26 7-20 44,10 49,25zM4419,2820l14-25 23-22 38-10-9,16-23,22-25,18zM3612,3932l-6-23 8-28 14-28 11,4-3,38-7,19zM3764,2583l-9-4-10-18-3-24 12-2 6,15 8,13zM3932,3832l-2-12 13-24 18-20 10,3-9,21-11,18zM3649,3740l-24,1-4-28-8-35 18,4 26,23 5,18zM3295,2862l7-8 15-1 12,4-2,5-7,5-20,1zM4474,3391l-16,13-25,8-15-10 3-15 7-12 32,2zM4426,3316l-19,2-26-14-3-14 8-12 20,9 15,11zM5071,2943l-3-14 14-10 18,0 10,8 0,14-27,8zM5720,3056l8-27 20-22 22-5 8,5-11,28-24,15zM4740,3904l17-27 38-10 43-3 3,8-25,24-52,11zM5965,3902l-9-14-1-43 3-13 14-3 4,31 1,27zM3364,2530l-14,3-19-16-3-15 0-11 17,9 25,26zM3336,3126l-14,7-35-13-25-20 9-11 29,3 22,14zM4223,3426l6-13 19-18 18-3 16,7-21,18-24,10zM5127,3541l-18,2-7-20 2-30 21,5 12,9 4,30zM4301,2811l1-15 10-24 15-6 5,2-4,14-15,23zM4891,3659l15-15 35-22 43,2 6,7-35,26-35,4zM5635,3773l6-10 21-15 24,1 19,8-31,17-19,5zM4667,2425l-9-14 12-41 11-21 14,7-3,25-10,23zM3421,2804l8-7 40-4 41,2-13,16-23,8-33,3zM4999,2699l-7,8-34-13-12-11 1-9 23,5 24,13zM5337,2544l-10,13-49,2-43-21-1-21 23-7 63,16zM4122,4097l-8-15 14-40 24-24 23,12-16,33-20,36zM4567,3568l-18-8-16-21-9-32 23-1 17,16 9,22zM5667,3044l-27-17-19-37 1-28 16-4 18,19 18,47zM4905,2477l-9,4-42-31-27-55 24,6 20,1 40,40zM5219,3443l-16-5-21-26 0-27 17-8 17,16 17,21zM5251,3443l-8-14 6-27 6-11 14,6-2,14-8,26zM5887,3986l-12-10 12-20 13-2 13,6 5,16-23,19zM5648,2504l-9-10 28-24 23-7 12,7-16,28-23,9zM4599,2703l-9-17-1-14 4-13 9-1 4,11-2,17zM3957,3998l-8,0-27-9-4-9-1-12 15,4 24,18zM4701,4118l-12-12-4-19 5-10 16,0 6,9 0,19zM3786,3784l-23-9-14-20-9-29 12-4 16,17 17,34zM4944,3381l-7-12 4-13 11-9 13-4 2,24-8,16zM3189,2498l21-15 36-14 38,1 3,24-43,16-50,2zM4099,3040l-17,8-31,1-30-23-1-17 25-3 49,22zM5324,4235l-23-24-14-31-5-27 15-21 25,41 5,26zM5665,3077l-7-5-1-10 10-14 7,6 6,7-10,18zM5028,3220l-1-22 15-21 26-20 9,6-3,19-32,32zM5403,3417l-34-7-45-25-19-19 21-8 30,11 24,18zM5359,2982l-6,5-10-5-9-12 9-8 9,1 7,9zM5595,2573l-2-7 11-11 11-1 3,4-5,12-12,4zM3544,3524l-4-14 14-33 17-19 0,13-1,21-17,27zM4038,3726l-10-28 0-34 8-50 16,9 8,34-6,41zM4434,3341l-10-17-3-39 10-24 10-2 3,34-2,30zM5146,3440l-14-10 6-21 14-10 21,5-2,20-10,21zM5213,3184l-11-3-14-43-1-29 13,6 15,19-1,26zM5034,2567l-14-17 2-47 7-14 13,0 5,16 2,44zM3422,2803l4-12 23-20 9,4 14,6-14,10-16,9zM5850,3303l-9-26 5-55 16-32 12,16 2,43-11,29zM5113,2706l-10-2-19-7-15-13-2-10 22,5 25,17zM3472,2484l-6,6-14,0-10-6 5-7 14-3 9,5zM4150,2423l3-23 33-31 17,5 18,2-15,26-31,25zM4253,2529l-23-39-8-32 2-52 18-5 21,34 2,55zM5187,2757l-1-11 6-11 5,2 4,5 0,5-9,8zM5251,3492l-2,9-23-20-17-20 4-10 17,10 24,21zM4910,2388l0-14 9-11 20-9 7,14-5,20-12,6zM3377,3507l-31,15-45,4-31-7 4-14 31-10 35,3zM3466,3250l-25,8-15,2-37-13 10-15 25,2 23,6zM3334,3297l10-18 44-18 33-1 2,12-30,18-46,11zM4871,3949l-31-16-30-23-2-32 12-6 27,10 22,36zM4117,3437l-9-8-8-12 6-11 8-7 8,18-2,6zM4788,4183l-5-18 18-20 17-3 19,8-14,14-21,16zM4636,3765l-15-14-10-27 6-18 10-2 14,7 3,41zM3489,4202l-12-13 6-27 19-20 17-7-2,40-8,26zM4802,3071l-13,7-20,1-11-24 15-10 12-5 23,21zM3825,3076l-14-12 4-14 11-21 16,3 14,22-12,15zM5328,2872l-2-7 8-15 20-15 4,5-6,19-15,18zM5813,3270l-28,13-46-1-34-1-9-16 48-11 47,3zM5547,3260l-4,7-31-11-17-14 8-8 19,5 30,13zM5229,2508l-5-6 5-16 11-6 10,7 3,7-7,15zM5098,3321l-7-33 1-19 13-34 10,4 3,38-3,25zM4437,2389l-15,5-17,2-23-4 5-14 22-5 16,3zM4427,3143l14-27 13-20 24-11 3,8-11,29-17,11zM4540,2554l-12,9-17-6-11-9 1-7 14-5 20,8zM5861,3943l-21,12-20-12-12-9 5-15 10-1 25,14zM3708,3707l-2-22 11-23 13-8 21-2-5,33-22,17zM4573,3545l-14-8-7-19 3-26 10-10 18,27-1,21zM4962,3950l-6-6-3-11 1-7 5-7 9,10 0,11zM4356,2416l-12,3-11-14 0-7 10-10 8,2 10,20zM5272,3781l-20-14-27-21-6-23 16-4 16,10 20,25zM4353,3739l5-11 49-13 24,8 6,18-35,8-26,3zM4959,3729l10-19 15-10 36-8 0,12-13,14-32,8zM3781,3345l-7-13-3-25 14-8 15-2 12,19-9,23zM4525,3844l-16-10-9-15 9-12 15-3 13,12-2,27zM4580,3965l-4,2-7-11-2-13 6-4 11,9 1,10zM4010,3150l-12-19-8-19 16-27 15,4 11,9-5,42zM3928,3351l-11-13-9-8 11-19 10,3 7,10 0,11zM3749,3416l-2-7 4-11 9-11 7,1-3,12-10,16zM4077,2468l1-15 14-21 17-17 10,1-10,19-22,27zM4449,3922l-9-14-6-21 10-33 10-1 3,32-3,18zM3646,2626l-27-9-22-10-14-27 7-10 22,4 28,25zM3455,3547l6-24 47-41 30-15 11,7-31,34-31,28zM3911,3942l-20,7-40-41-30-52 6-14 51,42 35,38zM5837,3874l-15,0-15-13-3-9 3-11 13,6 21,20zM3878,3818l6-45 16-48 24-20 23-5-20,64-12,19zM5620,2908l-8-1-3-16 4-8 4-4 10,7-1,10zM3979,4112l-8,0-9-8-1-12 7-4 8,4 7,14zM3962,3971l-21,9-5-11-7-11 14-12 10,0 8,15zM3415,3628l31-11 17-10 32,6-2,15-14,7-46,3zM5310,2612l-11-9 1-22 12-18 13-2 6,21-9,19zM5752,2614l-17,7-20-38-14-45 23,6 16,7 20,44zM4992,3296l-15-14-3-27 4-25 13-1 7,30-1,17zM3326,3502l20-17 31-8 36,3-3,17-28,14-36,3zM4528,2695l-2-16 12-5 13,0 7,6-9,16-9,0zM4501,3836l-15,0-13-22 1-14 9-5 13,5 6,16zM3286,4107l-12-16-4-26 20-5 12,6 7,17-9,17zM4375,3052l-16,7-16-6-2-13 1-7 18-7 17,14zM3838,4016l-7,12-28-5-27-9-1-14 34,0 27,2zM3638,2505l-19-32-17-51-4-45 19-7 20,46 3,51zM3908,2777l-9,7-31-2-13-3 1-12 23-8 23,7zM5243,4162l-28,11-36-30-16-30 10-9 24,5 38,29zM3825,2987l-21,7-23-7-24-9 0-11 36,1 25,5zM4906,3925l-26-12 0-35 3-29 15,0 23,20-4,42zM5091,3562l-11,2-24-8-13-13 6-5 21,6 17,10zM4418,2951l-29-7-3-27-3-28 18-8 21,15 0,44zM4994,2434l-30-1-31-18-23-24 13-15 20,5 52,30zM6916,3699l-10-2-9-30 1-21 14,1 5,14 3,20zM6799,3524l2-26 33-29 52-14 0,23-15,23-38,29zM7299,2946l8-29 22-27 52-16 0,18-19,34-46,17zM7342,4033l-12,6-11-3-6-20 6-10 13,8 16,12zM7274,4357l-25,0-18-30 11-21 12-10 27,22-1,21zM7185,4166l-7,10-25-4-14-12 4-17 22-5 19,9zM6129,2786l-23-24 5-19 24-21 16,7 10,22-19,24zM6184,4355l-14,2-15-29 2-13 10-6 16,9 12,34zM7273,3389l31-19 26,1 24,9 9,16-38,11-26-2zM6546,3668l-3-18-7-18 15-21 17,6 3,18-6,19zM6909,3528l-9-24 4-35 21-21 23,7 2,33-13,29zM6336,3820l-27-25-15-27-16-62 18-6 35,50 7,33zM6502,3837l1-21 10-34 15,2 18,6 1,23-18,15zM7048,3783l1-16 12-7 9,4 9,12-11,8-18,8zM6577,3047l-11,11-40-7-23-14 4-22 38,4 28,13zM6152,4138l9-23 16-13 28-1 7,12-6,19-34,15zM6293,2643l-19,14-19-1-22-15 8-11 15-14 24,8zM6646,3013l-11-7-6-20 8-24 13,5 5,20 1,19zM6592,2950l-25-2-32-35 1-29 8-22 42,33 18,34zM6255,4421l-26,7-33-20-31-35 0-30 55,22 38,32zM6750,3888l-13-5-11-20 8-15 15-1 11,9 0,26zM5876,3437l-9-23-5-29 14-7 35,4 7,19-17,27zM6236,3984l-1-16 14,0 13,8 1,11-13,10-10,0zM6365,4305l-19,5-18-6-12-17 20-13 24-2 6,12zM6254,4072l-26,10-44-12-26-16-6-20 36,6 46,14zM6595,2460l-10,9-23-10-6-9 1-12 22,6 14,5zM6553,4058l-9-22 2-31 7-17 20-6 5,30-15,33zM7124,4258l-12,5-13-18-5-12 7-17 10,11 19,18zM6798,3516l1-7 14-15 15-9 5,10-6,12-23,11zM7285,3662l-2-14 12-26 23-17 1,10-3,23-19,21zM7446,4118l-22,7-32-12-6-17 9-16 26-3 10,16zM6314,3196l3-11 18-10 24-6 14,8-27,20-27,7zM7098,2531l-11,2-15-10 1-18 10-13 17,10 7,13zM6962,2441l26-20 31-9 54-1-7,20-34,12-32,4zM6147,2809l-21,3-17-3-15-10-1-14 19-3 26,11zM6449,4088l-8-6-4-4 6-12 7-3 4,6 5,13zM7125,2866l0-19 21-15 29-1 10,17-17,12-28,8zM7131,4070l-4-20 10-29 11-10 19-5-3,27-17,22zM6567,4362l-13,25-25,0-28-20-5-17 29-9 31,6zM7396,3005l-1-41 33-41 24-19 21,1-5,38-45,50zM7246,2427l16-19 19-20 13-1 14,18-15,16-30,12zM6557,3854l-22,1-43-16-28-37 10-8 37,6 38,23zM7246,2991l-13-1-15-35 7-17 13-13 20,32-6,21zM6941,3279l4-23 15-40 21-25 11,6-4,30-27,52zM7292,3804l-8-3-8-28 0-21 11-4 14,22 2,29zM6630,2706l-22,1-25-61-1-38 25,6 21,41 8,28zM7396,2816l3-5 16-4 21-3 0,8-14,10-15,2zM6230,2792l-16-26-6-35 5-35 17-7 14,42 1,25zM6544,3493l6-11 13-6 12,1 0,13-8,4-16,6zM5993,2823l-19-23 6-48 10-10 27-13-3,32-3,48zM7150,3373l-14,15-36,0-37-12 2-14 16-17 53,13zM7134,3946l-7-14 12-39 21-18 6,12 0,16-15,31zM7108,2723l-6-2 12-25 12-11 6,4-2,13-13,17zM6219,2987l0-42 17-22 27-18 31,8-19,25-33,39zM7343,2654l-10-6-4-20 1-18 11,0 5,10 3,25zM6778,4082l5-17 26-17 12-4 9,4-17,22-17,8zM7013,3267l-12-30 16-24 30-22 20-2-9,41-23,30zM7031,3101l-2-15 17-26 20-10 1,13-2,28-21,10zM6843,3731l4-21 16,0 23,1 1,27-13,16-19-11zM6647,3259l5-32 11-17 23-6 12,6-2,21-28,21zM6833,2729l-10,1-5-7 4-11 8-5 7,6 1,8zM6821,3937l3-15 22-27 15-4 9,7-3,20-19,12zM6753,5238l-2-12 8-15 15-2 5,8-1,19-11,3zM6976,4598l-9-6-3-17 6-6 4-2 7,8-2,14zM6665,4907l-11-13 10-12 16-17 8,6-2,18-8,14zM6945,4576l-6-13 7-9 15-6 10,9-2,7-8,10zM6618,5393l10-10 31-17 13,8 2,8-9,11-25,2zM7159,4567l-38-2-20-9-32-23 15-11 37,7 29,23zM6969,4658l16-23 17-2 43,1-12,23-18,15-26-2zM6727,5385l-10-13 9-32 23-27 5,16 6,11-20,38zM7146,4665l-19-9-35-32-9-24 19-21 22,19 31,41zM6542,4763l-10-8 4-23 12-19 8-2 6,22-9,24zM7115,5328l2-11 5-5 10,0 7,4-5,11-11,2zM6697,4700l-5,6-11,3-7-6 0-12 5-4 12,4zM6802,4782l-11-20 10-28 25-19 12,22 4,20-27,24zM6523,4489l3-7 9-8 19-6 5,4-14,15-16,7zM6734,5255l6-3 17-5 9,2-1,8-13,6-12,1zM7085,4984l10-12 56-4 26,9 4,16-27,9-64-3zM6936,5445l-17-2-21-16-22-28 9-17 34,24 16,18zM6975,5413l-16,16-31-28-26-27 5-25 40,22 24,30zM6542,5267l-6-17 0-26 8-25 13,2 4,23-12,31zM7246,5015l-21,10-46-22-30-24 0-18 44,7 46,31zM7223,5430l-1-12 10-23 29-21 5,7-4,21-30,32zM6419,4938l-14-12 11-17 20-4 10,6-1,18-14,9zM6548,5033l-26,1-26-18-26-27 15-10 28,12 25,24zM6482,5432l10-11 48-9 28,1 4,15-30,15-42,0zM6893,4486l19-8 29-8 14,7-4,14-19,8-30,3zM6942,5194l-31-27-29-36-4-35 19-6 23,20 25,60zM6645,5451l-9-5-7-9 4-10 14-2 3,9 3,12zM6551,4552l-10-6 0-23 14-23 12,11 0,9-1,23zM6746,5380l-13,11-31-16-5-15-1-15 22,4 19,15zM6810,4896l-6-9 28-15 11-2 12,9-14,14-15,2zM6746,5038l-5,6-27,4-22-13-10-13 22-1 27,5zM6851,5197l4-9 21-1 10,4 6,13-21,1-17,0zM6767,4980l-22,12-38-21-5-13-7-22 29,7 39,25zM6753,5632l-9-2-10-10 3-7 8-5 10,5 3,9zM6923,6475l-9-6-7-24 6-13 5-9 10,13 4,23zM7206,6005l-20-16-4-25 1-19 20,8 9,17-1,22zM6686,5868l-12-2-4-21 4-22 16-7 3,18 5,27zM7641,5691l-16-15-4-27 6-30 10,7 14,20 0,38zM6465,6518l-16-19-12-32-9-41 19-10 16,31 3,37zM6826,5650l-16-1-3-12 2-7 8-6 9,6 3,13zM7459,6366l-8-17-11-27 16-33 23,5 2,28-4,30zM6656,5583l-15,1-7-21 3-21 13,1 11,12 2,19zM6687,6350l-2-13-6-19 14-18 11,5 8,15-3,25zM6751,6478l-15,0-18-38 3-28 22-1 14,15 7,45zM6436,6273l-10-14 1-15 12-16 20,0 0,21-9,19zM6664,6569l-24-16 7-44 23-18 10,14 12,27-16,26zM7203,6257l-15-7-6-26 0-29 11,0 8,24 8,27zM7607,5578l3-31 13-32 14-29 15,14-9,28-14,26zM6459,5658l-13-13 14-37 26-48 10,4-5,37-22,58zM6450,6085l-20-12-8-30-4-34 20,8 19,13 5,43zM7243,6176l-15-12 7-34 18-41 15,7 2,30-7,36zM7175,5774l-22-17-5-49 6-34 16,15 24,26 0,29zM7221,6239l-4-17 2-26 14-25 10,3-1,26-9,26zM6925,6101l-14-11-2-22 6-22 15-2 8,29-3,18zM6513,6357l-8-26 5-47 8-17 25-7 4,29-19,62zM6757,6242l-9-25 7-62 21-36 15,16-4,50-12,43zM7212,5975l-18-5-6-52 13-35 16-7 5,42 1,32zM6562,5639l-10-8-1-15 6-25 16,3 4,12-1,20zM7339,6214l-4-9-3-9 9-9 8,6 4,7-7,9zM6771,5860l-5-23 10-27 14-15 8-3 3,16-14,30zM7079,6118l-17-27-12-33-6-35 20-4 14,22 10,58zM6705,5669l-10-20 3-55 12-65 17,36 6,36-7,43zM7316,6248l-20-13 1-20 12-27 19,3 14,27-6,17zM7473,6243l-8-14 6-23 18-44 5,8 1,34-13,37zM7146,6446l-8-6 0-11 10-8 9,9 5,7-8,10zM6709,6440l-26-20 2-18 15-29 12-4 19,31-9,32zM6966,5780l-14-7-10-20 11-21 10,2 14,9-1,22zM6432,6277l1-20 6-19 12-11 4,8-4,19-8,15zM6748,5679l-8-4 1-10 5-3 11,2 3,8-7,8zM7333,6135l-12-1-4-10 0-11 11-2 16,8-6,13zM7565,6645l-7-20 8-21 8-26 9,11 4,14-13,29zM7063,6372l-9-33-3-29 16-44 15-18 9,63-10,54zM6866,5925l-8-12 1-44 10-22 9,13 2,14-1,29zM7652,6413l-6-8-1-15 9-6 12,2 6,14-7,11zM6752,5820l-14-5-7-30 3-23 13,0 16,22-2,20zM6955,6348l-12-30 7-38 14-38 21-11-3,37-14,45zM6460,6280l-15-7-4-31 2-25 11-7 13,30-2,22zM7140,6023l-7-10 7-20 7-10 16,11 4,18-12,15zM6723,6585l-15-3-1-22 7-16 16-1 19,21-6,11zM7034,6253l-9-5-12-15-2-22 11,1 6,6 7,23zM6437,6012l-17-15-5-47 5-11 21-11 8,14 2,52zM7311,5823l-17-3-10-32-3-33 15,6 15,23 13,39zM12112,5795l-17,27-28,34-35,24 2-9 15-35 33-27zM12036,5837l8,12-36,30-27,9-22,5 34-38 34-23zM11993,5816l-9,13-37,25-19,7 2-10 13-18 23-12zM11434,5961l-4,22-15,15-19,3-10-7 3-17 25-18zM10975,5519l-3,20-30,44-26,12-21-1 30-33 24-26zM12553,5376l-5,11-16,17-13,4 0-5 6-13 21-14zM11665,5160l-12,21-17,18-15,9-2-10 11-14 18-13zM11835,5564l3,15-12,11-21,10-8-14 7-14 14-10zM11747,5836l-5,22-26,43-30,20-4-10 6-29 36-38zM11539,5319l-2,27-24,27-29,19-10-13 18-26 36-40zM11831,5863l-1,18-12,16-16,4-16-9 18-21 15-8zM11894,6049l-1,9-16,17-16,6-5-18 10-12 19-9zM11819,5825l-7,21-24,29-27,22-9-2 16-24 24-26zM11766,5695l-9,29-38,45-30,12-20,3 46-56 29-32zM11004,5565l-9,33-45,31-31,11-10-9 29-31 34-22zM11557,5989l2,10-24,19-28,7 0-13 11-13 26-11zM12214,5321l-3,9-15,15-17,6 0-7 12-15 10-7zM10923,5302l5,19-17,13-30,10-1-12-2-17 34-18zM12132,5467l-5,15-19,25-23,14-12,2 17-29 23-20zM12536,5301l-5,15-10,10-30,17-7-8 26-23 17-14zM12090,5404l-2,11-20,26-17-1-11-15 9-18 17-4zM12309,5501l1,16-10,12-13,7-8-10 4-13 15-10zM11154,5666l1,8-15,18-24,18-3-10 5-12 29-25zM11739,6076l-4,10-13,10-25,11-11-1 18-16 31-19zM11325,5313l-13,16-33,19-27,10 1-9 23-21 26-13zM12528,5521l-6,10-10,5-8,3-5-5 6-11 8-3zM11172,5559l4,14-28,15-16,5-7-7 7-15 25-20zM11359,5534l-4,15-13,17-9,1-7-3 2-17 16-10zM11897,5475l-16,29-36,27-35,13-2-10 30-30 47-32zM11149,5106l6,9-40,43-31,28 1-12 13-25 29-32zM12495,5317l-6,18-18,11-23,10-12-9 21-18 28-13zM11526,5640l-11,29-23,26-15,11-5-4 6-17 23-29zM11940,5790l-7,31-34,37-16,2-13-10 21-33 30-24zM11343,5364l-5,18-20,16-20,10-6-10 16-22 14-9zM12043,5534l2,5-36,37-13,6-3-6 10-17 27-25zM10997,5192l-5,11-7,13-13,6-10-8 9-12 8-6zM11503,5418l-1,11-20,15-9,2-9-2 13-15 12-11zM11823,5663l-24,33-24,22-61,36 0-12 46-45 38-30zM12447,5227l-10,26-7,14-30,13-17-6 18-31 23-11zM12180,5329l-2,9-11,20-13,1-3-6 4-11 14-16zM12437,5579l-6,22-14,13-27,13-15-6 17-32 19-13zM12783,5220l2,10-25,26-14,14-2-11 11-18 24-25zM11671,5169l-1,21-26,18-11-4-8-9 5-18 25-15zM11454,5273l2,7-17,16-21,8-6-6 15-23 12-4zM12476,5417l-18,26-35,32-18,0-10-3 24-36 21-8zM10974,5190l-12,24-50,40-27,5-22-9 38-26 35-25zM11616,5421l4,8-20,22-24,10-6-3 11-22 23-12zM11184,5604l3,11-39,23-34,17-4-21 30-25 20-10zM11402,5980l-1,16-39,50-33,26-5-12 22-28 22-26zM11326,5732l4,7-14,14-9,4-4-6 3-8 11-11zM11934,5262l4,7-12,16-8-1-6-3 1-13 10-8zM11126,5281l3,10-25,16-31,15-4-11 17-14 29-16zM11633,5295l-8,14-38,38-17,11-5-9 12-20 22-20zM11950,5270l-3,18-17,7-16,7-5-14 10-15 21-9zM11001,5295l3,21-16,12-17,10-10-14 7-13 23-18zM12076,5308l2,9-9,6-14,8-5-7 6-10 12-8zM12392,5639l-3,14-24,31-17,15-6-18 7-23 23-22zM11124,5343l1,10-21,24-22,8-9-3 2-24 30-24zM11040,5513l-9,15-22,14-31,9 2-15 19-15 18-9zM12495,5136l8,6-35,32-21,14-3-11 16-22 18-13zM11653,5517l-4,16-34,50-20,14-11-13 21-32 38-44zM12576,4341l-2,10-25,17-28,4-5-12 7-13 36-13zM13784,4008l-16,16-10,6-29,4 2-21 12-13 23-6zM13747,3662l-29,42-31,27-45,21-38,11 63-57 45-34zM13523,3665l0,17-31,23-20,7-28-8 34-29 25-16zM13066,4053l1,11-13,13-23,10-1-17 3-14 24-10zM13963,3654l-1,14-19,21-15,0-10-5 15-14 14-18zM12786,3897l2,11-27,28-31,10-4-11 6-14 30-23zM13426,3943l4,5-20,16-11,2-5-14 9-13 15-3zM13545,4065l-3,7-10,7-13-1-11-5 15-9 14-3zM13166,4320l-13,27-26,12-42,14-3-16 12-24 60-24zM13840,3522l-15,18-24,19-26,8-20-1 18-25 44-25zM13360,4272l-21,24-23,15-31,5-13-5 16-17 46-21zM13329,3654l-10,14-20,18-14,5-8-1 17-19 25-17zM12790,3852l-12,15-51,29-34,4 5-13 36-27 25-7zM13720,3860l-2,9-7,7-12-3-2-9 4-7 13-1zM12736,4145l-4,16-10,16-28,9-13-6 8-16 22-20zM13929,3533l3,5-13,14-13,9-7-4 8-14 13-11zM13277,4155l4,8-12,11-10,4-5-6 4-13 11-2zM13500,3707l-3,8-11,15-14,9 0-9-1-8 19-14zM12928,4083l-5,10-12,11-8-3-6-3 7-11 13-11zM13271,4094l-3,10-12,12-19-2-6-7 5-8 24-9zM13835,4103l2,5-23,28-23,15-1-11 18-26 14-10zM13791,3717l-11,15-25,27-22-4-12-4 11-26 31-10zM13590,4383l1,6-12,10-17,5-1-8 4-9 16-5zM13448,4030l-9,23-25,24-21,15-13-5 22-28 23-20zM13223,4005l-1,8-20,16-18,7 0-9 9-10 20-10zM13452,3924l-6,20-20,15-26,6-11-5 21-19 21-15zM12745,4071l8,7-31,22-27,0-13-5 26-21 25-8zM13278,3897l-7,26-23,19-16,6-9-8 9-23 21-21zM15057,2962l-6,0-5-4-2-8 5-2 8,0 1,7zM14711,3424l-10,1-8-20 4-22 12-3 9,18 3,22zM15292,3549l-17,0-16-22 4-15 14-11 11,5 3,30zM13955,3520l0-22 15-18 12-5 12,8-3,14-18,20zM14676,2873l-7-12 6-10 8-12 8,8 4,13-10,10zM15017,2864l-6-2-4-9 3-10 7-1 7,3 0,10zM14654,3008l9-10 17-8 12,5-3,8-7,10-24,3zM14719,3170l-19-3-34-26-16-28-10-27 48,32 27,33zM14593,3515l-1-19 4-22 7-10 14,0-5,24-9,17zM14547,3824l6-16 4-13 21-10 4,18 3,9-15,13zM14381,3145l-6-3-3-14 9-16 7,3 4,8-7,19zM14864,3020l-5,8-30-1-17-11 5-12 22-9 14,10zM14207,3458l-1-14 7-14 18-2 11,14-8,11-7,13zM14866,3057l-2-11 31-33 16,0 11,19-11,15-26,18zM14048,3393l-7-9-1-10 5-15 5,1 5,10-3,14zM13949,3180l10-9 6-3 13,1 4,8-9,4-17,1zM14214,3490l-4,9-15-1-17-5 6-10 8-11 18,4zM14587,2828l-1-17-2-17 18-15 7,7 4,21-9,20zM14356,3525l6-18 23-27 27-13 19,6-23,22-25,18zM14153,3537l-4-10 9-12 11-4 11,7-1,7-12,9zM14601,3490l-10-3-9-6-10-17 7-6 10,8 17,18zM14540,3060l0-10 6-14 14-11 7,2-4,9-11,18zM14506,3590l10-13 12-5 14,2 1,15-7,14-16-2zM14723,3140l-6-20 11-23 24-17 5,16-1,21-15,16zM14790,3799l-1-8 11-14 8-6 4,6-3,9-10,9zM14638,2860l-7-12 10-18 17-6 8,9-3,15-18,12zM14025,3989l-9-9 5-8 10-15 11,10 4,14-5,7zM14817,3127l-5,7-15,4-7-13-3-14 17-6 14,9zM15252,3349l-12-27 0-27 1-31 15,1 7,27 1,31zM14498,3036l-7,1-25-7-14-7 4-11 22,2 21,13zM14251,3912l6-16 18-14 23-3 6,9-19,26-27,7zM14447,3177l-21-8-24-17-10-37 12,0 16,4 20,32zM14123,3311l-17-11 10-22 7-12 20,3 5,15-14,21zM15273,2848l-4,1-13-14-5-19 5,2 9,5 9,15zM14978,3336l-13-3-10-16-5-19 6-3 9,10 15,19zM13981,3678l-11,1-7-16 2-11 16-6 11,5 1,17zM14538,3064l-12,2-19-9-12-13-4-9 20,6 14,8zM14344,3751l-14-3-14-5-15-14-2-6 23,7 15,9zM14483,3210l2-16 9-27 17-30 17,11-9,32-11,29zM15189,3855l-6-18 7-20 14-18 13,4 4,29-17,16zM14196,3905l-10-6-10-12 5-11 8-5 14,8 2,16zM14746,3992l4-9 10-9 7,5 0,7-3,11-10-1zM10096,5559l-12-17 11-32 19-11 12,21 7,16-23,18zM8882,5633l-21,6-46-18-17-19 16-7 33-1 41,28zM9665,5436l-20,9-42-8-18-19 4-15 36,3 49,21zM10468,5159l4-9 10-3 11,5-3,8-5,3-10,4zM10889,5593l-13-17 9-29 13-38 21,11 0,31-11,29zM9280,5568l-5-9-1-18 19-12 15,8-2,20-4,12zM8217,5375l-1-16 34-5 24,7 6,11-20,13-34-3zM9899,5223l19-18 13-12 26,9 4,20-20,13-20,4zM10954,5538l-11-16 10-16 6-14 20,2 6,15-11,23zM8416,5356l-18,10-19,0-8-16 10-22 23,4 10,11zM9887,5126l-2-6-2-17 18-8 5,7 0,14-2,11zM7935,5577l-11-14-12-18-10-36 15,1 11,11 12,35zM8804,5614l-16-32 3-35 7-25 19-12 0,38 1,42zM10736,5114l-12-25 6-22 5-17 18,4-1,17-7,36zM10268,5359l3-11 11-17 27-17 10,12-16,24-27,17zM10843,5049l-8-9-7-21 11-22 6,5 7,15-1,18zM9118,5588l1-13 27-16 26-10-1,8-20,28-18,5zM10499,5096l4-7 22-6 22,8 10,17-23,6-36,0zM10680,5262l-38,4-41,4-35-21 9-13 23-11 55,22zM10842,5230l-7,15-40,3-41-10 2-16 23-9 40,9zM7946,5376l-10,11-25-9-11-12 5-12 17-4 17,16zM8780,5606l-3-7 22-18 22-2 9,4-13,18-20,5zM8828,5617l8-16 30-18 19-8 12,11-16,14-31,14zM9902,5668l-15-7-8-15-2-25 12-2 12,12 8,25zM9167,5446l-22,0-16-30-3-20 8-2 20,11 8,20zM9302,5037l-18-11-3-37 1-19 10-14 20,36-2,27zM8691,5090l-13,3-14-8-12-25 16-3 14,6 8,15zM9275,5640l-16-9-4-20 10-22 13,0 11,9 3,33zM8918,5418l0-12 9-24 11-14 13,12 0,16-15,17zM10091,5234l-26-18-10-12 0-21 9-14 25,18 5,23zM10082,5323l-2-11 9-8 21-1-1,14-4,9-11,8zM9904,5186l-22-9-18-39 9-35 12-8 18,47 9,35zM10581,5113l7-5 7-4 13,4-2,8-3,4-14,2zM8644,5122l-6-9 8-29 17-29 6,9 6,27-14,25zM8270,5493l2-12 17-13 16-8 8,3-10,17-16,9zM8876,5138l1-20 25-19 28-4 1,15-13,24-18,8zM10717,5265l-16,1-40-14-12-15 12-13 25,4 25,10zM8857,5477l-9-1-4-7 5-11 6-3 5,10 2,10zM9773,5665l-4-13 31-28 32-10 14,17-16,20-45,24zM10801,5591l11-7 28-5 19,2-2,10-18,9-20-1zM8858,5056l-20,7-19-7-15-10 2-11 19-3 18,10zM10020,5050l-3,10-67-16-41-21 18-11 37,3 48,10zM9201,5314l-15-1-25-52 2-27 12,1 18,14 18,40zM10497,5283l12-14 20-5 13,7 1,17-14,9-21-2zM9981,4999l-7-4-6-24 9-9 6,4 9,15-5,10zM9120,5351l14-27 38-20 33-3 10,25-35,18-25,13zM10822,5670l-10,1-11-27-3-26 18-1 17,18 8,30zM10369,4928l-11,7-26,1-29-18 9-15 27,5 17,6zM9695,5441l-4-26 28-56 22-19 15,2-13,45-29,41zM9719,5221l-7,9-32,0-12-13 1-13 20-3 30,8zM10321,5618l-9,8-39-11-27-20-3-13 36,2 37,19zM10807,5434l-19-2-9-16-6-15 15-6 18,8 5,11zM9054,5020l-11,15-10,0-12-12-1-8 9-14 15,6zM9785,5217l-6,3-14-4-10-9 6-4 10-2 14,10zM8822,5609l-3-14 3-15 8-15 11,9 3,11-13,18zM10918,5445l-1-9 7-13 11-8 3,9-1,13-10,10zM10884,5548l7-16 16-23 29-20 8,10-17,32-19,16zM8499,5077l19-18 32-4 21,4-2,13-19,9-38,1zM8873,2557l-7-10 0-16 11-11 12-2 5,15-6,21zM9222,2748l-3,18-35-6-27-17 5-18 25-5 43,18zM11738,3553l-23-15-4-25 3-17 18,0 8,20 3,26zM9759,2735l-17-12 1-26 20-35 11,7 1,19-3,44zM10622,3219l-27,7-44-3-22-15-2-14 46-4 28,8zM11226,2803l-3-12 7-18 4-7 10-1 1,12-9,20zM10536,2980l-8-4-10-4 0-12 5-5 6,3 11,14zM9245,2732l-3-6 2-8 5-2 6,0 4,6-3,10zM9976,2699l-7-19-1-29 14-31 9,13 6,29-6,18zM10714,2717l-5,14-18,3-13-19-2-14 23-9 8,9zM9514,2972l-32,14-32-8-20-6-2-19 48-13 34,19zM7996,3040l-3-14 14-29 22-16 4,10 1,16-19,20zM10411,3032l-22,11-60-35-26-25 18-5 33-1 40,31zM10032,2943l-15,0-8-11 1-16 9-6 7,7 7,18zM9427,2756l-15-23 9-29 16-12 12,8 7,23-6,18zM8107,2499l-7-19 10-26 30-7 12,17 0,16-21,24zM9677,2481l-17,7-22-22-2-11 5-19 18,6 17,18zM9691,2403l-11,16-26,3-16-17 6-16 17-11 28,13zM8280,2433l4-9 11-6 11,4 5,7-14,9-13,0zM10623,3470l9-12 22-12 19,6 2,9-22,12-17,6zM9073,3033l5-6 10-3 8,1 2,10-4,12-12-4zM10919,2807l-45-18-19-28-28-40 24-4 30,12 22,35zM10553,2868l-26,2-21-20 4-12 7-12 24,2 9,25zM8261,2590l-7-15 0-9 11-6 7,6 2,13-5,5zM8526,2365l-14,17-31,3-11-18-1-17 30-7 20,3zM8731,2393l-26,15-45-15-17-15-2-26 30-4 54,18zM11176,3221l13-11 28-14 15,8-4,21-13,9-25,5zM11656,3216l10-22 61-33 22,5 7,18-31,28-35,12zM9307,2540l-28-1-18-26-19-22 22-10 22,9 29,39zM9319,2518l-21,11-39-15-19-22 3-17 27-6 42,36zM9904,2621l3-15 24-29 53-17 14,7-30,35-47,21zM10005,2954l-10-11 1-30 17-25 10-4 3,28-7,27zM9471,2615l5-31 35-41 24-10 11,5-24,45-19,18zM10096,2381l-23-8 8-20 2-17 26,6 14,13-11,17zM8073,2671l-16-18 4-30 15-25 13,13 8,15-7,36zM10674,3321l7-16 16-19 19,0 7,9 0,13-25,8zM9751,2625l-1,13-13-2-13-8 2-13 11-5 13,7zM9878,2541l-11-20 64-14 40,11-12,24-25,11-43,4zM8365,2403l-13,1-12-7-3-9 5-11 11-2 12,15zM3299,3276l-14,16-30-10-14-14 0-22 24,4 28,13zM3572,3522l-32,9-15-20-23-36 12-9 46,7 17,17zM3789,3162l-9,13-19,0-16-12 0-8 19-9 17,8zM4250,3755l19-40 20-23 46-8 10,22-20,19-46,31zM3796,4001l-11-20-7-20 5-30 11,3 15,14 1,33zM4047,3422l-6-36 18-34 13,2 31,4-14,26-18,21zM3668,3598l14-38 53-38 47-3-6,30-24,29-46,11zM3460,3982l-29,18-35-1-19-23 0-20 36-5 26,18zM3715,4023l-4,18-44-21-8-20-2-13 36,3 20,20zM4303,4092l-8-5 3-16 10-12 9,6 7,8-6,13zM4115,3509l-12-40 17-55 36-35 20,7-18,60-12,42zM3413,3266l-32-4-14-25-28-43 17-10 25,21 23,38zM4277,3596l-25,8-39-20-17-34 3-34 51,28 41,38zM3275,3499l0-31 24-31 25,1 17,9-3,22-34,30zM4332,3794l6-14 22-19 36-7 1,27-15,18-25,4zM3231,4173l5-13 42-19 19,3-6,20-21,11-34,7zM4399,3219l5-18 11-21 22-8 9,15-5,24-23,11zM4304,3922l4-23 8-18 25-18 6,10 1,27-24,14zM3849,3914l-23,10-35-33-22-28 17-27 36,18 17,30zM3499,3467l-32-18-19-43-7-31 18-11 19,31 26,41zM4047,3677l-27,5-69,12-48-15-7-20 60-11 60,3zM3863,3419l-16-12-4-12 1-20 12-1 16,18-4,11zM3499,4048l-17-14 16-21 35-10 8,8-8,26-16,12zM3424,4058l-13-31-7-38 13-14 12-5 10,23-4,31zM4661,3552l-16,15-23-87 11-28 16-13 21,59 2,27zM4244,3695l6-20 35-44 24-3 16,2-8,29-51,40zM4069,3897l-1-27 1-25 27-9 14,9 3,30-14,11zM4167,3351l-18-10 2-53 17-19 25,3 0,42-9,27zM3867,3255l22-33 41-17 34-3 0,16-29,24-36,8zM4261,3378l7-25 36-35 55-29-7,39-15,32-65,29zM4425,3305l-24,1-60-15-48-35 27-15 36,2 53,25zM3637,3463l-25,0-29-57 0-28 23,0 24,22 7,41zM3661,3316l-19,11-24-6-36-14 18-14 28-2 28,13zM3474,3736l-12,14-51-34 3-19-2-27 46,17 20,30zM3957,3303l-34,0-29-25-26-34 2-19 54,26 25,27zM4585,4026l-10,7-28-12-8-10 4-7 20,0 21,13zM3456,4094l15-19 18-6 21-2 11,15-27,14-18,8zM4178,3305l-14-33-5-34 14-36 26,18 8,19 6,44zM3526,4213l-17-29 1-52 11-39 33,7 0,34-6,69zM4127,4199l8-29 21-14 29-18 12,12-16,24-30,14zM4096,3867l-3-5 3-18 20-18 4,7-1,23-11,8zM4582,3247l-25-1-14-21-6-18 15-2 16,7 11,21zM3452,3412l-9-11 22-25 16-4 7,10-1,11-18,18zM3416,3492l-20-4-10-29 16-28 24-8 11,26 9,28zM4227,4092l5-13 29-16 25,1 1,9-27,21-28,4zM4010,3941l-15,2-16-2-15-11 8-7 13-1 14,5zM4555,4135l-1-16 20-7 11,13 8,12-14,9-17,4zM3288,3319l-26-10-21-31-5-33 11-23 31,26 15,36zM4570,3205l-2-9 25-23 18-6 12,12-9,16-27,14zM4571,4028l-17,2-13-30-4-19 18-1 17,12 7,20zM4297,3589l6-11 13-5 15-4 4,15-11,10-16,5zM4465,4090l-11-1-5-15 0-13 3-8 11,9 9,15zM4382,4036l32-39 35-18 56-18 24,9-45,42-80,35zM4287,3559l2-13 27-23 27,3 5,11-12,16-37,11zM4036,3348l-3-16 43-34 35-2 8,24-27,28-35,10zM3750,4193l21-41 38-14 40-11 2,28-32,21-35,11zM3908,3967l-14,4-34-13-16-23 0-15 26,6 29,22zM3739,3643l-22-4 0-31 18-22 13,3 18,23-11,27zM3653,3818l-30,2-38-1-42-17 15-22 34,1 52,14zM4659,3394l9-13 34-15 23,10 6,21-27,19-27-3zM3983,4058l-11,3-7-14 3-14 7-3 14,6 7,14zM4395,3894l-11-12-10-32 14-33 8-3 14,40-2,31zM3929,4041l-31-13-11-34-6-31 12-31 24,39 14,50zM3565,3632l-9-23 18-29 13-6 20,25-2,27-19,3zM4662,3927l-19-10-1-40 1-31 21,5 25,26-15,28zM3976,3595l-19,6-28-13-22-19 8-4 33,2 18,13zM3857,3631l-20-6 1-39 29-44 17,20 8,23-6,45zM3650,3172l-10-5-8-8 4-14 5-3 13,9 7,17zM3542,3681l-18,12-11,0-35-15 7-16 27-4 27,13zM4165,3385l-17-4-12-6 0-18 15-11 14,13 8,15zM4365,4196l-25,17-21-2-30-23 11-16 21-11 33,14zM4089,4186l8-14 54-9 37,14 8,16-21,11-60,3zM3973,3875l-14-1-21-5-13-12 3-11 14,0 20,10zM3877,3291l-21-13 3-55 4-21 26-5 3,41 0,57zM3724,3394l-17,7-37-4-21-12 10-12 16-4 37,17zM3614,2575l-5-35 28-41 17,6 17,12 4,15-46,48zM4696,2534l-7,5-26-5-30-13 2-12 36,4 28,13zM4220,2548l1-13 24-3 10,8 2,12-9,7-17-2zM3791,2377l19-26 38,4 31,6 3,18-30,27-40-3zM4079,3081l-22-15 1-35 20-5 21-8-1,32 3,28zM4732,2589l-22-6-34-9-7-21 0-28 30,12 32,26zM3709,2597l-15,1-5-18 0-9 12-5 9,5 3,17zM3901,3067l-21,21-32,10-60-24 19-17 44-14 38,4zM4226,2626l-27-5-27-40-14-30 8-16 28,18 27,48zM4571,2924l-13,0-23-1-5-24 7-13 21-6 16,13zM4441,2627l-32-16-19-35-10-32 19-9 18,12 19,44zM3802,2420l-9-7 2-12 10-7 14,6-1,10-9,16zM4670,2932l-14-6-9-23 10-10 7-7 17,13-6,20zM3714,2976l-13-4 9-29 11-20 22,15 7,11-14,29zM4103,2791l-25,11-26,0-15-23-2-12 24-4 25,9zM3543,2705l16-19 48-17 51,6-10,23-52,19-43,1zM4668,2789l-4-19 19-14 16,1 8,9-6,18-13,15zM4433,2552l-32,12-35-2-38-24 7-13 46-5 26,3zM4516,3092l-15-7 8-25 10-16 20,8 13,18-10,19zM4007,2841l-6-12 21-9 30-1 2,10-16,16-30,2zM4335,2505l-43-6-31-37-23-35 28-6 29,8 26,46zM3966,2562l-3,9-20,4-12-4 3-21 13-9 13,7zM4012,2570l-16,0-9-15-12-22 11-1 18,9 14,23zM3870,2595l-34-6-42-26-32-42 30-4 32,12 43,37zM3988,3145l-9-13-2-19 6-13 11-2 8,23-2,12zM4740,2469l-16,13-18-6-9-6 2-12 13-13 22,10zM4466,2515l4-26 20-27 21-9 20,19-14,21-16,23zM3981,2478l-16,3-11-9-12-15 13-9 14,6 6,7zM3947,2774l-7,9-30-26-9-12 2-12 27,7 11,21zM4240,2675l-29-16-17-28-4-39 15-15 20,28 27,67zM3656,3132l-9-13 1-9 6-13 8-2 7,19-3,10zM4285,3014l-15,12-30-21-11-21 2-13 30,12 23,22zM3870,3068l-20,11-16-19-29-28 25-1 12-3 33,31zM4665,2963l2-19 24-17 27-11-1,8-15,27-27,12zM3629,3052l-28,13-50-21-16-21-8-27 46,14 50,27zM4483,2964l-24-18 3-51 14-18 29-11 0,39-4,40zM4328,2698l-14-3-21-6-5-16 1-13 20,1 17,15zM3862,2841l5-21 4-17 15-13 9,2-1,22-12,20zM4482,2892l9-29 23-39 42-33 6,15-24,44-20,35zM4439,2950l-4-17 11-23 16-3 15,17 3,10-15,18zM3934,2457l-11-16-16-32 9-18 7-5 15,15 10,26zM3728,2914l-16,12-14-4-14-8 5-18 20-1 7,4zM4563,2843l-1-12 25-26 20-4 5,13-15,18-9,11zM4182,3092l-4-15 26-60 16-13 26-2-14,43-12,35zM4572,3094l-12,1-34-2-8-12 4-9 7-6 33,14zM4014,3079l-13,5-10,1-13-3-3-12 18-4 14,5zM4738,2511l-24,9-42-31 0-22 9-11 33,2 25,39zM3592,2920l0-10 46-14 29,6-3,18-28,8-30,5z" fill="#B2D144"/>
<path transform="scale(.1)" d="M4501,4666l-2-17 6-16 14-33 4,9-1,11-13,38zM5299,5137l-7-6 12-45 17-32 6,8 5,16-12,42zM4990,5240l-5-14 4-23 13-23 2,7-2,24-6,23zM4757,4973l2-25 6-25 12-33 12-5-11,42-14,42zM4368,4831l-7-27 1-18 18-40 6,14 4,21-7,34zM4305,4591l-1-21 9-28 10-20 9-11-7,41-11,27zM5215,5152l-6-22 6-52 9-9 11-14-5,48-8,30zM5195,4865l-7-12 13-39 18-36 13,0-8,49-18,27zM4408,4553l1-19 3-17 8-16 10-4 0,25-9,19zM4411,4676l-7,0 4-29 12-30 6-5-4,38-4,18zM4622,4716l-1-18 13-44 13-20 17-1-9,38-12,35zM4138,4599l-4-20 11-50 31-48 19-5-21,68-21,47zM4442,4745l1-34 10-55 16-44 5,24 3,14-17,68zM4390,4876l-8-6 15-65 27-45 7,10-7,35-22,59zM4209,4622l-5-10 4-24 8-9 3,1 3,11-9,26zM5293,5112l-2-23 10-33 8-19 7,1-2,21-9,33zM5278,4986l-5-5 9-33 12-23 5,16 2,16-13,23zM4910,5030l-1-21 8-28 20-28 7,6 2,19-15,33zM5109,5174l-2-16 19-56 20-26 6,6-5,36-18,35zM4521,4868l1-36 20-69 15-19 18-16-7,44-25,71zM5005,4877l9-28 25-65 15-18 10,5-19,47-19,32zM5000,5216l8-48 21-53 18-23 8,7-13,43-19,41zM4307,4525l5-24 4-25 19-39 6,3-9,31-11,29zM6358,4817l-7,1-11-10-7-19 14-8 12,8 12,21zM6284,4924l-13-6-8-11-11-20 13,0 9,6 10,18zM6670,4930l2-18 14-9 12,10 2,6-7,11-8,4zM6495,5757l-10-20 8-14 17-6 24,13-1,17-20,12zM6784,6257l10-16 27-10 33,14 2,13-37,8-21-3zM6078,6469l-22-18-32-47-11-51 7-6 34,39 20,47zM6266,5757l-3,8-13,3-7-11-3-9 16-3 11,6zM3516,4732l-15-10-20-29-5-19 17,1 16,10 9,23zM3525,4276l-13-6-13-15-3-13 4-5 16,10 3,11zM3732,5665l-26-37-24-51-9-47 11,1 24,29 16,60zM3596,4339l-36-19-27-38-16-48 14-6 31,36 17,35zM3663,4966l-13-6-17-16-2-24 14-11 14,26 4,20zM3355,4697l-22-10-19-28-4-16-1-21 24,21 18,32zM4058,6167l-28-23-20-34-12-25 16-13 29,35 15,39zM3693,5525l-19-14-16-15-14-42 17,4 24,19 9,22zM3312,4483l-21-11-34-39-5-17 9-8 20,14 22,32zM3492,4341l-12-5-10-11-7-17 5-8 10,11 13,21zM3413,4912l-9-3-18-31 0-9 1-20 26,29 5,20zM3788,5626l-14-2-11-15-2-22 13,2 13,6 3,14zM3382,4462l-10-3-11-21-5-17 4-6 10,14 10,22zM3895,5754l-16-3-18-27-13-42 12-8 24,33 17,30zM3416,4520l-23-14-14-32-5-32 12,1 23,25 11,43zM3787,5206l-18-12-19-39-9-32 14,1 15,9 26,59zM3574,5357l-17-12-12-22 0-23 7-3 17,12 6,34zM3318,4808l-10,2-32-46 1-19-2-17 29,38 18,30zM4356,5719l-16-5-10-24-1-23 6-8 20,20 8,21zM4254,5337l-17-14-16-26-8-19 16,4 16,15 8,19zM4349,5584l-14,1-7-13-7-24 11,0 15,12 6,18zM4337,5708l-35-23-38-52-9-49 17-11 21,29 35,65zM4403,5954l-22-29-20-37 4-20 6-16 29,45 3,29zM4321,5438l-12-1-14-17-9-32 18,2 16,18 7,18zM4534,5726l-13-3-26-29-1-30 6-5 21,1 14,30zM4542,5768l-14-11-11-19-1-11-1-8 18,18 9,14zM4128,5326l-15,2-7-10-4-20 10-2 11,5 9,19zM4179,5313l-23-16-17-24-18-38 14-8 35,31 17,26zM4405,5595l-19-11-12-15-10-22 9,1 17,15 15,20zM4107,5074l-8-1-14-12 0-8 10-8 9,7 7,11zM4413,5551l-11-4-20-46-9-33 7-5 20,29 15,42zM4236,5288l-17-12-10-15 0-10 9-6 11,14 5,14zM4047,4781l-11-10-15-27 0-12 7-7 13,25 9,16zM4000,5125l-16-16-16-20-11-33 9-4 22,18 16,28zM3907,4789l-25-34-25-46-4-52 14-6 25,43 15,53zM4260,5584l-27-9-8-22-4-24 11-16 28,19 4,26zM4096,5165l-19-11-13-11-7-26 7-13 24,16 12,28zM4075,5202l-17,7-35-36-4-29 8-6 31,18 18,27zM3985,4665l-16,0-15-28 1-29 16-5 17,23 7,25zM4154,5244l-14,0-28-42-5-45 20,1 21,30 9,30zM3918,4822l-19-9-20-45-17-42 24-2 24,33 10,41zM3876,4683l-38-38-33-44-2-29 7-25 39,53 10,27zM3829,4705l-13-1-11-26-10-26 14,2 12,11 14,32zM4167,5331l-25-17-14-15-15-33 25,2 22,18 4,21zM4594,5758l-23-8-30-46-4-41 15-8 25,30 27,55zM5047,3125l-7,1-18-13-6-12 5-6 14,5 12,18zM3317,3240l-4,8-10-2-5-8 1-11 8-2 14,6zM4470,2556l-12,3-15-8-6-21 8-10 11,4 15,14zM4110,2813l-15-19 15-55 17-25 22,0-7,33-16,43zM4835,3105l-25-7-6-19-8-26 20-7 17,17 9,19zM4822,2960l15-13 51-10 18,5 9,11-32,14-36,1zM5659,2551l1-22 28-8 23,9 7,14-25,12-21,5zM5808,2454l-23-6-25-17-21-17 11-5 18,2 29,26zM4629,4035l-3-16-5-23 12-10 16-7 1,22-3,22zM3810,3795l6-10 23-11 14-1 9,13-9,12-37,11zM4452,3350l-25,4-34-49-10-39 15-6 22,2 27,58zM5170,4058l5-11 22-4 25-4 5,12-27,14-16,1zM4535,3595l-1-21 11-19 24,3 14,11-14,23-22,7zM4813,4034l0-14 6-22 16-29 7,17 1,13-18,29zM4252,3512l18-22 27-8 31-1 2,10-25,17-31,6zM4017,3013l-2-16 53-12 47-4 1,23-28,12-67,9zM3446,3635l11-11 41-8 23,5 16,11-43,12-36,1zM5345,2738l-2-10 8-16 8-3 11,1-4,10-14,16zM4321,4117l-20-2-32-9-27-15 18-3 23,2 32,13zM5476,3904l-11-1-2-9-1-8 10-5 6,10 3,13zM4328,3094l3-15 21-22 32-7 4,10-10,18-41,26zM4949,3983l16-18 23-8 43,2 0,16-29,14-39,5zM5576,3677l-10,1-19-4-12-21 12-13 25,7 11,16zM4415,4098l16-9 21-8 25,10-2,11-15,10-31-4zM5934,3218l11-23 17-16 25-8 4,14-21,20-25,12zM5174,3060l-7-2-1-34 3-25 5,2 6,24 1,27zM5781,3887l-7-1-10-26 0-13 5-4 8,10 8,25zM5412,3683l-13-7 7-45 8-27 13,4 5,34-8,39zM4437,2600l17-22 58-18 58-9-2,26-38,23-52,2zM4400,3333l-11-5 0-12 3-9 5-7 9,15-3,10zM3417,3917l-20-2-4-15 10-13 13-6 10,10 6,15zM5270,2628l-8-24-2-48 22-42 17,1 3,60-12,29zM5303,2768l-21,5-23-2-5-20 5-12 19,4 16,4zM3529,3545l-10-6-17-39 0-23 9-5 14,21 11,29zM5096,3951l-7-26 11-21 24-27 11,0 7,23-35,48zM5828,2906l-9,0-10-25-2-9 10-2 7,14 4,16zM4374,4135l-13,5-4-11-2-7 8-7 11,3 1,9zM4623,4140l9-11 29-6 45,0-9,10-30,9-18,0zM4966,3018l-8-12 5-38 8-20 10-3 3,30-3,25zM4057,4187l2-23 45-18 58-6 13,13-34,25-67,20zM3957,3599l-30-24-15-27-10-48 13-12 30,40 17,38zM4055,3744l-6-5 3-23 11-7 7,1 2,11-5,13zM4741,3782l-5-25 14-48 20-8 18-1-7,42-23,27zM5053,2622l-14,8-38-14-7-14 4-13 17-4 31,21zM4294,4197l-7-9-2-6 2-11 8-2 6,11-2,8zM5246,3086l-1-9 12-28 25-21 17-7-15,37-23,29zM5614,2948l-5,2-5-31 4-13 5-5 9,25 0,18zM4636,3310l-9-10-10-19 0-15 8-4 11,21 4,19zM3770,2991l-14-18-1-44 10-18 18,12 7,22-8,35zM4964,3593l-9,1-8-3-10-10 8-7 9-1 9,12zM3977,2935l-10-7-6-13 1-10 7-3 8,13 3,9zM5027,2635l-12-10 9-21 14-7 10,7 3,20-13,13zM5597,3402l2-18 11-52 17-40 15,8-2,33-21,50zM4048,4202l0-19 21-21 34-15-4,17-8,20-25,16zM5783,4190l-25,5-53-13-47-30 25-8 43,6 37,18zM5008,3335l-5-13 5-10 7-7 8,5 5,6-7,12zM3286,3614l8-15 31-22 33-10 5,17-18,22-36,12zM5324,3284l11-20 24-14 25,3 1,19-20,21-23,3zM5434,3002l-5,2-7-2-5-9 6-5 5,2 5,4zM5546,2548l-12,2-16-4-17-20 9-3 15-2 23,18zM4609,2997l-7-4-3-5 3-15 7,3 7,5 3,8zM5068,2887l-15-1-5-17 2-12 14-7 11,15 4,13zM4124,3374l-16-26-1-21 18-18 13,8 10,19-10,26zM4174,2609l2-13 18-24 17-12-1,11-1,8-18,21zM3771,2568l-24-15 3-31 7-14 21,1 9,9-6,35zM5970,3335l-6,4-31-14-13-10 9-9 17,2 20,10zM5928,2489l-11-5 4-22 11-24 8,4 5,21-11,20zM4383,3427l-23,1-28-11-24-15 9-8 25,6 31,14zM3559,3918l10-23 19-13 46-12 10,17-38,23-47,18zM4656,4118l-11,12-31,0-42-3 2-20 24-1 33,1zM5858,4142l-4-25-2-23 7-18 9,7 3,22-3,23zM3928,3243l-6,8-16-13 3-10 6-8 11-1 7,10zM4286,3356l-13,6-45-21-14-13-9-10 24-1 43,21zM3805,2950l-2-27 19-31 17-15 14,10 2,16-27,43zM3353,3142l-16-13-21-20-11-14 10-16 16,11 19,28zM5469,3538l-1-18 42-33 38-10 38-5-62,52-26,14zM5776,3200l-13-4-13-31 3-21 8-18 13,26 8,36zM5830,2808l-10,3-27-20-6-12 7-10 21-1 11,17zM3611,2784l-9-7-1-13 8-5 7,0 11,6-5,15zM3807,3292l-11,7-10-8-9-9 12-7 10,1 8,8zM4461,3030l10-28 17-16 33-24 2,17-11,22-35,23zM4866,3929l-11-21 12-59 30-51 16,14-5,38-19,60zM3918,3790l-10,2-5-17 1-11 14-5 6,12 2,10zM5363,3377l-37,10-40-3-58-14 10-14 54-14 32,13zM4191,2981l-15,2-25-21-17-23 5-9 23,13 23,23zM4937,2757l2-19 20-6 24-2 2,20-15,14-17,11zM5402,3187l-14-2-26-23-10-17 8-10 13,4 30,27zM4701,3221l4-8 35-23 28-6 16,7-28,21-42,20zM5648,2813l3-7 26-10 8,0 9,6-19,13-20,3zM4035,4011l-11-8-9-39 10-11 8-8 14,36-2,15zM5635,2974l-1-20 22-25 19,2 10,1-17,33-24,11zM5166,2646l2-12 14-5 10-2 8,12-12,13-7,4zM5965,4063l-10-14 1-30 6-18 12-1 4,27 0,19zM4128,3624l-1,13-34,0-12-13-13-18 25-12 28,11zM4166,3922l-8,1-13-14-10-15 10,0 16,3 12,16zM4615,3276l12-28 15-40 39-36 15,9-8,30-33,39zM4527,4147l3-8 18-13 16-5 1,9-13,10-17,10zM4075,3413l-4-19 20-39 25-15 5,4-6,35-21,22zM4126,3008l-21-20-6-11-5-36 20,2 18,20-2,27zM5770,4167l-17-19-18-23-11-30 11-13 12,16 24,40zM5371,3375l27-12 21-6 47,1 4,19-41,12-42-5zM3882,4103l-13-4-16-40 0-39 16,14 16,20 6,30zM6605,3456l3-15 14-12 11,5 9,8-11,13-15,9zM6230,2401l-7,4-10,0-9-8 1-8 14,0 7,5zM6784,3242l-3-4 3-11 11-5 8,3-6,10-5,7zM6733,3917l-16,18-19-4-13-12 3-15 15-13 24,10zM7085,3176l-25,17-28,4-17-13 1-21 21-8 33,9zM7014,2500l-9,5-16-1-22-6 4-10 16-8 14,4zM7461,2963l-14,10-18,1-8-16 11-15 16-6 11,11zM7266,3542l-10-14 3-10 6-15 10,3 0,9-3,17zM5980,2887l-39-15-41-39-4-16-2-29 55,37 29,38zM6995,5281l5-11 21-4 17,5 6,14-18,6-22,2zM6884,4603l-17,6-56,1-26-26 0-17 36,1 41,7zM6868,5122l7-9 6-5 9,11 2,7-4,5-13-1zM6703,4632l10-13 23-10 22,1-3,18-11,9-30,5zM6781,4573l5-22 30-12 26-4 2,10-21,25-21,6zM6441,4861l-11-13 15-26 17-9 9,9-2,18-14,21zM6842,5449l-19,17-55-13-31-16 14-20 18-4 57,14zM6864,4577l-7,2-37-23-7-20 7-10 23,5 32,26zM6916,5337l-6,10-21-2-20-10 6-11 21,0 18,8zM7089,4570l-9,6-40-27-17-27 9-11 29,1 29,38zM7218,4650l-40,10-43-6-48-25 21-16 42,0 38,12zM7133,5199l-16,4-16-6-3-15 9-12 10,5 13,14zM7048,4921l-7-16 13-17 16-9 5,13 5,10-20,14zM7257,5513l-7-7-3-28 7-12 6,1 4,14 2,20zM6616,5368l-3-13 18-36 19-12 19,7-6,27-25,25zM6687,5331l3-19 25-10 26,4-2,18-2,18-38,9zM6903,5237l2-28 23-19 24-15 9,18-10,29-19,5zM6745,5473l11-21 19-8 39,8 7,11-19,15-50,6zM6564,4784l3-20 17-13 24,2 11,10-21,19-14,4zM6548,5036l-7,8-14,5-14-19 7-12 17,4 17,7zM7288,4967l-16,7-33-24-18-14 1-19 37,16 26,17zM6908,4537l-2-24 18-10 31-5 16,11-27,20-34,20zM6810,5341l-23,6-24-8-20-24 12-8 22-4 26,23zM6617,4751l-12-15-10-25 9-14 9-3 11,15-3,26zM6460,4928l-17,5-15-19-3-13 17-16 10,10 13,17zM6733,4665l-12,1-22-21-3-30 17-8 21,18 17,27zM6561,5377l-7,5-13-25 0-20 8,0 13,16 3,19zM7172,5331l-26,5-18-14-17-23 0-18 32,6 24,23zM6969,4605l-15-16-4-15-2-32 21,2 9,20-2,35zM7285,4636l-14,0-17-1-15-14 3-9 19,4 14,7zM6772,5386l-16-15-6-23 3-15 9-5 12,7 2,28zM6487,5465l-16,3-25-4-43-19 7-17 36,4 30,12zM7547,6322l-6-24-8-26 16-15 24,2 3,16-10,34zM6905,6152l-7-13 3-27 11-29 8,10 5,27-10,20zM7212,6347l-4-22 4-35 14-23 12,8 2,29-14,41zM7638,6064l-16-4-16-27 4-45 12,5 26,29 3,37zM7312,6385l-7-6-5-25 7-17 15-1 1,17 0,26zM6845,6286l-12-10-14-30-8-37 18,1 10,14 10,33zM7233,5739l-17-15 1-45 10-54 14,20 14,30-5,59zM6989,6448l-24-10-1-51 6-28 26,20 16,18-4,39zM6564,5568l-16-8-10-32-2-38 11,9 14,19 7,43zM6550,6373l-15-5-10-12 6-14 11-8 19,12-3,14zM6821,6055l-18-14-2-15 11-23 18,7 16,9-3,27zM6436,6055l-14-10 2-45 9-10 16,0 8,21-3,28zM15289,2751l-28-6-35-12-11-12 10-8 29,1 28,22zM14704,3456l-4-15 12-13 12,1 12,11-10,13-13,8zM14597,3746l-1-6 6-9 14-4 7,11-3,15-16,3zM14822,3946l3-9 5,1 7,3 1,5-4,5-10,0zM14340,3442l-4,6-11-1-1-4-3-6 10-2 7,0zM14344,3952l-4-5 11-8 9,1 1,4-3,11-11,0zM14085,2739l-14,5-24-28 0-12 9-6 16,6 9,18zM15281,3991l3-3 9-2 4,3 4,5-9,7-5-2zM8156,5919l5-30 25-17 28-14 22,20-29,29-28,6zM9323,5684l-15-4 0-18 7-26 15,11 3,12-1,28zM8819,6045l-20-12-5-16 6-19 23-9 11,24 2,18zM8454,5925l-22,8-30,2-17-12 1-11 26-10 19,5zM8933,6102l-11-25 0-21 10-36 8-9 10,33-5,33zM8878,5866l-7-11 2-36 8-7 19-7 3,29-5,14zM8563,5809l-24-1-10-15-7-12 4-15 26,9 8,17zM8088,5794l-11-1 1-35 12-6 5-2 8,12-8,26zM9291,6069l-8,9-14-10-7-13 8-6 6-1 21,11zM9089,5562l-1-20 8-21 18-17 19-1-6,22-21,37zM8642,5550l-8,0-9-39 0-26 12-10 12,34 3,41zM9165,5541l-10,4-47-11-23-16 12-22 17,0 46,24zM8786,5882l-2-11 21-16 21-3 0,8 1,18-23,13zM8696,5656l-17-4-11-38 5-43 7-15 15,37 12,52zM8138,5692l-12,1-10-26-7-29 12-1 18,18 5,32zM8780,5878l-4,5-21,3-11-10 3-14 14-9 18,1zM8567,5638l-18,19-40-6-42-4 3-20 35-12 45,3zM8360,5879l-2,7-18-2-13-6-3-14 20-2 11,5zM8469,5689l-7-15 7-28 11-13 9,9 6,13-12,22zM8625,5829l-12-5-5-7-3-11 11-1 8,3 2,10z" fill="#CD0000"/>
<path transform="scale(.1)" d="M4846,4724l-3-24 6-29 5-11 11,2 4,14-10,28zM4983,4643l-1-19 16-47 15-32 2,7-2,36-14,34zM5069,4510l-4-10 7-35 11-26 9-4-2,24-11,32zM4973,5167l-2-20 9-48 16-30 4,16-4,34-18,54zM5025,4662l-8-11 28-71 22-35 19-23-17,70-29,58zM4641,4782l-6-20 6-29 7-23 10,3 6,31-9,20zM5016,5198l-7-5 10-37 14-15 13,3-4,22-15,32zM4844,4655l-2-16 3-17 16-16 8-3-7,24-5,19zM4435,4911l1-16 10-29 11-17 12,7-6,25-12,21zM5130,5019l-7-2 15-60 10-23 8-4-3,31-10,43zM4527,5010l-2-10 17-49 11-15 10-5-10,44-14,30zM4878,4652l1-22 5-27 16-32 9,6-7,28-15,40zM5109,4976l1-31 11-26 11-19 21-5-13,35-18,39zM5080,5108l-8-7 8-32 11-10 10-7 0,26-9,28zM5049,5082l0-23 7-41 6-9 7,4 3,14-13,41zM4505,4794l-4-13 8-27 20-31 11-6-7,37-17,36zM5005,5008l-1-16 4-15 9-13 9-8-1,24-14,24zM4924,5231l4-24 12-36 18-29 15-5-11,37-21,46zM5203,4947l-2-22 10-44 13-15 8,6 2,21-17,38zM5229,4510l-2-8 6-34 7-18 11,2 2,23-12,33zM4495,4916l-3-29 5-37 15-40 2,23-2,30-8,28zM4952,4619l-4-12 4-26 9-17 9,0 1,16-11,34zM4724,4964l0-26 12-55 17-24 13-7-6,44-22,51zM5170,5151l-3-9 11-30 17-26 4,3-7,25-8,20zM4607,5018l-5-27 0-23 22-42 12,0-2,48-11,25zM5270,5211l-3-19 6-30 13-22 10-4-5,30-9,21zM4176,4565l-2-9 6-36 19-35 8-8-7,46-8,26zM5011,4557l-14-1 19-72 18-28 19-11-5,37-25,57zM5072,4762l-2-23 6-30 18-34 8,11 0,16-14,34zM5207,4655l2-33 39-89 18-37 16,7-24,67-19,33zM4369,4510l-5-9 9-39 23-43 12-2-7,37-23,56zM5171,4745l3-26 19-52 25-35 9,7-20,56-20,38zM5050,4528l-3-16 11-31 11-13 15-10-12,40-6,15zM4959,4845l-1-24 7-25 17-24 8,0 0,14-16,37zM4748,4917l5-40 15-51 23-51 11,7-11,48-19,44zM4778,4944l3-14 2-16 12-16 9-2-4,16-10,20zM4556,4769l-3-15 2-29 7-12 10-1-1,22-8,26zM4351,4573l-6-7 5-36 11-16 9,0-1,19-9,37zM4500,4983l3-27 18-41 15-24 3,7-1,20-23,56zM4398,4508l0-18 3-28 10-18 5,0-1,27-6,22zM4889,4859l-1-14 5-34 18-25 3,9 0,25-12,32zM5196,4879l-1-16 13-37 14-26 7-6-9,32-15,39zM6378,5221l-13-2-6-9 3-7 8-8 10,4 4,11zM6360,5012l-23,11-17-2-24-12 5-9 17-10 30,7zM6100,5376l-14-6-12-18 6-17 13-11 12,12 3,21zM6347,5472l1-26 19-1 31,7-2,13-4,18-45,6zM6564,5182l-14-23 6-37 13-17 9,12 5,19-11,39zM6360,4989l-23,4-17-5-31-34 8-8 29,11 39,23zM6589,5114l-19-14-14-30 2-25 17,1 11,20 12,35zM6572,5018l-19,8-16-7-12-6 6-15 12-1 22,5zM6557,5295l10-13 29-1 32,4 3,11-39,14-21-3zM6132,5299l-5-10 6-25 8-10 8,2 2,16-7,20zM6476,5236l-10-15-12-44 6-24 17-3 13,32-1,39zM6336,5094l-27-3-12-12-13-29 13-12 22,5 15,27zM6683,4807l-12-20 3-21 10-24 10-4 4,29-8,24zM6292,5453l-5,8-31-5-13-21 6-13 24,4 30,12zM6375,5033l6-24 34-38 22-6 23-1-16,30-48,34zM6202,5180l-6-17 10-24 9-5 17,5-5,25-11,13zM6407,5185l-28,15-31-2-35-3-8-18 36-11 40,6zM6341,5333l5-12 10-5 7,5 1,12-5,6-14,1zM6556,5203l-7-3-8-24 5-9 5-4 9,13 2,21zM6127,4873l-25,4-35-10-39-12 14-22 30,1 32,17zM6530,4853l-9-27 13-56 16-11 23-8-1,40-27,45zM6352,5153l-9,5-13-22-13-24 14-6 19,11 13,28zM6405,5357l2-17 78-28 24,8 5,14-30,22-49,11zM6316,5307l-16,9-32-4-15-5-2-10 23-5 26,6zM6276,5220l-8,5-20-1-8-13-5-11 24,1 19,3zM6130,4933l-20-7-15-16-11-21 11-3 20,12 9,16zM6138,5213l-3-14 25-29 12-3 15,7-14,18-26,27zM6099,4739l-19-9-5-27-4-27 16,4 14,13 6,29zM6484,5116l-2-16 25-28 29-9 9,10-6,20-29,28zM5809,6250l-20,4-16-10-9-17 14-18 12,6 25,16zM6869,6318l2-9 17-9 21-3 1,11-13,13-23,4zM6266,5627l5-19 21-19 28-9 2,16-9,22-30,13zM5461,6031l16-19 40-1 42,5 25,18-41,15-53-5zM6217,6377l-4-11 7-13 15,2 6,11-2,11-14,6zM6741,6129l-8-7-8-18 6-9 8-2 5,11 5,13zM6506,6139l-8-5-6-19 0-23 11,1 9,19-2,13zM6418,6052l-9,4-18-5-14-7 1-16 22,1 15,9zM6129,6247l-16-3-15-11-6-7 3-11 17,10 11,13zM6321,6202l-10,2-2-46 15-9 10,4 7,22-3,22zM5890,6113l-3-13 4-19 7-10 9,5 2,14-11,16zM6818,5961l-4-14-3-19 5-6 9,0 6,8-2,18zM5640,5660l-9,8-22-3-20-9 1-8 10-10 34,5zM6321,6521l-3-13 0-10 13-4 6,7 2,7-6,9zM6000,5912l-21,0-12-6-14-11 12-8 15-3 18,12zM6702,6098l-20-10-8-39 9-19 14-10 17,30-2,34zM6396,6453l18-20 52-23 23,7 10,16-26,12-34,4zM6271,5817l-28-11-32-28-32-74 25,8 42,28 26,46zM5585,5827l-8,9-60-31-22-20 2-14 43,16 25,14zM6269,5838l-6-6-3-13 2-8 8-2 8,13-2,13zM6180,5749l-15-5-12-23-7-16 13,0 12,11 11,18zM6706,5945l-12-21-8-13 20-15 18,8 8,12-11,20zM6821,6286l-12,17-20-3-16-14 2-13 19-12 26,8zM6518,6065l7-13 23-4 27,4 2,12-27,11-18-3zM6692,6038l20-29 20-19 35-15 11,17-4,22-48,21zM6006,6102l25-14 36-9 40,6 8,20-44,9-41,6zM6242,6539l4-15 32-29 22-8 3,6-21,26-19,18zM6489,5718l2-12 23-13 24-3 8,7-17,12-30,9zM6424,5847l3-9 11-10 15-4 4,14-7,10-15,7zM5928,6013l-13-4-39-55-9-36 14-8 31,43 14,34zM6149,5910l0-11 11-18 16-9 2,10-4,20-14,6zM6515,6207l-15-18-2-31 6-24 10-13 11,29-1,36zM6655,6403l-5,5-13-9-3-8-1-7 13,3 12,8zM6429,6030l0-8 15-13 15-3 3,8-9,15-18,6zM5793,6156l-10-13 4-46 19-35 12-15 0,60-7,22zM5935,6170l-16-10-8-29 7-10 12-12 8,20 2,26zM6851,5895l-26,9-59-37-13-22-6-17 51,13 51,34zM6515,6425l-6-8 6-17 15-6 11,3-7,17-9,16zM6136,6472l-9-2-10-12-1-17 7-2 12,13 4,12zM6189,6329l-1-16 49-12 28,7 7,13-41,20-40,0zM6425,6448l-5-9 4-9 5-10 8,3 0,13-7,16zM6274,5919l-2-20 23-45 20-14 12,1 1,30-32,45zM6229,6501l-1-26 2-18 20-24 15-3-8,29-14,37zM5911,6090l10-20 28-27 30-13 2,10-10,19-38,26zM6859,5742l-10,5-8-4-12-14 2-6 17-2 13,12zM6042,5698l-8,0-15-9-17-12 10-5 18,7 12,10zM6140,6090l-18-1-17-37 2-28 20-6 8,15 7,45zM6643,5832l-35,14-33-6-25-7-9-12 46-3 29,6zM6333,6134l7-12 7-4 17-3-1,8-4,8-17,4zM5729,5950l-20,2-30-14-8-16 0-9 22,2 27,22zM6385,6044l10-25 15-16 36-6 16,3-35,36-21,12zM3357,4957l-7,0-10-16 1-13 6-2 10,10 4,17zM3627,5581l-20-13-12-16-9-32 11-13 21,30 14,29zM3465,4986l-8-4-19-30-4-14 3-9 15,16 13,21zM3489,4450l-24-18-18-32-12-57 18-3 21,29 23,68zM3730,5674l-14,0-9-18-1-10 10-3 17,10 3,14zM4223,6047l-12-8-5-5-8-16 16-10 10,11 4,13zM3462,4383l-20-6-16-28-5-14 6-9 14,10 26,38zM3898,5617l-9,7-25-29-6-32 5-16 16,21 15,31zM3445,5007l-19,1-9-12-9-21 9-13 19,8 18,32zM3781,5330l-12,1-17-20-2-9 11-7 16,2 9,24zM3598,4909l-19-6-13-12 0-23 9-7 15,15 8,23zM3613,4607l-7,5-18-36-2-30 10,6 7,5 11,35zM3778,5775l-11-2-25-19-13-30 9-6 29,20 19,32zM3435,4548l-9-2-13-18-11-15 9-6 19,10 4,16zM3630,5198l-20-13-13-23-7-25 5-11 17,20 19,29zM3783,5080l-9-4-23-22-11-24-4-19 34,33 20,28zM4149,6005l-8,4-13-19-8-20 11-3 9,12 12,18zM3830,5481l-8,8-32-52-17-40 20,0 17,20 23,40zM3875,5575l-21-9-20-36-16-53 14,1 26,40 11,25zM3829,5495l-12-2-23-39 2-8 3-14 20,21 5,23zM4157,6092l-19-18-8-18-10-23 0-20 19,25 19,36zM3973,5905l-13-9-28-27 3-12 10-5 18,15 9,22zM3539,4458l-11,1-16-24 3-15 8-3 12,8 10,27zM3905,5893l-13-12-13-21-1-18 9,1 8,7 13,31zM3799,5588l-15-4-14-30-3-30 5-4 14,22 10,23zM3813,5697l-15-9-11-24 2-14 5-10 20,25 3,13zM3880,5721l-21-12-15-21-5-14 3-15 21,21 9,16zM3746,5634l-11-4-19-21-10-23 6-4 18,14 7,15zM3749,5034l-25-19-16-33 0-40 9-12 30,45 12,28zM4248,6050l-21-12-42-46-8-36 12-15 33,38 22,43zM3415,5155l-16-5-13-24 5-14 9-7 16,19 4,26zM3839,5892l-13-3-14-23 1-10 5-7 16,6 9,26zM3377,4923l-13-2-12-16 1-12 11-9 13,8 10,24zM3580,5116l-10,5-12-18 1-9 5-8 12,9 10,19zM4016,6006l-27-34-18-37-12-43 14,9 22,23 16,43zM3667,5054l-7,0-23-34-6-21-4-16 28,35 19,29zM4362,5623l-12,8-31-40-9-27 11-6 16,15 27,42zM4535,5730l-13-12-10-8-3-21 4-5 14,17 9,9zM4055,5135l-12-10-7-11 1-16 5,0 13,11 4,11zM4178,5279l-14-7-19-28-7-33 6-15 22,27 11,20zM4457,5607l-14-13-20-37 3-15 5-7 21,21 7,26zM4077,5160l-27-17-14-12-17-50 17,5 16,7 19,41zM4313,5515l-16-3-32-69-5-25 5-20 30,39 25,49zM4332,5778l-6,5-7-17-1-11 5-8 9,9 5,13zM4201,5207l-24-17-18-26-17-25 6-12 23,21 30,42zM4524,5634l-32-18-25-30 0-23-4-33 31,22 26,48zM4583,5718l-26-13-17-8-12-42 17,1 14,5 20,37zM4151,5310l-14-14-10-17-7-23 11-4 16,20 5,18zM4470,5542l-16,2-37-51-7-28 8-1 25,7 36,44zM4084,4664l-6,0-8-8 1-10 6-1 8,3 5,15zM4218,5564l-17-12-18-20 1-22 9-9 18,19 15,30zM4105,4791l-13-2-7-13-6-11 7-3 9,5 8,12zM4031,4832l-30-9-33-52-15-35 11-11 29,21 29,53zM4317,5497l-9-4-20-28-11-24 7-6 19,18 13,23zM4096,4973l-8-2-15-29 2-11 6-4 7,10 14,28zM3894,4622l-25-13-20-11-3-45 15-6 13,17 23,32zM4109,4976l-28-22-24-33-12-25-4-23 46,42 21,41zM3929,4778l-21-2-27-38-18-36 23,2 21,15 25,29zM4083,5057l-13-5-10-21-7-22 16,0 15,6 8,29zM4148,5334l-17-8-13-18 1-23 9-10 20,17 5,19zM3963,5059l-22-14-9-27-7-31 14,0 18,19 7,29zM3792,4621l-15-11-12-21-7-22 9-4 12,9 19,44zM4138,5209l-17-15-27-30-12-31 11-2 26,25 22,30zM4288,5366l-6-2-9-11-8-18 9-4 11,8 6,14zM4036,5149l-20-9-11-14-5-34 11,2 14,5 13,35zM4481,5706l-33-29-10-24-14-46 9-25 24,48 25,57zM4521,5762l-16-8-7-9-1-18 7-7 10,7 11,22zM4511,5912l-2-15 8-27 10-4 14-1-8,21-8,12zM5031,6102l0-16 23-47 39-39-4,23-11,43-33,40zM5240,5979l-3-13 16-38 24-17 23-5-20,38-19,35zM5290,5635l-12-3 53-78 26-23 5,20-16,31-36,41zM4828,5873l-6-9 26-50 15-19 10,8-11,36-20,27zM4955,6193l-6-25 8-26 17-20 20-1-9,33-17,34zM4693,6372l-2-6 2-14 8-9 8,1 0,11-9,16zM4692,5755l-8-4 14-27 13-11 5,4 0,15-15,19zM4912,5751l4-47 9-29 30-66 15,19-14,53-18,41zM5062,5781l-2-9 16-35 13-4 10,1-6,20-13,25zM5046,6107l-3-21 24-39 16-20 17,1-21,45-18,30zM5147,6175l3-22 11-27 24-34-2,16 0,22-17,31zM5134,5583l-1-9 25-30 16-19 1,14-8,13-19,28zM4589,5997l3-17 9-15 17-14 10-6-15,30-15,18zM5169,6104l7-20 10-18 21-10 5,4-9,21-23,20zM4684,6085l-5-15 26-39 29-25 12,9-24,46-30,27zM4772,6167l7-18 13-25 16-6 16,3-12,25-18,11zM5235,5957l8-35 11-39 15-12 6-5-9,39-13,25zM5010,5732l1-14 8-14 15-14 4,6-5,16-16,20zM5149,6113l4-21 7-20 16-14 13,5-11,22-18,28zM5035,5889l2-18 10-29 10-4 16,4-5,21-10,16zM5023,6166l-2-13 32-64 12-3 17,0-10,22-27,38zM5173,6100l-16,0 33-45 28-18 16-6-19,38-23,28zM4775,6350l-3-8 8-20 12-9 9,2-7,21-6,8zM5008,6140l2-15 15-30 20-11 1,11-3,26-23,21zM3338,3768l-8-17 31-24 28-16 14,14-15,34-24,18zM5786,2995l-29-2-32-26-13-39-2-21 47,39 25,27zM4095,2746l-4-12 4-26 7-8 8,2-2,13-5,20zM3992,3077l-26-14-19-69-3-38 11-4 23,41 12,48zM5889,2461l-9,5-26-8-9-12-1-9 18,4 12,8zM3497,2426l-31-22-19-25-10-39 16-3 27,32 10,22zM5539,3582l-13,12-32-4-5-12 1-12 16-13 28,17zM5616,2962l11-21 22-21 19-8 11,7-21,37-24,11zM3933,3061l-9-6-2-17 8-16 11,4 3,14-1,12zM4670,2509l-2-12 19-31 12-12 11,13 2,22-23,16zM3188,3145l19-15 57-7 32,9 27,13-42,21-74-3zM4107,3155l-6-10 12-15 10-7 8,9-5,14-9,7zM5007,2981l-5,1-2-11 5-5 4,0 6,4-1,11zM3432,3861l3-17 19-29 10,1 13,8 0,13-19,20zM4409,2998l-9-22 4-46 9-17 12,8-1,29-2,16zM4166,2843l-26-17-20-30-1-21 17,5 18,9 13,22zM4392,3622l10-10 17-12 12-3 6,7 0,12-29,8zM3484,3518l2-12 17-12 10,6 4,14-6,14-15-2zM4520,3164l-7,6-14,1-21-7 9-7 14-3 9,3zM3233,4216l-12-3 32-37 17-7 12,4-13,30-20,17zM4059,2533l-18-3-32-61-3-45 12,0 38,48 20,54zM5184,3386l-11-6-11-15-10-15 5-4 12,10 14,13zM5012,4000l-7-10 8-40 23-41 9,14 0,18-22,52zM4707,3095l3-21 17-25 16-13 6,11-1,12-20,25zM4344,3485l8-27 21-46 25-17 3,19-12,33-21,23zM4380,3032l-8,3-11-5-2-10 6-8 13-4 10,11zM5587,2982l-38-20-15-45-10-50 12-2 31,32 17,52zM5388,2862l-7,8-13-1-5-6 0-7 10-4 9,6zM5390,3339l-21-14-7-34 8-25 15-4 16,25-5,30zM3494,3674l14-16 24-8 23,1 5,5-21,13-33,9zM3832,3077l10-17 21-8 17-6 1,8-9,9-25,10zM5644,3696l-2,8-25-3-10-9 5-10 15,2 15,5zM5140,3120l-7,5-10-4-3-15 5-6 11,3 6,4zM4927,3725l-5-14 6-31 23-30 10,4-10,33-7,19zM4864,2924l-8-3 4-46 12-22 13,14 4,16-4,32zM3837,3873l4-9 19-10 16,1 5,5-11,8-32,12zM5454,2917l-8,0-6-9 1-12 4-5 13,7 1,13zM3268,3999l-7-9-5-32 10-19 9-2 11,29-5,27zM4207,3580l-6-13-5-14 13-19 17,7 7,18-12,15zM4274,2706l-6-3-3-18 7-6 7,4 3,5-2,16zM3698,2999l-19-7-8-26-7-40 17,6 20,24 7,25zM4540,3416l-8,6-36-5-16-13-5-12 30,4 32,10zM4500,3232l-21-2-11-20 1-23 16-1 18,8 3,30zM3913,4024l-15-2-13-25-1-22 15-6 12,13 13,27zM5176,3866l-2-5 9-6 7,1 3,3-3,10-8,2zM4823,3150l-11-24-15-60 8-32 17-9 13,53 4,35zM5038,2888l-24,8-27-3-17-8-8-16 30-6 29,6zM3290,3166l4-19 24-12 19-6 15,8-28,21-18,6zM4524,3666l-8,6-21-13-2-16 7-7 12-4 19,18zM4849,2854l1-8 29-9 27-6 8,12-25,16-21,8zM5847,2630l-7-3-4-16 7-4 7,0 3,10 1,5zM5928,3690l13-22 23-23 26,3 15,10-30,24-16,8zM5503,3192l-7-5-7-20 0-15 12,7 6,11 4,14zM4534,2926l-12,8-13-31 0-29 12-5 12,16 12,38zM4358,2449l-9,9-15-2-14-3 6-8 11-8 20,4zM4264,2920l-14,7-18-6-14-19 4-6 21-2 12,10zM3278,2437l-14,9-41-2-15-9 3-10 23-7 40,10zM3224,3164l2-13 24-13 15-4 9,8-15,18-23,6zM4669,3047l-20-8 1-18 5-10 11-6 12,18 0,11zM3389,4204l-11-23 3-26 16-29 12,11 5,31-15,31zM5627,3008l-17,7-13-13 1-16 13-8 8,0 18,7zM5448,3559l-2-12 9-22 9-2 11,2-1,14-14,14zM4056,3289l-7-13 31-78 31-31 7,22-9,44-28,57zM4133,3185l12-31 22-24 32-11 8,13-23,26-22,19zM5522,3877l22-10 35,2 27,5-9,17-33,5-18,4zM4910,3027l-22-32-10-28 0-36 15-10 16,26 9,55zM4687,3911l-4-26 8-59 21-59 16,24 0,47-10,37zM3681,3871l9-13 7-7 15-8 5,10-4,7-19,12zM5873,3707l-5-19 13-14 21-2 14,10-14,19-21,15zM4562,3770l-14,7-15,0-9-13-4-11 20,0 15,7zM3423,3565l3-14 8-14 21-5 8,8-12,16-18,19zM4123,3756l-1-26 14-13 27-15 4,7-8,33-18,11zM4634,2652l7-13 36-22 8,6 22,16-23,19-30,2zM5932,2564l-10,7-21-4-10-11 7-12 11-2 19,3zM4645,3408l37-6 29-1 23,2 10,14-35,5-38-1zM5643,4147l-8-9-2-17 12-9 19,5 1,12-6,16zM4202,2949l-5-21 7-52 32-52 6,21 8,31-21,46zM4232,3662l-2-9 11-20 12-16 6,11-6,18-10,18zM4704,2737l-1,16-69-26-11-19-7-18 44,11 46,17zM4285,3564l-25,10-35,9-35-9 7-23 35-9 27,1zM4714,2757l-9-2-6-10-8-26 7,0 12,10 8,17zM5189,4025l7-23 66-14 46,5-4,18-35,17-66,4zM4140,3087l2-20 10-12 12-6 11,13-3,11-20,16zM5289,3073l0-8 20-19 17-4 1,11-11,12-19,10zM5769,2968l-13-5-24-19-17-24 13-2 18,9 16,21zM4512,3344l-12-1-10-4-6-9 4-8 16,6 8,10zM5812,2686l-33-14-22-28-19-40 18-5 30,21 25,38zM4806,3923l12-28 35-9 33-7 3,22-28,20-35,10zM3901,2721l-11,2-20-4-4-18 8-15 24,5 6,17zM4653,2986l16-17 46-4 27,2 10,15-30,18-63-3zM4094,2437l-29-8-20-8-22-29 7-13 29,9 22,18zM5059,2730l-13-36-5-55 8-15 15-12 12,54-12,36zM5096,2739l-19,3-16-9-14-9 9-4 7-3 19,12zM3578,2447l-11-10-18-19 2-20 13,1 13,12 1,19zM5956,2495l-9-4-15-13 7-17 9-3 9,10 9,21zM5478,2880l-18-5-24-18-17-36 6-14 36,21 19,29zM4573,3863l-17-28 2-38 8-35 13,2 8,43-3,25zM4496,4216l-26-17-20-36-7-25 9-15 24,23 15,46zM5613,2841l-21,0-19-47-17-50 32,11 16,15 20,67zM5634,3527l-14-20 9-12 19-18 21,11-1,26-14,14zM4969,2556l0-11 9-3 15-7 3,10-8,9-15,8zM5480,3348l-15-1-18-11-17-30 14,0 17,11 11,13zM5229,2507l-12-27-2-67 14-45 17,9 4,51-4,34zM4002,3380l-10-7-12-18-2-24 9,3 8,12 11,29zM5332,3471l7-7 19-9 15,11 2,12-18,2-14-2zM4466,2677l-6-12 17-6 7,1 7,13-7,6-13,2zM4983,2485l-1-13 10-25 13-20 7,11-1,13-16,31zM3772,2756l14-17 33-21 14,6 0,9-17,15-17,10zM3742,4064l-7,2-26-13-21-16 5-15 18,3 39,32zM4534,3905l-15-15-11-27 0-19 21,3 7,10 10,33zM5279,4047l5-11 27-4 27,6-7,11-8,4-28,3zM5071,3023l-2-27 24-31 24-9 14,10-15,35-29,14zM5801,2676l-13,12-17,0-25-12-3-11 14-11 44,3zM5557,3632l-32,9-36-25-44-41 27-7 34,13 29,22zM3944,2803l-5,1-14-2-11-6 4-8 13,2 7,1zM5602,3118l-5-37 7-44 18-6 13,6 7,19-18,35zM4534,3697l15-25 29-34 34-10 6,15-29,30-28,29zM4073,3729l-12-10 1-23 0-12 9-4 9,15-1,23zM5521,4086l1-7 6-7 7-4 5,5-5,14-8,2zM5214,3844l-9,2-8-22 4-16 6-1 7,10 2,21zM5339,3619l-17,1-15-4-7-6-3-10 10,1 26,9zM3739,2800l-10-1-10-15-11-17 4-9 19,21 6,14zM4297,4056l-7-10-10-26 4-18 8-4 10,26 1,23zM4112,2708l-2-9 9-9 5-1 6,6-3,10-8,6zM3964,3079l-8-17 13-10 11-4 17,9 0,10-20,16zM5083,3514l-15-9-10-24 16-27 14,4 20,21-11,34zM4198,2704l-15-4-13-9-1-17 11-10 15,8 3,12zM4678,3993l8-25 20-50 45-36 19,1-19,57-38,41zM4182,3358l-3-12 24-14 24,2 16,12-23,18-24,6zM4855,2502l-21,19-21-7-19-8-6-17 19-7 41,10zM4421,2480l-19,1-30-15-15-17 10-3 25,7 14,11zM4993,3268l-8,8-12,7-12-13 3-22 11-6 20,13zM5104,2904l-2-14 9-2 9-6 6,13 0,7-12,7zM4158,3972l-17-4 2-25 4-21 16-2 13,8-4,36zM4364,2907l-4-10 4-17 2-7 8-2 0,14-3,13zM4885,3193l-11-15-9-30 16-52 17,12 6,35-3,34zM3506,2756l-7-10 14-29 26-22 1,13 1,19-17,29zM3547,3525l-21-12-24-37-10-33 7-6 25,24 17,32zM5231,2951l17-22 55-6 38,9 13,19-60,17-39-6zM3500,3790l14-17 18-6 17,4-4,21-9,8-20,3zM4456,2803l12-25 16-15 28-17 0,9-19,26-17,14zM5061,3700l-19-6-27-88-10-46 25-2 16,29 16,77zM4580,3927l6-12 11-9 28-7-3,8-10,12-22,7zM3198,2749l6-18 42-10 36-5-5,20-33,21-22,1zM4556,3764l-7-10 1-13 4-13 8,4 4,14-1,9zM5453,4033l-10-6-13-33 3-11 13,0 10,20 3,26zM3383,3190l-3-26 36-42 48-48 0,35-13,22-43,51zM3919,3473l-11-10 3-49 5-13 12-14 5,46-3,17zM5376,2512l-12-1-22-3-10-15 7-10 17,1 18,7zM4635,4121l-8-15 18-20 16-15 18,8-13,28-12,14zM4035,3356l9-12 10-6 13-4 2,8-8,9-10,6zM3614,2780l-6-19 39-32 19-2 23-1-26,40-24,7zM5360,3901l-9-21 2-32 13-37 8,15 7,29-6,24zM4628,2705l24-14 40-11 31,5 1,22-9,14-61,3zM6040,3757l-8-8-3-21 5-19 13,2 2,16-1,24zM6925,3503l-19,3-22-11-7-17 3-13 26,11 19,13zM6118,3832l-9-4-7-3-3-19 3-5 14,13 5,8zM6290,2478l-10,8-15-4-11-20 7-8 12-3 13,10zM6294,3372l-11-7 1-27 9-18 16-1 11,21-5,22zM6841,3431l-14-4-13-18 21-19 9-11 17,31-12,20zM7415,4377l13-14 24-4 23,5 6,11-33,13-19,4zM6305,2481l6-22 14-12 26-18 9,14-24,20-20,18zM6183,2992l-27-1-20-8-18-18 10-16 28,5 24,20zM7048,3004l-13-10-8-29 6-14 7-9 13,20 1,23zM6116,3348l-5-13 11-23 13-8 16,17-2,19-16,15zM5815,2810l-11-5-8-9 7-17 7-6 11,15 6,12zM6365,3606l-7-6 12-25 12-14 10,4-4,17-11,19zM6019,2979l-28,8-16-11-22-23 5-26 27,12 22,16zM5948,3325l-9-10 20-24 24-27 12,13-8,21-19,24zM6045,2469l-6-22 38-42 32-16 4,17-10,24-44,46zM6556,3432l2-22 7-25 32-32 0,22 0,12-28,40zM6426,3875l-20,1-8-32 13-22 19-3 12,18-4,27zM7226,2881l-10,15-21-4-2-20-4-18 26-1 13,9zM7087,3998l-13-14 6-29 15-9 15-7 7,30-15,31zM7196,3667l-18,9-20-13-15-21 5-25 38,6 8,19zM6289,2563l-25,1-7-47 7-54 26,8 14,31-4,48zM6358,2934l-10,1-16-12-2-10 7-7 13,2 7,19zM6756,3260l23-33 38-27 35,3 1,25-36,25-32,10zM6836,2680l-21-1-36-33-12-27 0-20 37,23 24,33zM6461,3096l-3-29 1-28 27-34 18,8-4,45-17,36zM7391,3791l-19,13-22-2-26-9 10-12 12-9 35,7zM7376,3509l-4-5 0-12 7-4 8,4 4,6-8,9zM6558,3399l0-18 33-22 23-4 4,15-18,14-29,15zM6265,2864l1-14 10-10 13-14 4,7-3,15-12,9zM7300,4213l-23-3-13-8-14-18 9-14 25,5 8,16zM6499,4419l-14-32 7-24 21-33 10,6 5,33-16,25zM7125,2914l-29-8-12-25-6-42 14,0 31,17 18,38zM7189,4261l-12-9-19-40 9-17 16-13 12,18 8,48zM6508,3994l-11-8 7-39 14-33 7,12 6,16-14,45zM7275,2617l-21-1-5-22-7-31 24,3 17,18 9,25zM7420,2537l2-19 35-37 25-7 11,9-15,22-41,32zM6865,3979l-7-45 0-58 18-27 25-21-1,73-9,56zM6883,3821l-13-1-10-5-5-9 6-16 14,8 9,10zM7286,3577l0-15 29-25 28-13 0,21-12,26-27,18zM7246,2588l-11-12 11-17 17-6 7,12-1,18-13,6zM6583,3587l-1-6 5-12 12-4 3,9-3,11-10,4zM6540,4383l-18-23 8-18 20-15 15,14 6,17-13,18zM6816,3810l-20-1-25-42 3-28 16,4 17,4 19,53zM6412,3077l-4-18 6-18 13-15 14-10-1,26-9,19zM6620,3621l-15-9 1-15 7-22 26,3 4,19-2,24zM6573,3342l-6-3 4-10 6-5 9,4-2,9-5,6zM6412,4086l12-13 19-13 14,5 9,14-21,19-12-3zM5826,2676l-3-14 9-26 13-7 13,11 10,27-26,8zM7033,4706l-11,10-47-15-17-21 8-9 28,2 28,11zM6723,5086l7-11 21-5 15,6-6,11-10,9-14,0zM7163,4784l-14-7-7-20 7-19 7-10 10,20 4,24zM7120,4616l-7-7 0-8 4-8 9,0 4,4-3,10zM6548,5480l-5-11 4-18 8-3 12,3 0,15-8,11zM7316,5294l-10,10-21-10-17-16 11-12 24,2 6,10zM6780,4863l-11-16 6-15 15-14 18,6-1,22-14,21zM6840,5428l-14-12 1-17 5-12 13-1 7,12-4,24zM6713,4789l-10,8-27-9-20-12-2-13 24,1 31,13zM6678,4652l-8-5-9-21 4-10 8-9 13,23-2,12zM6832,4940l2-10 18-11 16,6 9,6-19,15-13,3zM7113,5323l-12-7-5-14 6-7 13-2 11,8-3,17zM7136,4690l-7-6 4-24 13-22 9,6 1,16-10,20zM6638,5506l22-11 53-22 25,7 1,19-25,18-48,5zM7262,5144l-20-7-22-20-13-16 6-18 18,17 20,21zM6472,4856l-7-2 1-26 7-13 17,5 7,17-5,18zM7110,5014l1-7 19-3 8,3 2,11-14,5-11-6zM7051,4944l-16-6 12-50 21-8 15,9-4,21-16,33zM6958,5071l-7-1-5-10 6-11 8,4 6,4-2,13zM6693,4866l-4,0-6-17 1-14 7-1 9,13 2,14zM6434,5408l-9-14 16-27 14-10 16-1-8,23-15,18zM6805,5356l10-12 17-5 5,3 6,10-14,6-13,4zM6870,4775l-9-3-5-27 10-35 11,9 4,26 0,28zM6813,5347l-14,8-28-5-15-25 11-5 24-1 13,8zM6864,4678l-5,9-13-3-16-6 0-9 18-1 10,4zM6460,5473l-21-1-3-19 5-17 10-10 24,12-4,12zM6999,4690l-16-2-11-11 4-13 18-10 9,11 4,11zM6890,4971l-7-10 7-16 14-27 5,14 2,12-8,23zM7049,4591l-12,13-52-16-16-23-1-19 38,10 42,15zM6985,5317l-7-16 12-15 9-9 15,10-5,18-11,11zM6755,4920l-3,11-32-4-10-9-4-6 21-7 27,7zM6825,4506l7-11 10-15 16-1 7,8-6,9-20,10zM6747,4529l12-15 28-11 34,7 21,8-31,20-47,8zM6842,4677l-6-29 20-26 37-15 1,22-2,16-28,33zM7235,5903l-17-20-8-28 15-43 17,11 2,24 0,39zM7664,5906l-4,0-7-7 1-10 9-2 7,3 2,11zM6514,6518l-16,2-12-33-3-53 19,5 15,21 8,49zM7251,6441l-9-2 1-11 3-13 14,2 0,12-2,9zM7427,6183l-27-6-25-48 1-44 19-17 20,48 13,49zM7005,6515l-5-10-2-17 7-18 7-2 4,16-2,12zM6977,6061l0-11 5-22 13-24 4,15-3,12-12,32zM7355,5635l-7-1-11-16 5-17 9-4 13,5-1,22zM6748,5981l-11-14-9-16 0-22 8-7 7,20 8,20zM6526,6231l-14-9 5-54 23-29 14,20-1,29-7,39zM6772,5773l-9-3-3-12 0-12 10,3 6,7 3,10zM6772,6103l-6-14 12-45 13-21 23-6-1,32-29,60zM6750,6300l-21-7-9-22 11-14 8-4 16,1 9,24zM6793,6132l-17-7-8-38-1-15 17-3 11,8 0,37zM7074,5805l-6,2-9-27 2-20 3-9 12,20 3,26zM6845,6603l-13-19-10-12 0-26 7-10 17,21 3,24zM7575,5979l-6-15-6-11 6-12 6-6 8,12 0,18zM7571,6416l-14-16-10-46 13-20 27-20 1,38 6,55zM6663,6078l-13-16 4-17 11-14 7,8 5,13-3,16zM6954,5904l-14-13-13-33 8-24 13-21 18,25 1,53zM6526,5867l-13-6 0-11 9-6 9-4 8,9-6,13zM6752,6690l-11-39-3-40 5-33 19,13 11,33-5,23zM6450,6508l-19-23-21-61 7-26 11,3 24,30 4,38zM7669,5859l-6-9-11-20 5-26 11,0 7,18 0,24zM6830,6050l-10-3-4-19 0-21 8,3 11,16 7,22zM7476,5738l-13-2-4-32 7-15 18-3 10,16-4,27zM6608,6027l-3-6 2-9 4-9 8,2 5,14-6,9zM7046,6427l-16-25-15-42 11-50 13,17 24,35 1,31zM6656,6425l-4-19 8-50 17-21 23-2-6,48-21,31zM6799,5817l-17,0-2-8 3-17 13-3 3,9 8,9zM7546,5567l-16-18-2-18-3-19 15-6 12,8 5,35zM7369,6191l-8-13-3-23 20-20 16,4 4,20-21,38zM7263,5574l-3-25-2-36 7-21 25-7 9,46-5,19zM6595,5628l-2-16 8-24 9-21 8,2-1,23-11,28zM7371,6567l-10-7-4-20 15-4 13,4 10,6-5,18zM7378,5693l-5-17 0-29 7-32 19-1 7,27-10,36zM7437,6614l-9,1-4-45 4-37 16,12 8,24-2,42zM7529,5938l-16-24-11-16 7-28 6-16 18,26 6,45zM7490,5591l-13-16 7-52 15-7 14,4 8,18-12,30zM6435,5766l-7-4 1-27 12-26 8,10 6,19-5,18zM7213,5935l-20-33-20-57 4-42 22,3 22,46-1,55zM6725,6085l-10-6 1-11 5-3 9-1 1,11-2,8zM7472,6378l-16-15-15-34 10-35 16,8 15,17 7,36zM7674,6048l-7-7-5-17 1-16 12,0 7,13-1,23zM6455,6566l-15-11 5-15 10-19 11,0 14,25-4,11zM6648,6571l-15-18-14-32-6-26 17-5 21,33 7,24zM7488,5732l-9-7 9-27 10-23 10,13 4,14-14,37zM11257,5778l-7,12-11,11-22,6-6-9 9-10 28-17zM11690,5799l-8,9-19,16-26,12-8-5 20-16 21-12zM12750,5261l-5,27-33,39-40,33-15,3 41-61 27-34zM12445,5479l-5,11-11,13-21,15-6-7 14-15 17-15zM11649,5657l-18,32-32,40-31,20 2-23 11-19 35-40zM11503,5882l-35,35-42,26-47,16-2-11 38-30 43-24zM11698,5711l2,22-31,31-26,22-6-13 6-26 41-41zM12369,5243l-2,15-29,24-17,8-6-13 13-17 16-13zM11687,5789l-3,26-32,40-26,19-24,4 23-44 27-25zM11499,5494l2,15-13,19-18,8-8-17 2-17 18-12zM11667,5835l2,12-13,19-18,4-5-6 6-14 16-16zM12006,5721l-5,17-12,19-22,4-6-7 12-22 24-18zM11845,5863l2,7-20,17-17,1 4-9 7-13 15-11zM11253,5545l-5,13-32,41-43,38 7-25 17-32 22-15zM11114,5702l1,5-10,10-7,2-7-4 9-10 11-6zM11677,5461l-5,16-27,17-17-1-8,0 23-22 31-16zM12488,5478l-1,8-6,8-6,1-5-7 3-8 12-7zM11971,5633l1,9-12,13-8,0-7-1 4-15 10-6zM10978,5259l-8,26-35,45-39,24-6-10 35-45 28-27zM12141,5405l-4,9-5,10-14,3-3-7 4-8 9-10zM11317,5533l3,6-15,14-17,6-7-8 15-13 17-10zM11754,5373l-23,29-21,30-45,31-8-4 31-46 32-22zM12633,5245l2,18-31,27-11,3-6-12 5-11 23-22zM11794,6057l5,5-16,17-12,7-1-7 0-8 19-16zM11680,5213l-24,40-32,49-50,29-14-5 38-57 30-24zM12515,5507l-1,13-34,33-45,30-11-11 34-40 31-25zM11992,5272l3,10-12,16-29,5-3-11 12-17 16-5zM12086,5906l-3,14-33,23-38,12-12-10 20-16 32-15zM11713,5479l1,21-25,13-22,10-14-4 19-25 23-19zM11895,5509l-3,17-21,12-16,5-6-9 12-14 16-7zM12351,5433l-8,27-36,38-49,33 1-23 34-38 39-32zM12356,5276l0,15-8,20-22,6-8-4 7-18 17-20zM11945,5971l-22,47-52,45-29,11-21,2 41-56 55-39zM11354,5195l-8,30-30,36-16,12-12-1 22-37 19-23zM11473,5193l-5,8-12,13-11,2-10-9 13-10 12-8zM11783,5581l-4,13-13,16-10,9-8-9 3-14 21-20zM12637,5000l3,8-25,24-16,13 1-12 10-13 14-14zM11220,5473l5,15-13,13-18,10-6-5 6-19 10-16zM11808,5639l2,12-25,23-31,17 0-19 20-24 28-11zM12136,5340l-1,12-8,11-10,2-8,1 6-18 8-5zM11671,5890l-19,24-58,43-43,26-2-16 49-54 26-8zM11772,5467l4,9-10,13-16,16-7-7 9-15 10-11zM15022,3501l-15-6-12-28-11-35 14-1 18,25 9,22zM14664,3900l0-16 30-11 20,13-1,16-23,9-20-5zM14906,3260l-23,0-25-17-10-21 8-15 31,18 14,21zM14599,3074l21-25 28-14 15,1 9,13-26,18-32,13zM14153,2927l-19-17-15-36 8-35 13,2 22,34 3,41zM14181,3437l-12,9-25-4-12-7-5-17 23-5 27,6zM14787,3529l1-15 8-17 22-10 14,6-8,28-22,16zM14325,2874l-5,0-8-28-1-26 9,2 8,28 5,21zM14927,3318l6-15 27-31 26-11 2,16-18,20-21,22zM14673,2985l-2-7 6-7 8-3 2,4-1,4-6,7zM15212,3432l-1-19 34-19 34-9 6,8-24,24-37,18zM15158,3240l-18,2-24-18-18-24 1-11 20,2 29,35zM15025,2932l-1-6 19-4 15,1-1,7-9,4-14,1zM14754,2968l0-21-1-18 11-22 10,3-1,22-5,25zM14930,2988l-9-1-8-13-3-13 5-8 11,13 9,14zM14375,3604l-7-5-7-14-2-9 9-2 6,8 3,12zM14491,3310l-15-7-10-18-5-21 6-21 21,20 13,37zM14456,3687l-15,9-7-2-11-11 2-6 11-5 19,7zM14664,3787l-16,11-30,0-11-9-11-11 27-6 27,9zM14765,3180l-7-3-2-10 3-11 5-2 7,6-1,13zM15042,3301l17-14 29-3 32,3-9,15-18,11-32-5zM15141,3613l-8-8-1-12 8-9 7,3 6,7-6,15zM13941,3244l-6-8 12-21 18-9 9,10-9,20-18,14zM14117,2811l-6-7-7-16 2-10 5-3 10,9 0,16zM15144,3603l0-11 5-9 11-5 5,6-6,8-10,9zM14098,3118l-7,7-20,1-14-14 4-8 19-5 17,5zM14033,2873l2-24 23-22 23-11-2,12-8,14-20,20zM13987,3938l5-11 22-10 13,4 11,4-16,14-23,7zM14933,3881l-9-8 2-13 1-12 11,0 3,11 0,13zM15214,3813l-20,11-39-13-7-10 5-12 9-8 40,16zM15205,2960l-1-11 22-21 32-16-4,13-1,15-35,26zM14798,3955l-9-7-3-18 4-11 7-5 8,14 5,19zM14973,3470l2-6 21-12 13,1 4,6-13,17-22,5zM14654,3133l-11,6-26-9-16-3-2-12 28-1 20,11zM14040,3959l4-14 3-9 17-2 8,11-7,17-17,7zM14395,2943l-5-7 11-25 15-19 16-4-11,28-15,27zM10115,5531l-13-3-15-27 8-9 7-10 16,19 7,24zM9679,5270l-19,12-22-14-28-21 15-12 20,4 37,23zM10835,5125l-26-21-8-22-14-38 15,1 20,25 11,24zM10861,5535l-15,10-12,3-11-9 4-14 11-4 11,1zM10648,5656l-10-5-10-18 10-26 17,5 16,15-9,18zM10997,5166l-7,9-14-3-2-7 3-8 10-4 10,8zM8489,5657l-1-17 10-21 14-12 12-2-10,27-9,16zM9769,5286l-8,11-22-5-20-12 7-11 14-8 18,10zM10225,5061l14-18 21-11 25-5 10,10-25,15-20,8zM9029,5484l-4-10 6-18 12-12 7,7-5,17-4,11zM7918,5370l-12-5-7-12 7-10 12-6 7,11 3,14zM8825,5376l-9,0-17-12 0-19 12-7 8,10 11,18zM9755,5289l4-8 14-8 28-7-6,10-16,10-17,5zM9946,4979l-16,3-15-9-6-13 13-14 18,9 9,9zM8521,5565l0-13 8-13 18-8 7,4-10,16-10,14zM10457,5469l3-10 20-6 19,5 0,10-7,10-37,1zM10110,5283l-11-2-16-13 0-19 15-15 14,17 11,23zM10909,5375l1-16 9-6 18-3-1,10-3,9-13,9zM9121,5076l-27-27-17-26-3-39 18-13 23,36 3,29zM9583,5025l-10-10-4-18 7-9 11-7 4,13 1,19zM9173,5282l-14-9-15-21-3-29 12-10 24,35 9,27zM9008,5033l-7-2-9-6-8-11 7-4 11,3 5,9zM9403,5607l-12,1-4-38 2-25 14-14 10,28 1,42zM10894,5160l-8,12-22-11-3-13 3-16 12-1 20,18zM10144,5681l-13-11 10-40 24-47 16,7-2,34-15,50zM9319,4952l1-19 14-16 13,5 12,15 0,11-23,7zM8901,5389l-8,15-35-10-32-17 13-8 32-2 20,12zM7884,5456l10-9 16-5 24,4-5,6-9,8-23-2zM9703,5126l-12-8 6-42 11-18 14,3 6,24-10,35zM9621,5433l-14,1-8-10-1-16 18-8 14,13-1,8zM9444,5229l-21-13-13-31 0-27 13-5 19,14 4,43zM10801,5079l10-30 15-25 17-12 20,10-11,35-27,15zM8718,5224l-7-17 2-13 13-4 13,5 1,13-15,12zM10312,5447l-11,6-29-20 2-24-1-15 25,16 21,30zM9325,5357l-14-2-9-11-3-17 11-8 16,12 7,26zM7908,5563l11-11 18-9 21,6 7,13-16,11-28,1zM9717,5113l-11,1-6-7-3-14 9-2 13,4 6,11zM9255,5097l-17-6-14-30-4-28 11-2 17,23 11,27zM8927,5016l2-12 10-7 16-4 3,4-4,8-16,13zM10211,5414l9-25 14-18 17-13 22-2-16,26-21,32zM8291,5626l4-12 32-9 19,0 9,15-22,15-32,0zM10418,5125l5-20 31-27 25-2-1,8-11,23-36,15zM8886,5051l9-20 31-14 18,0 2,8-17,19-30,9zM10996,4930l-21,6-10-25-4-12 14-15 24,19 8,8zM10568,5224l-8-28 7-20 21-25 12,2 0,32-14,24zM4335,3366l-16,4-11-16 7-14 9,0 14,4 0,13zM3538,4146l-17-14-13-13 7-24 21,1 18,0 0,26zM4070,3919l-31,17-39-18-22-18 9-19 29-3 36,18zM3842,3724l-3-12 11-12 11,5 3,7-4,12-9,8zM4255,3961l13-31 19-17 44-24-6,18-7,18-32,21zM4416,3660l-27-3-14-13 1-14 12-16 24-1 8,16zM4435,3869l-24-3-6-18 4-25 9-8 18,10 9,27zM3842,4145l-15,16-42,4-30-9 16-16 25-11 20,8zM3582,3291l-43-13-37-35-6-36 16-1 26-2 38,49zM4514,3614l-18,5-35-52-2-37 21-13 29,35 8,41zM3409,4043l-22-5-32-13-38-37 4-10 55,14 22,21zM3768,3397l8-13 15-5 21,6 1,6-12,14-20,1zM4737,3589l-26,17-55-10-18-13 4-17 44-10 35,7zM4462,3792l19-17 42-16 47,20-17,17-34,17-35-2zM4310,3648l-17-5 19-42 20-27 13,14 9,26-17,35zM4603,3718l-36-3-10-22-13-44 18-17 21,16 25,40zM4272,3334l-11,6-17-63-3-36 14-7 29,43 4,58zM3388,3596l-17,11-15-15-11-8 14-16 12,1 13,11zM4676,3267l-6-14 5-16 12-14 12-4 4,27-13,12zM3822,4048l-19-15-9-9-5-25 8-4 20,14 4,18zM3561,3502l-5-9 25-28 24-10 2,10-8,16-30,26zM3738,3516l4-16 27-29 19,0 7,26-7,13-43,15zM4413,4172l-28-19-5-60-1-37 27,5 22,43 2,51zM3857,3802l-21,10-25-40 5-32 22,5 26,19 4,29zM3344,4225l-10-24-1-23 19-11 23,2 3,27-20,19zM3685,3453l-2-18 7-17 32-24 8,15 0,16-30,25zM3949,3710l-24-4 1-38 14-12 23-6 5,26 0,35zM4313,3417l16-32 47-32 59-18 14,11-31,41-60,26zM4591,4106l-16,26-69-11-24-15 10-16 36-11 48,4zM3785,3924l-9,13-43-5-41-24-3-17 50,7 25,3zM3524,4193l0-33 30-21 41-6 16,25-24,23-59,29zM4663,3847l-34,3-35-33-2-27 20-13 30,18 10,18zM3847,3240l-8-24 7-34 8-27 13-1 8,31-13,46zM3284,4179l-17,14-34-20-16-19 23-20 16,3 29,24zM4092,3234l-17,4-13,2-2-18 8-21 13,2 15,18zM4612,3515l-11-17 4-19 17-12 20,2 2,18-17,28zM3313,3904l1-14 17-4 21,10-1,9-10,12-26-3zM4265,4213l-4-42 6-29 25-33 16,4-6,45-17,48zM3649,3248l-5-15 14-30 11,1 14,5 5,22-27,25zM4545,3411l11-17 34-6 29,8-4,26-27,11-33-6zM4296,4039l-1-17 32-28 23-6 5,8-12,24-35,25zM4221,3863l7-21 16-17 23-13 1,13-13,17-17,13zM3935,3172l19-12 26-15 46,4 0,12-32,23-39,2zM4614,4009l-4-21 6-28 42-9 4,17-7,22-21,28zM3607,3328l-12-26 22-30 17-12 15,15-2,32-19,19zM3275,3210l-6-13 7-11 11,1 14,5-4,16-11,4zM4205,3754l-33,7-36-16-13-16 2-20 38-2 28,25zM3345,3822l-10-6 8-21 12-5 13,6-2,20-11,6zM4119,3725l0-46 20-46 18-27 13,12-2,41-20,34zM3506,3091l19-18 34-8 38,11 3,22-28,18-40-8zM4404,2567l-3-7 9-18 13-12 9,2-6,26-11,12zM4226,2832l2-18 17-17 24-12 8,14-6,19-28,22zM3994,2758l-12-7 0-16 11-15 8,4 6,12 2,18zM3931,3056l21-17 19-8 31,20-1,19-25,16-23-13zM4338,2703l-3,17-56-11-15-20-11-17 52-1 27,12zM4577,2637l-8-28 8-16 22-21 26,4 1,37-24,16zM3717,2481l18-12 29-21 26,7 8,4-27,21-37,12zM3846,2569l15-12 19-11 36,5 15,10-38,16-32,2zM4140,2645l-13-13-8-21 5-19 9-8 14,24 1,27zM4425,2907l-19,5-26-13-9-8 5-11 12-3 24,16zM4595,2888l-17,11-21-9-19-17 8-7 23-3 14,11zM4421,3069l-19,0-17-5-19-14-4-13 33,6 18,7zM4689,2476l2-34 7-24 38-34 2,22-2,32-20,25zM4627,2646l-18-13 2-43 3-25 12,9 9,30 1,26zM4318,2747l-10,8-21-32 1-22 15-4 9,14 9,29zM4364,2531l25-24 48-18 33-3 18,14-45,25-49,8zM3999,2987l-2-18 29-19 30,8 20,23-33,21-28,3zM4410,3070l1-20 9-10 21,1 8,14-8,14-12,7zM4252,2700l-21-9-29-19-19-25 12-11 19,12 25,29zM4681,2533l16-30 19-13 31-10 9,5-20,25-27,20zM4163,2980l-14,0-8-18-2-21 13-2 14,14 5,13zM3679,2531l-8,6-19-13-11-11 8-8 15,7 12,9zM3622,2667l-6-8 1-11 11-1 8,2 2,9-7,10zM3930,2638l-22,18-35-6-44-17 12-27 32,4 53,11zM4250,2737l2-18 26-32 32-22 22,8-24,43-38,38z" fill="#F9E300"/>
<path transform="scale(.1)" d="M6277,4996l1-11 6,0 8,2 2,9-5,5-7,4zM6225,5070l-15-13 3-33 14-11 18,5 6,19-7,19zM6236,4671l12-16 21-3 22,9 5,11-18,14-29,8zM6475,4854l-23-12-17-30 7-48 24-7 14,36 1,46zM6602,4674l14-19 31-3 33,10-11,16-21,5-24,0zM6186,5414l-8,7-24-15-10-14 8-11 20,7 21,19zM6274,5380l-13-10-14-36 3-20 13,3 16,20 5,26zM6139,5202l1-9 17-9 15,11-1,9-6,10-22-2zM6389,4808l13-19 18-14 19,4 13,7-12,17-34,13zM6221,5284l0-11 7-7 17-9 10,4-3,16-25,13zM6558,6402l11-32 47-37 35-16 5,14-25,39-52,29zM6853,5955l-19,3-19,2-11-26 6-12 24-6 19,9zM6185,6096l-9-2-12-29 2-20 8-5 13,15 2,35zM6054,5641l-2-9 6-22 8-7 10,2-1,14-7,17zM6585,6429l-14,9-41-17-24-27-7-17 42,14 46,19zM5721,6140l-19-1-7-21-7-26 14,0 14,13 8,18zM5944,6370l-8-17-1-55 7-12 18-19 7,54-8,30zM6591,5926l-9-8 0-12 4-9 9,3 5,5-1,15zM5851,6097l-5-27 10-27 21-23 17,3-4,30-18,28zM5848,5920l-22-11-20-42 5-16 10,0 15,16 12,42zM6025,5574l10-11 8-7 22,3 2,10-13,14-26,1zM6392,5983l-1-20 7-34 17-23 10,3-8,41-8,18zM6238,6070l-9-26 6-40 15-37 14-11 2,48-10,31zM6881,5696l-11,13-29-24 1-25 9-14 15,11 21,24zM6188,6031l8-23 49-27 32,0 1,21-18,23-57,13zM6393,5607l-7-6 1-11 7-1 6,1 3,6-4,7zM5938,5800l2-8 24-20 17,3 3,20-9,7-23,12zM6726,5783l-16-13 15-47 29-57 18,12-11,53-16,43zM6862,5627l-21-2-21-35 2-35 22-3 13,19 15,43zM6690,6175l-25-1-13-45 3-55 13-11 18,46 8,38zM6798,5990l-1-11 2-15 13-3 8,3 0,12-11,8zM5872,5735l-9-10 10-16 19-29 9,9-2,18-17,27zM6663,5651l-27-17-19-18-13-46 11-1 34,31 13,31zM3595,5329l-9-2-11-11-8-24 3-6 16,14 7,13zM3426,4666l-9-4-10-14-2-19 8-3 11,13 9,22zM3434,4281l-11-1-18-25-8-17 16,0 16,10 12,27zM3590,4709l-13-8-13-25-3-21 12-5 14,17 11,38zM3881,5492l-33-27-15-24-2-44 19,3 16,22 11,41zM3433,5183l-15-12-12-16-4-15 5-8 12,9 19,36zM3630,5187l-19,4-15-27-16-34 13-1 21,16 21,33zM3330,4238l-13-12-7-10-2-15 4-2 9,9 8,15zM3874,5808l-7-4-18-24-8-19 6-7 15,16 13,19zM3454,5117l-24-6-13-21-1-27 24-8 9,15 9,25zM3345,4440l-9-1-15-19-12-25 12,5 13,8 12,23zM3517,4949l-31-15-17-37-10-41 24,12 22,17 6,29zM3622,5478l-29-16-14-34-24-60 12,5 25,22 28,45zM3370,4727l-9-8-9-13-4-17 9,0 7,1 13,33zM3688,4969l-13,1-19-29-2-18 10-16 23,26 5,25zM3448,5051l-24-6-9-29 0-17 15-2 16,7 9,34zM3374,4820l-17-8-29-40-10-30 11-3 28,23 23,40zM3867,5495l-11-5-15-18-2-15 5,1 10,5 10,19zM3809,5315l-30-14-9-18-1-23 12-4 18,17 6,14zM3746,5571l-12-12-21-23-11-26 15,6 8,1 19,34zM3900,5929l-18-11-24-52-5-29 16-3 27,34 19,55zM3452,4265l-18-11-8-19-9-24 8-12 22,23 13,23zM3360,5015l-7-2-13-11-2-11 4-6 9,8 15,16zM3325,4825l-30-29-28-36-20-66 26,9 24,29 18,41zM3584,4585l-13,12-43-60-24-51 23,16 43,31 16,41zM3265,4442l-13-5-18-13 0-17 14-12 8,9 11,17zM4077,6043l-8,10-20-38-6-21 10-12 13,22 14,35zM3784,5249l-13-4-10-12-6-20 8-8 13,14 11,25zM3631,4767l-10-1-14-17-2-18 5-2 13,12 3,10zM3351,4772l-20,0-6-18-5-22 18-11 11,17 12,25zM4174,6137l-18-26-13-30-4-34 4-13 22,45 12,25zM3754,5618l-20-15-18-21-3-16 5-5 20,18 10,16zM3596,5103l-12-1-20-28-1-19 14-4 18,11 9,26zM3878,5708l-11-4-11-17-14-35 12,5 11,10 13,28zM4058,6104l-12,4-9-9-2-18 6-11 15,5 7,20zM3617,4862l-28-22-16-22-13-35 6-2 31,20 10,28zM3790,5786l-9,5-29-34 1-25 9-14 21,25 23,36zM3965,5867l-14-1-22-33-11-26 12-3 17,15 17,23zM4356,3724l-11,6-31-15-14-21 21-1 20,7 22,15zM3362,3260l-20,0-62-17-41-19 21-11 21,1 52,17zM4084,3886l-11-32 4-28 30-32 9,16 2,25-11,25zM4564,3167l5-14 17-7 10,3 0,16-8,4-22,5zM3984,2960l-33,7-31-26-29-38 0-22 58,22 28,34zM3331,3397l9-8 12-1 18,5 1,7-16,5-11-3zM5565,4014l-23,5-16-9-17-22 9-12 12-4 26,25zM3456,3343l1-8 28-15 10,3 11,3-14,14-18,5zM5729,2557l-21-10-10-15-10-35 11-4 21,19 8,28zM4298,3802l-7-6-2-27 4-16 7,7 8,7-2,23zM5584,3870l0-27 3-18 27-7 12,7 3,17-27,26zM5894,2669l19-19 36-14 56-7-8,16-33,24-38,12zM3747,4144l-7-11 4-18 16-9 10,1-5,22-6,14zM3383,3240l0-10 5-14 11-13 4,8 2,8-10,15zM4852,2654l-14-11-8-31 3-19 10-1 6,16 10,42zM3737,3846l4-13 10-11 8,1 14,6-6,17-15,11zM5686,2640l-20-15 4-51 8-22 20,0 7,28-4,31zM3999,3879l3-26 38-26 24-2 10,12-15,24-45,25zM4964,3832l-4-16 10-22 7-12 8,2 0,17-10,23zM4233,3988l-2-10 19-22 14-4 10-1-5,17-17,16zM4041,3297l3-5 7-4 10,1-1,5-4,8-12,2zM5274,2622l-16,1-14-26-11-27 17-3 16,8 10,37zM4547,3545l-32-9-23-22-41-51 13-8 53,35 32,37zM5444,2777l0-11 10-20 13-9 4,5 3,9-18,23zM3631,3032l-8-15-2-20 4-14 7-10 8,25-2,25zM4656,3206l26-39 31-27 53-24 11,5-34,39-58,50zM5657,3155l-19-3-3-13 0-10 10-10 10,10 6,19zM4668,3972l-14-7-5-61 10-54 16-2 13,33-4,70zM3796,3961l6-8 26-7 11,6 2,4-13,12-17-1zM5387,2620l-2-8 10-16 11-7 5,7-3,10-8,9zM5038,2882l14-19 16-13 18-1 8,11-3,13-28,23zM4914,4226l5-19 20-28 24-6 6,7-19,25-14,18zM4228,3120l-15,4-28-23-13-19 16-19 24,8 26,35zM3389,3957l-7,14-13-1-8-10 2-12 11-6 11,7zM5705,3930l29-14 20-5 34,0-5,13-23,13-38-1zM5228,2944l-6-16 3-11 20-4 6,6-2,19-14,6zM3634,2715l-14,5-4-40 3-36 9,4 14,17 0,34zM4893,3266l-12,1-21-40-14-30 22-1 22,21 11,30zM3593,3299l2-14 17-18 8,4 11,8-3,14-24,12zM4905,4141l-15,12-67-10-16-17-11-19 56,6 22,8zM5852,3287l-1-9 6-11 12,3 9,5-3,12-15,10zM4782,3007l-17,3-24-13 5-18 9-15 27,10 13,19zM5308,2656l-8,8-27-5-19-15 7-11 17-3 21,8zM5037,3937l-3-27 30-52 22-15 12,10-5,38-26,36zM4503,4080l1-12 37-20 18,3 6,14-22,17-25,6zM4507,4018l-2-12 7-11 4,0 9-1-4,13-7,7zM6104,3795l-28,4-25-24-6-29 22-6 17,5 13,32zM5961,3071l4-9 9-7 15,10 1,11-13,5-17,0zM6985,4354l-26-6-27-20-22-27 3-12 39,16 29,28zM6663,3594l-27-28-9-23-11-55 20-1 20,39 12,31zM6111,3670l-17-13 20-50 25-7 19,14-7,27-11,24zM6049,4196l-12,7-19,3-20-25 6-15 25,1 11,11zM7185,3868l-8-3-10-1-3-13 7-6 5,4 12,9zM7246,3595l-8,4-12,0-6-6-3-9 9-1 15,2zM7129,3365l-8-16 1-17 13-18 13-2 3,17-4,28zM6661,2394l-12,2-9-9-13-15 12-5 9,5 13,12zM6968,2587l-27,10-66-9-46-30 20-19 25-5 73,21zM6976,2879l-20-27-8-27 10-28 18-8 15,22-3,44zM6012,4054l1-17 11-12 14-6 16,18-13,16-12,12zM6075,4208l4-24 29-15 21-5 17,13-31,21-22,6zM7232,2649l-20,1-22-8-9-13 2-8 15,4 22,13zM6616,3919l-17-10-13-43 4-21 9-11 19,30 10,31zM6036,4376l-1-10 6-13 9-3 6,4 0,14-11,12zM5878,3250l7-14 26-14 31,8 6,13-19,12-35,11zM5687,2493l15-19 43-41 77-13-15,30-18,22-76,40zM6637,2593l-8,1-32-8-9-9 5-11 18,0 19,11zM5866,3325l-9-9-4-33 12-20 7,6 8,13-3,20zM7016,3021l-4,5-20-7-11-10 4-8 19,0 12,4zM7086,2956l-10-22 6-31 12-30 10,3 5,28-9,28zM6901,3142l-6-16 11-13 14-8 12,9-1,18-18,9zM5906,2639l1-22 17-32 37-34 6,29-6,23-34,36zM6406,3496l-19,16-22-4-20-11-4-12 28-7 21,6zM6549,4372l8-25 25-9 15,3 6,17-7,20-33,1zM6777,3627l-10,14-27-9-31-13 7-9 16-6 46,12zM6965,4155l2-23 15-21 23-19 8,6-12,35-23,22zM7028,3733l-31-5-12-1-15-26 9-13 20,4 26,21zM6802,3120l-8-4-5-22 4-9 8-7 6,11 3,22zM7461,3435l-13,15-13-13-12-21 8-12 24-2 11,17zM6749,3866l-1-10 20-5 22,0 0,9-11,9-19,2zM6807,2845l1-30 19-28 39-20 19,9-18,37-30,27zM7253,4243l3-20 12-14 26-16 5,16-7,19-26,21zM6697,2609l-8-17-3-16-1-26 13,4 7,18-4,24zM6456,3220l-16-19 17-24 21-9 20,1 0,25-20,21zM6835,4155l6-11 25-8 13,1 3,11-15,8-17,1zM7424,2960l-12,9-22,6-32-13 10-9 20-8 21,5zM6900,4473l7-39 35-37 20-1 28,3-24,29-34,30zM6597,3962l0,9-21,1-20-8 2-9 10-9 27,0zM6220,3032l-15-12-5-24-1-22 18-18 14,18 9,57zM7038,3591l-1-15 10-16 23-21 10,11-11,23-13,15zM6206,4250l-10-3-7-14 4-17 9,2 7,6 3,15zM11003,5318l-1,12-33,34-23,15-1-7 18-25 22-17zM12114,5213l10,10-38,59-52,34-13-5 29-45 35-37zM11139,5492l-20,30-58,40-43,22-7-15 46-46 47-17zM11551,5301l-7,22-8,16-22,12-9,1 14-24 19-17zM12232,5233l3,8-28,35-26,14 1-17 12-14 24-25zM12347,5472l-11,37-56,57-36,24-21,6 35-49 52-53zM11461,5180l-10,18-46,41-43,10-17-6 37-32 58-29zM11416,5436l-5,16-31,38-46,38 1-25 29-36 34-34zM11048,5362l-9,19-12,24-21,16-9-5 12-28 14-18zM12446,5269l-7,28-17,24-16-2-18-3 8-23 30-19zM11383,5113l-15,22-43,26-16,4-21-5 20-21 51-21zM11922,5671l-10,14-31,23-18,5-14-2 22-20 29-16zM12192,5447l-35,25-53,35-36,14 1-18 24-16 73-41zM11635,5657l-17,18-31,25-38,16-5-16 25-30 36-10zM12578,5347l8,5-20,23-24,25-3-9 10-23 16-13zM11733,5974l-20,37-35,29-52,32 0-23 18-23 75-57zM11987,5316l-1,11-48,36-36,23 7-21 23-30 26-17zM11869,5940l-13,16-36,31-46,20 1-13 26-34 41-15zM12037,5276l7,12-46,28-56,24-3-20 48-33 30-16zM10959,5422l-4,8-7,7-7,2-4-5 5-10 9-5zM11480,5772l0,14-11,12-15,10-8-1 14-22 12-11zM11440,5923l9,13-15,29-23,11-8-17 6-21 18-12zM12031,5284l-18,20-19,16-18,3-3-10 20-16 14-7zM12372,5484l-5,13-20,28-24,14-9-5 21-29 22-20zM11486,5281l-3,13-14,11-19,7-6-9 13-17 12-10zM11040,5287l-14,23-51,45-38,25-11-6 22-35 63-41zM12065,5684l-1,13-15,8-19,6-5-4 11-15 16-9zM11843,5825l-5,18-17,19-19,3-5-14 3-13 19-13zM11859,6064l4,4-11,15-7,0-5-4 5-11 6-4zM11336,5826l-7,11-20,24-16,6-3-6 9-15 18-14zM11023,5320l-33,35-60,37-43,16-26-1 35-29 79-42zM12704,5321l-2,13-18,24-20,6-20-6 23-29 17-18zM11313,5264l-5,16-76,65-25,1-23,1 41-35 62-40zM11231,5755l-1,18-15,16-17,10-14-6 8-13 27-28zM11918,5927l-28,35-33,34-14,2-18-2 14-22 51-41zM11203,5603l3,7-15,13-10,4-6-1 7-18 12-8zM11876,5815l1,11-19,22-23,18 1-12 4-12 27-22zM12615,5056l-5,11-4,6-12,1-3-3 5-11 11-6zM11708,5442l-2,13-41,33-39,20 3-12 20-27 28-17zM11511,5268l-2,7-5,14-19,4-2-9 8-10 7-5zM12477,5200l5,6-34,26-21,7-17-7 22-17 42-24zM11591,5783l-9,16-28,26-16,9-9-1 11-18 28-25zM11830,5543l-10,23-22,19-16,17-3-12 16-24 21-15zM11509,5733l0,19-29,27-23,7-1-13 3-21 36-23zM12522,5354l11,16-46,48-20,6-4-17 5-12 29-29zM12412,5610l-14,20-14,13-23,12-3-4 18-20 13-10zM12639,5101l13,2-47,47-28,17-11-13 28-37 22-10zM12083,5374l-7,11-13,13-20,5-3-5 15-16 9-4zM11214,5631l0,16-13,20-22,9-10,3 10-21 20-18zM11847,5404l-16,26-19,32-26,18-9-10 7-26 38-38zM12350,5451l-10,19-18,19-27,14-22,0 30-34 14-8zM11658,5547l1,14-17,27-19,14-14-2 6-19 25-24zM11059,5466l3,14-31,20-37,11-9-5 25-22 31-21zM11905,5651l-5,19-21,15-30,3-8-9 14-24 25-7zM11779,5935l-1,10-11,10-16,12-6-5 7-15 18-13zM12467,5519l8,2-31,25-19,9 1-10 9-9 24-15zM12139,5652l6,13-23,37-27,18-16-4 21-37 24-24zM11237,5767l-11,33-27,29-31,18-11-10 24-31 25-18zM11860,5364l-18,26-29,18-62,32 6-20 14-19 53-31zM11680,6113l-7,14-11,8-10,5-6-7 11-16 7-6zM11485,5192l-10,37-34,25-61,47 4-18 21-41 49-43zM11367,5401l-9,16-23,20-16,10-8-3 12-15 35-30zM13918,3521l-6,24-23,23-26,14-13-19 26-28 27-22zM13457,3716l-12,28-18,20-32,11-3-8 13-22 27-22zM13871,4227l1,16-33,34-17,9-6-6 14-24 31-29zM13865,3992l-12,12-21,13-29,2-5-8 32-16 24-8zM13370,4002l-19,20-21,11-21,0-6-8 21-15 27-11zM13061,4058l-10,11-9,6-14,2-6-3 10-9 18-8zM13360,3609l6,24-23,20-21,9-13-10 15-23 16-17zM12941,4048l-4,12-25,22-39,0-5-11 31-23 21-8zM13330,3907l-11,11-12,12-17,0-12-2 17-11 25-15zM13291,4275l-23,25-24,7-41,3-4-14 27-18 39-15zM13323,3748l4,10-23,22-24,7-1-7 10-21 22-9zM12665,4098l-14,17-24,6-30,4 5-16 22-14 15-3zM13926,3461l-1,9-22,11-19,3-1-13 14-12 9-5zM12761,4223l-26,36-51,50-41,26-9-15 21-32 61-47zM13576,3542l-1,15-35,29-17,6-14-7 22-31 22-13zM13369,4368l-25,33-37,30-43,12 8-22 20-20 51-27zM13923,4146l-3,14-33,27-15,3-4-6 6-15 25-19zM13923,4171l-8,11-13,7-17-1 2-9 6-5 22-9zM12930,3839l0,12-38,28-43,25-2-11 17-23 39-32zM13827,3992l1,16-40,31-41,17 2-17 18-23 46-25zM13958,3870l0,9-13,14-24-1-9-12 20-15 18-3zM13503,3886l-10,21-19,18-24,10 3-12 14-17 16-10zM12761,4084l-10,8-27,11-21,6-6-8 27-13 18-9zM13356,4055l-13,18-21,19-35-1 0-15 14-18 35-16zM13429,4207l3,13-33,10-12,0-14-15 16-13 27-8zM13087,4094l-3,17-7,12-19,3-4-7 7-20 23-10zM13462,4332l-23,27-25,28-46,35-2-17 20-37 29-24zM13083,4221l-18,24-53,22-20,1-2-13 11-10 40-16zM12835,4233l-7,11-24,24-26,6-8-4 26-22 28-19zM12816,3877l-14,19-11,8-26,14-1-11 12-14 22-12zM13885,4156l-14,32-26,34-44,31-18,0 30-44 57-54zM13527,4261l7,11-58,31-43,11 10-26 24-25 31-6zM13256,3983l-10,13-15,8-20-1-14-3 23-15 18-9zM13216,4067l-8,15-16,17-17,1 0-12 9-10 23-16zM13564,4399l-14,21-26,11-17-4 0-12 17-17 27-5zM13160,3766l-4,13-57,26-70,10 18-19 35-23 54-12zM13234,3921l-19,25-18,13-52,24 10-18 26-22 38-25zM13819,3912l-2,16-40,22-27,4 4-13 24-25 32-9zM13705,3593l-12,26-9,17-25,7-14-4 8-17 28-19zM13214,3867l1,15-28,23-24,8-2-8 13-19 29-20zM13385,4331l1,18-18,14-26-1-14-3 26-31 17-2zM12657,4321l2,19-17,15-25-3-5-13 7-14 26-6zM13232,4309l3,20-43,26-33,21-32-4 48-49 43-24zM13705,3759l-6,27-31,36-38,13-14-6 15-32 62-50zM15202,3946l-5,0-6-12 1-10 7-5 7,8-1,12zM14174,3853l-1-7 12-12 14-3-2,8-3,6-16,13zM14136,2832l-7,2-3-21 7-28 8,4 10,15 0,21zM14422,3712l-14,0-24-36 2-14 2-21 33,31 12,22zM14951,3239l-20-10-10-18-6-25 3-15 19,18 15,25zM14765,2821l-1-12 18-23 41-13 4,16-15,17-30,27zM14589,3663l9-18 16-4 23,9 1,10-21,14-23-1zM14659,3311l-12-14 0-18 5-20 12-9 7,22 0,24zM15127,3131l-15,7-19-9-15-14-1-8 18-2 32,18zM15056,3872l-9-12-1-15-2-18 12,0 11,21-2,12zM15040,3681l1-16 19-5 23,4 5,10-20,16-18-1zM14785,3376l-11,3-11-10-1-9 3-6 10,2 9,11zM14703,3586l-8-1-14-6-3-8 6-5 7-3 13,13zM14390,3514l4-10 6-7 12-5 8,2-8,15-14,8zM15281,2827l-6-2-3-13 1-9 7-4 7,11-2,8zM14493,3514l-1-8 5-6 7-7 9,9-2,9-9,4zM14259,2925l-12-2-24-32-5-16 17-3 12,10 10,21zM15248,3892l-10-12 4-19 6-13 11,0 6,19-2,17zM15023,3341l0,8-21,2-21-9-5-8 14-7 25,7zM14688,2990l-14-1-12-15 2-9 14-2 11,3 3,13zM14818,3542l-1-6 9-8 12,0 6,7-9,6-15,5zM14532,2828l-2-10 4-9 9-1 7,6-3,10-6,8zM14997,2971l4-22 18-15 29-22 6,12-14,23-16,12zM14531,3048l-16,1-9,0-13-9-9-11 17-1 27,10zM10568,5118l-19-2 2-24 3-18 22,6 8,11-1,21zM9894,5205l0-13 19-12 10,1 8,6-7,15-17,10zM8740,5211l-11,2-13-34 4-14 6,0 10,4 10,28zM9901,5312l-3-6 5-12 9-4 2,7 3,6-10,10zM8283,5447l2-8 5-3 11,2-2,7-3,4-11,4zM9517,5507l-25-15-21-36-2-27 13-4 23,28 6,24zM10004,5305l1-9 16-5 11,1 3,16-9,9-19-3zM10976,5111l-9-4-8-11 3-8 7,0 11,7-1,5zM10133,5117l-7-7 5-16 14-15 11,5-3,17-11,21zM8694,5225l-9,13-28-1-21-11 1-13 29-12 17,8zM9682,5337l-22-13-6-21-5-38 18-1 12,12 5,38zM8603,5109l-17,1-16-14-5-17 5-11 20,7 11,16zM9563,5398l-18,4-21,3-13-9 3-14 19-5 22,8zM10105,5384l-14-3-13-24 1-14 16-8 10,14 10,27zM10843,5324l-15,1-11-1-1-16 7-14 11,4 15,16zM10986,5041l-14,8-37,5-10-10 3-14 20-8 26,3zM8269,5441l-1-16 18-36 16-10 13,18-7,19-13,22zM10124,5362l-10-7-6-14 2-17 6-1 7,11 3,19zM8416,5120l4-18 13-7 15,1 6,16-9,13-19,1zM9851,4965l1-30 8-19 32-25 13,15-18,36-20,15zM9825,5351l-6-6 0-8 6-3 8,4 0,4-3,9zM9261,4929l-17,9-13-4-19-14 4-10 26,3 12,3zM9627,5541l-8,11-37-10-5-14-4-18 40-2 16,9zM11509,3177l-19,4-29-32-1-27 22-1 17,6 20,22zM10057,2961l-22,15-25-3-20-14 3-11 14-15 42,12zM10799,2560l-10-5 7-15 3-8 12,6 4,12-5,12zM9187,2953l-15,3-15-14-18-37 17-4 20,5 20,26zM11424,3415l9-30 31-42 17-7 14,13-18,35-23,15zM10163,3047l-10-10-6-17 1-10 16-9 11,11-3,20zM8683,2910l-3-23 22-18 26-15 2,11-5,14-24,26zM9055,2774l-26-1-15-14-24-29 12-18 34,17 27,27zM9852,2821l5-14 19-3 11,4 3,9-9,9-14,6zM8810,2801l-34-6-35-17-19-31 3-12 37,13 51,39zM9191,3026l-16,16-35-4-28-12 0-18 43-13 26,16zM9368,2637l-8-9 14-19 22,3 3,14 2,12-18,8zM10428,2628l-10-13-5-27 4-19 5-7 12,29 2,23zM10149,2592l-8-14 13-19 34-4-3,15 3,22-30,10zM9602,3032l-16-4 0-24 12-18 12-3 9,25-7,18zM9526,2526l-16,7-17-6-26-21 7-7 28,1 26,16zM10724,2657l-11-5-14-17-5-19 11,4 14,10 6,19zM9515,2665l-9-8-14-35-2-44 13-7 17,28 9,54zM10045,3086l-24,7-34-21-8-18 17-18 16,7 30,17zM9289,2431l23-16 33,2 25,4-4,25-22,10-30-7zM8947,2800l-9-15-8-15 3-14 8-3 7,16 4,20zM9783,2633l-2-22 13-13 29-21 6,19-1,27-25,18zM10944,3210l9-19 24-31 13,4 11,6-4,16-34,22zM11125,2952l0-10 22-8 15-3 4,8-15,16-15,0zM9568,2755l-6,4-13-3-14-14 8-4 13-1 13,3zM9403,2363l3-8 11-4 12,1 0,11-11,7-11,1zM10390,3371l-18-15 1-32 6-18 23,1 8,32-8,22zM11437,3572l1-14 22-8 18,3 4,17-12,14-27-1zM9592,2932l-19,9-33-2-24-11 10-18 17-9 34,16zM11262,2913l-13,18-38-17-19-21 21-16 33-1 21,23zM11065,3534l-37,2-25,0-22-18 1-13 32,3 36,9zM11013,3090l-21,15-22-1-28-9-8-12 40-4 15,2zM11795,3141l-16,5-30-9-17-9 3-14 18-4 32,11zM10817,2859l-15,5-28-1-14-8-5-12 26-1 32,9zM10376,2576l-37-4-49-41-1-32 7-16 27,7 43,56zM10754,3441l-5-13 5-25 12-7 14,6-3,10-4,19zM8409,2817l-4-1-5-9 0-13 9-2 5,9 3,13zM11046,3133l1-22 22-14 32-6 1,13-13,25-24,2zM8706,2881l7-20 24-17 31-3-3,16-6,21-31,11zM8565,2631l-35-29-15-29-6-48 22-11 26,46 17,42zM9825,2445l5-10 18-13 12,6 7,6-11,17-14,1zM10337,2474l3-18 11-8 26-2 0,18-14,13-18,8zM10394,3191l-26-7-23-55-4-33 19,2 20,20 12,35zM9479,2873l-4-11-1-8 8-7 14,3-1,11-4,9zM10301,3048l-14-9-8-26 8-17 20-8 11,31 4,17zM9402,2731l-14,13-23,1-13-20 7-17 28-2 14,11zM9863,3183l-12-1-8-10 2-10 12-8 12,13 4,7zM10681,3357l-6-10 9-38 12-22 5,15 0,29-6,14zM8046,2903l-14,12-38,5-32-14-26-15 49-9 42,7zM10577,2463l-6-18 9-13 22-3 2,10-2,19-9,7zM10436,2730l-10-7 23-30 28-9 6,4-14,23-22,24zM10485,3038l-12-17 6-18 7-8 12,3 2,18-1,15zM9241,2728l-11-3-5-12 4-5 8-6 8,10 1,8zM11682,3274l-18-10-32-30-5-27 12-11 16,16 24,34zM8909,2826l-22-6-7-21-5-19 11-13 29,24 0,24zM9382,2437l6-10 11-1 17,2 6,11-19,9-16-2zM10735,3533l-5-7 0-10 5-11 10,0 3,9-5,15zM10890,3248l-12,1-7-10-4-21 15-8 8,10 10,20zM10693,3418l-14-14-9-17-7-20 10,3 17,17 5,17zM10193,2845l-18,1-9-26-5-33 19,4 12,9 4,23zM11231,3123l-18-14-20-21-14-40 11-2 22,18 28,41zM3718,3923l-2-22 19-14 29-19 19,16-26,26-29,23zM4078,3587l-1-10 23-17 34-10 0,17-22,18-20,10zM4136,4082l-18-1-15-8-7-18 5-5 15-3 16,16zM4276,3836l-16-16 13-50 30-43 8,27 4,36-19,46zM4056,4019l-15,5-16-5-8-20 3-10 17,6 18,16zM4163,3547l-8,6-16,2-13-14 7-8 10-3 13,2zM3968,4016l18-12 60-9 40,10-16,22-41,7-37,0zM3756,4131l5-11 16-7 17-3 2,15-11,6-21,6zM4666,4196l9-19 40-24 29,1 10,8-35,33-40,10zM3541,3335l-27-8-3-39-2-25 16-17 25,29 4,42zM3588,3483l-1-15 24-20 28-4 4,15-19,21-23,4zM4024,3674l38-32 30-23 39,0 21,9-53,37-27,9zM4423,3377l28-19 57-23 15,13 27,16-47,22-59,7zM3619,3756l-12-21-3-22 13-27 28,5 7,15-3,31zM4285,4141l-20-11 39-72 27-23 16,10-9,45-34,47zM3510,3627l-10-26 19-48 26-33 16,10-3,50-21,22zM3560,3532l-17-20 2-57 11-38 20-1 16,56-5,35zM3741,3968l-18-1-7-28 2-19 18,0 17,17-3,21zM4346,3166l-15,11-19-1-23-14 7-14 14-14 37,16zM3545,3475l3-16 13-8 29,2-3,17-10,15-26,7zM4133,3282l13-23 22-8 28-3-1,24-8,12-36,6zM3401,4210l-4-14 9-11 10-1 13,2-1,16-16,12zM4445,3309l5-24 23-10 14-3 10,11-15,14-18,12zM4223,3224l-38-2-34-13-17-21 5-22 33,4 35,23zM3982,3203l-16,1 7-63 23-30 21,15 11,13-21,68zM4595,3520l-2-13 21-15 10-4 5,15-3,7-21,15zM4326,3573l-3-8 9-13 9,3 6,7 2,10-13,3zM4701,4004l-25-29-5-37-1-44 26-4 20,33-4,70zM3722,3520l2-24 10-18 22-25 8,18-2,19-14,24zM4271,2744l4,9-55-1-22-14 2-9 39-12 20,9zM4072,2400l15-19 12-8 33-6 3,19-16,17-24,2zM3600,2817l3-22 19-24 33-4 20,5-22,38-38,12zM4404,3058l-31,6-16-13-2-26 12-20 29,9 4,23zM3776,2614l6-33 19-25 27-23 21,6-22,42-30,31zM4017,3056l-21-22-9-27 10-37 14,2 21,30 0,24zM3895,2580l-14,18-36,9-45-11-13-27 58-17 40,9zM4468,2606l5-13 26-7 22,1 8,21-16,6-29,9zM3967,2509l6-14 15-31 18-10 8,3-13,30-16,20zM4265,2488l8-17 29-4 20,0 2,12-17,19-30,4z" fill="#4B939F"/>
<path transform="scale(.1)" d="M6432,3212l-4-9 36-19 8,7 16,13-22,17-28,3zM6437,3937l-17,1-25-14-5-13 15-17 12,8 16,18zM6185,2553l-15-24 8-36 33-37 8,13 8,42-16,16zM6350,2450l10-9 22-3 20,4-7,6-17,7-24-1zM6213,2526l-22,3-37-14-44-23 14-18 44,7 18,13zM6981,4301l-7-29 8-10 19-8 9,6 2,13-20,27zM5922,2475l-1-15 17-30 24-25 7,15-1,15-32,38zM7127,4401l9-27 14-26 32-24 24,1-21,43-34,27zM6519,2455l-14,4-26-19-10-19-4-16 33,12 15,14zM6531,3112l-19-15-11-25-7-23 7-12 25,31 8,28zM6633,2409l8-15 37-15 19,2 2,27-13,10-46,9zM7316,3799l19-15 52-5 38-2 3,25-41,8-48,6zM6575,2667l-11-1-10-8-8-15 13-5 8,2 7,13zM6583,4267l-11,0-15-24-13-29 17-3 16,16 15,30zM7147,2839l-19-10 17-69 15-8 27-10-1,35-19,45zM5866,2645l-25-28-13-30-3-43 11-14 23,38 17,42zM6676,2797l2-17 41-21 30-7-7,14-11,20-46,19zM6757,3498l11-33 25-28 28-20-1,15-9,33-24,29zM5874,3225l-16-5-12-33 2-41 20-2 17,25 12,51zM6703,3350l10-28 27-23 30-2 7,9-18,28-30,17zM6008,4175l13-19 34-13 33-7-3,21-17,17-39,12zM7187,4413l-9-5 10-29 10-18 7,7 1,19-13,24zM6688,4060l-7-5 1-12 8-3 6,2 1,9 1,5zM6007,4429l-11-6-11-15 6-6 8-5 11,9 5,16zM7311,3042l-10-12-6-22 2-21 8,1 7,12 4,20zM5916,3378l-17,6-11-3-17-18 8-10 16,3 16,5zM7049,3090l-14,7-24-10-15-18 20-17 12,2 20,24zM6617,2436l-7,3-14-32 5-16 7-3 13,12 5,26zM7191,2522l8-12 12-13 14,5 5,5-5,18-17,1zM5712,3231l-4-11 23-7 18,0 4,9-12,8-25,7zM5858,3152l-19,7-19,0-20-10-11-12 26-2 26,7zM6244,2445l-35,2-43-35-22-26 10-24 36,18 40,24zM7340,4072l2-9 27-10 21,2 3,5-20,12-22,6zM6820,3342l-12-14 9-34 15-23 15,2 4,30-12,34zM5894,3271l0-10 5-19 10-17 6,1-4,22-7,19zM5970,3653l20-14 19-8 28-1-5,11-20,14-22,4zM6097,3451l-14,6-22-1-9-11 0-10 16-5 22,11zM7206,2915l-20-5-24-35-7-35 17-2 24,13 18,42zM7126,2923l-3,7-20-14-13-12 12-7 10-2 20,18zM7062,3214l-13-11-11-38 12-12 13-18 12,41 0,16zM6066,2588l-8-9-5-18 5-5 8-11 10,15-7,19zM6195,4095l0-25 18-14 26-12 11,16-12,20-19,16zM6494,3541l-13-49-4-31 28-51 27-12-2,70-15,38zM6751,2463l-23-6 10-49 17-19 23,1 6,18-14,42zM5892,3449l-54-2-34-24-27-44 22-6 20,3 52,40zM6360,2822l13-12 14-9 17,2 0,9-16,11-11,3zM7234,2752l7-13 16-7 10,1 5,14-11,11-12,2zM5947,2820l-4,8-28-17-6-12 11-3 11-1 18,17zM7181,3144l12-17 35-11 38,3-6,19-19,16-34,9zM6657,3063l-10-2-3-11 5-9 10-2 8,10-3,6zM7434,3532l-11-14 13-19 13-17 23,14-2,15-17,17zM6820,2942l-17-9-2-16 10-15 10,3 19,12-8,13zM6799,3060l-23,17-19-15-19-38 15-15 34,8 23,33zM6278,4067l-9,9-18,5-17-9 4-13 21-8 17,4zM7371,2856l-4-10 10-6 8,3 2,9-4,6-9,3zM6941,4072l-18-2-13-23 9-15 12,0 10,4 13,18zM13779,3870l-27,44-40,34-25,13-18-3 19-37 44-31zM13311,4398l-6,20-31,20-17,0-11-3 22-31 26-7zM13383,3827l-7,18-18,23-38,16-11-12 15-24 42-29zM12811,4070l-16,13-45,18-32,7 4-16 28-20 47-17zM12973,3848l-12,12-37,17-34,3 12-15 19-15 38-8zM13492,4037l-30,27-42,23-73,5 11-16 50-31 39-8zM13085,4050l-12,29-48,20-47,13-6-12 45-29 50-26zM13351,4206l-7,31-50,39-43,20-16-20 42-39 33-16zM13403,3718l-6,28-57,57-29,17-13-5 29-53 52-38zM12581,4014l-22,26-43,14-40,7-28-8 44-24 52-18zM13385,4007l-9,16-40,18-11-5-21-1 29-19 47-20zM12929,4185l0,6-14,15-19,8-6-5 10-11 22-14zM13403,3699l12,15-83,45-17-1-21-5 54-41 50-23zM12884,4131l-42,29-32,20-34,1-19-8 30-19 75-27zM13467,3663l-7,18-18,7-20,5-15-11 16-14 29-15zM12670,4303l-23,24-38,26-44,11-3-14 24-20 36-23zM13785,3608l-16,14-23,8-12,2-13-4 26-15 28-10zM13961,3449l5,5-12,13-21,9-3-4 10-17 18-13zM13058,3885l-4,17-28,17-29,15-16-1 23-28 35-18zM13141,3777l-5,17-24,15-22,7-19-4 24-19 30-16zM13100,4342l-23,25-19,11-28,1-10-8 27-14 29-12zM13785,4122l-13,20-20,11-20-2-3-9 13-13 17-5zM13682,4166l4,10-35,25-28,13-7-5 16-22 38-27zM12635,4164l-9,15-9,13-28,12-2-8 11-17 22-13zM12770,3896l-5,8-6,3-15,4-3-6 10-11 17-4zM13889,3934l-4,8-20,18-16,8-12,1 11-17 26-17zM13495,3909l-29,30-28,22-49,12 0-15 22-21 43-18zM14191,2803l6-8 19-7 15,3 0,10-10,6-31,2zM14859,3411l8-18 17-7 11,5 3,8-6,13-19,2zM14529,3773l-10,8-13-16-3-12 7-8 15,8 6,14zM15069,3278l19-22 20-3 39,0-5,9-24,19-25,0zM14492,2802l-8-6 7-27 13-23 9,9-2,20-9,28zM15280,3573l-4,1-11-21 1-11 5,2 8,11 5,14zM14108,3360l2-5 19-3 8,3-1,7-9,9-19-3zM14971,3146l-20,7-15-1-27-7 3-15 12-4 37,7zM15175,3821l-5-11 4-13 18-19 4,11-4,13-11,19zM14232,3402l-17-6-9-7-11-15 10-5 14,7 12,14zM14363,3040l-12,12-18,2-11-11 6-7 13-12 12,8zM15224,3544l-15-13-5-23 3-23 12-7 10,12 1,31zM14997,3129l-7,9-15,4-11-6 0-13 6-6 16,1zM14970,3402l-5,10-28,2-29-13 1-19 21-2 29,4zM14650,3429l-14,5-12-19-5-32 13-4 21,20 6,22zM14558,3924l-10-4-11-9-3-13 5-7 15,10 4,8zM14645,3360l-4-11 2-14 5-12 7,4 2,9-5,14zM14607,2792l-3-10 18-21 12-7 4,7-9,16-16,16zM15114,3845l-8-10-1-16 6-11 7-5 10,20-6,21zM14592,3377l-28,17-35-4-26-10-9-21 42-3 29,9zM14600,3107l6-15 19-5 12,11 0,14-3,11-18,4zM14245,3903l-13-8 19-26 19-11 4,8-3,19-13,16zM14731,2993l3-9 3-8 10-3 7,6-2,7-11,7zM14951,3748l-14-13-4-14 0-22 15,7 8,11-1,16zM14763,3057l-5-7 7-19 14-19 11,8-3,16-9,26zM15126,3178l7-10 21-9 18,1-5,10-15,7-17,4zM14200,2859l-14,0-4-28 11-8 9-6 11,11 1,26zM13942,3389l-6-10 13-8 9-2 4,10 1,7-12,7zM14808,3276l4-15 40-15 19,5-5,9-7,13-34,5zM14302,3630l-5-10 23-14 23-3 2,12-10,13-19,5zM14826,3569l8-10 23-13 22,1 12,5-21,11-29,10zM15192,2973l8-8 17-10 35-2-7,16-21,13-18,3zM15276,2877l-11-21 1-13 4-20 7-17 9,27-3,23zM14607,3059l7-13 17-2 19,5-3,12-15,13-12-6zM14344,3233l-4-20 12-24 20-24 4,11-3,19-17,37zM14714,2750l-2-9 2-8 5-6 7,2 3,9-4,7zM14251,3905l4-11 23-12 32-5 1,17-13,16-31,8zM14015,3026l-25-5-31-22-6-19 4-16 29,6 32,39zM14829,3577l-18,4-26-10-6-19 11-6 14-3 25,18zM14617,3859l-15,5-17-16-3-9 3-15 19,3 14,18zM15130,3202l-16-13 16-26 12-3 11,10 4,22-14,12zM15258,4004l4-15 21-5 11,11-6,6-8,13-18-3zM14476,3465l5-26 15-27 41-35 0,16-7,26-31,33zM14076,2866l-10,1-9-2-4-9 4-5 6,0 14,9zM14810,3314l-11-6-8-15 4-21 13,0 9,3 0,26zM14694,3297l-14,4-20-10-12-11 0-8 22,0 30,19zM14827,3898l-8-1 0-11 7-11 5,3 8,8-3,11zM14306,2999l-9,7-37-22-10-25 17,3 29,3 6,14zM14429,3709l-8-12 2-13 18-9 8,9 3,11-11,6zM14316,3445l-4-8-1-5 8-10 6,5 4,5-4,8zM10558,2485l-9,9-14-2-6-14 6-14 11-2 15,11zM10827,3068l-6-11 3-5 11-6 11,7-5,12-6,9zM10548,2545l-10-3-30-44-3-27 19-4 17,15 17,46zM11318,2820l7-21 14-13 21,7 0,22-1,15-37,2zM10172,3048l-15-5-2-10-3-18 10,1 12,10 3,10zM9446,2874l-12,0-24-11-18-20 11-7 21,1 26,28zM10853,2739l2-13 18-11 25-3 3,17-14,10-23,9zM11390,3083l-33-7-31-61-4-23 9-17 33,19 29,58zM10822,2557l-17-12 1-28 23-15 18,6 7,21-21,21zM10743,2567l3-15 12-25 28-9 6,11-14,29-17,8zM8678,2768l-7-2-7-6-3-12 10-2 6,4 3,8zM10837,3252l-5-28 7-21 18-3 8,12 3,22-10,13zM10085,3303l1-22 16-6 16,3 5,12-11,13-13,6zM11460,2987l-13-5-12-16-8-17 0-15 25,23 5,17zM10429,2818l3-10 15-9 9,0 8,8-10,8-13,6zM9715,2468l-30-3-41-17-15-19 7-13 29,0 33,21zM11117,3140l26-18 27-10 24,12 0,14-15,11-29,0zM8103,2886l-17-10 2-32 20-20 17,10 1,21-8,22zM8942,2891l4-19 23-22 24,10 15,15-29,18-24,2zM10869,2851l-3-9 11-14 16-4 5,12 1,10-17,15zM10892,2749l18-11 61-14 31,4-14,21-27,14-43,7zM11354,2940l-14-9-1-49 6-16 21,3 3,28-7,28zM10717,3349l2-16 2-20 25-12 8,19-2,19-16,5zM10536,3097l1-8 10-6 12-5 1,7-5,12-10,1zM9098,2835l-16-3-4-44 6-13 7-10 13,35 1,22zM10239,2366l-5,13-14-4-8-9-2-10 19-7 10,2zM10944,2656l9-14 13-1 8,1 2,9-6,6-14,0zM10655,2892l9-12 19-4 20,9 9,14-28,19-19-3zM11677,3392l-6-31 36-61 32-19 14,1-8,35-36,41zM10626,3515l8-18 39-19 44,1-10,17-12,17-35,4zM11054,2763l-15-3-16-11 1-11 7-12 15,13 14,15zM10823,3075l-4-13 9-16 10-8 7,6-5,13-6,14zM11649,3373l15-34 30-12 25-5 9,13-10,17-38,13zM11796,3433l3-23 41-38 29-6 7,16-17,26-37,26zM10852,3266l-14,8-34,7-30-26 19-13 17-8 37,14zM8390,2372l5-9 9-3 23,4-3,10-16,6-9,0zM9640,2829l0-13 29-28 12-7 13,2-6,23-32,20zM9269,2912l-9,3-8-5-4-8 6-6 7-1 10,13zM9150,2595l-8-8-3-27 12-19 10,5 3,24-4,26zM9377,2566l-22,7-17-8 4-22 19-22 16,18 14,21zM11112,2935l-6-30 5-36 11-6 18-4-4,33-3,25zM11326,3563l-15-21-1-26 7-35 17,16 16,8-9,37zM10789,3358l-2-14 8-15 12-5 3,7-2,17-8,7zM11163,2777l-3,18-23-7-25-11 8-19 23-12 26,15zM8831,2851l-17-29-8-11 16-31 12,8 15,14-7,36zM10073,2778l-29,7-42-8-23-14-9-19 29-4 59,22zM10375,2813l1-14 18-2 12,3 11,9-17,11-15,0zM9854,2663l-16-14 2-54 21-24 23-5-2,30-12,59zM11734,3287l-6-13 30-39 32-11 10,17-20,32-25,20zM10483,2934l16-25 42-7 35,4 17,16-44,19-43,5z" fill="#7FB272"/>
<path transform="scale(.1)" d="M11211,5344l-10,16-25,21-24,9-7-7 14-17 39-22zM12192,5580l-8,16-35,25-16-1-4-8 16-17 33-16zM11768,5261l0,9-9,14-9,6-9-7 3-14 13-11zM11746,5451l-14,19-18,16-21,11-11-3 22-22 28-16zM11337,5542l12,10-52,71-50,43 3-22 13-33 45-45zM11473,5927l-8,17-16,23-12,7-16-8 11-23 21-21zM12307,5625l-4,14-11,16-17,8-12-4 12-13 25-25zM12664,5357l-10,16-13,8-25,9-6-8 22-17 13-7zM11370,5965l-5,16-14,15-10,3-5-5 9-16 11-7zM11717,6112l-2,13-9,7-12,7-10-1 10-20 10-5zM11770,5791l-11,25-12,18-30,34-18-9 16-34 24-19zM11929,5948l0,20-56,38-66,36 3-19 55-43 45-36zM8612,5463l-18-8-6-12 11-20 6-5 11,16 2,22zM10068,5060l-14-2-27-17-7-19 15-4 12,5 22,23zM10615,5213l8-20 28-19 46-8 9,7-35,38-26,0zM10063,5274l-5,7-18-1-7-12 8-6 12-2 12,6zM9219,5347l3-10 9-3 9,7 1,8-9,3-9-1zM10699,5165l-4-4 7-11 7,1 7,7-1,6-11,6zM10464,5199l3-16 10-6 14,5-1,10-2,10-13-2zM8985,5077l-1-16 15-34 27-15 4,10-9,28-25,22zM9121,5466l-21,9-30,2-17-5-13-15 35-5 35,1zM9182,5594l13-15 15-16 18-6 9,10-15,15-22,14zM7975,5637l-1-20 28-5 33,8-3,15-23,13-35,4zM9547,5125l-9-20 28-38 25-14 25-1-14,30-36,33zM9581,5009l-20,0-13-9-1-23 11-12 14,13 13,23zM10496,5243l3-12 9-5 16-2-2,8-3,6-16,9zM9155,5417l-11-6-9-9-5-23 7-4 13,11 11,17zM9300,5082l-10-11-5-20-1-19 9,6 9,14 0,21zM10407,5524l0-13 13-11 9-2 8,5-5,13-15,6zM9607,5636l-7-8-10-19-1-18 14-1 7,14 6,20zM9209,5526l-18,12-28-1-19-18 1-18 18-7 25,16zM8957,5225l-13,11-13,1-12-13 7-11 11-8 19,10zM9089,5079l-16-10-9-38-5-24 18,3 11,2 11,52zM10539,5456l-27-24-11-15 1-36 18-19 16,23 8,34zM10567,5128l-16-2-17-2-11-13 6-11 15,3 15,8zM10672,5511l-9-1-7-22 6-15 8,6 6,7 5,22zM8774,6162l-10-2 2-38 14-19 20-10 2,29-11,40zM8577,6118l4-12 14-2 17,2 2,10-18,11-11-3zM8762,5556l-14-5-12-12-14-24 17-5 10,5 16,25zM8661,5578l6-18 33-3 16,13-4,13-22,12-12-3zM9234,5738l-5-27 6-21 19-26 16,12 1,38-12,27zM8330,5645l6-9 24-10 10,0 2,10-6,9-21,2zM8332,5545l-18,1-34-8-1-20 6-13 22,4 25,12zM8487,5673l8-11 22-3 34,0 9,8-35,13-33,2zM9466,5758l-15-8-24-27-5-25 11-1 20,18 17,28zM8986,5855l-10,0-13-9-17-22 13,0 13,6 18,16zM9171,5875l-11,8-26-10-21-18 2-9 22,4 31,16zM8270,5637l-18,18-16-16 0-12 8-15 18-5 15,20zM9299,6114l-10-12-12-34 4-14 10-4 6,20 10,32zM9405,6098l-23-1-13-34 5-22 22-8 17,28 1,24zM8138,6013l12-21 15-5 28,1 9,11-22,20-23-3zM8607,5864l-10-9 5-21 7-11 17,1 4,14-6,22zM9053,5672l-15-2-19-15-10-15 2-9 25,12 17,11zM9412,5866l-5-31 17-34 27-22 10,12 8,32-37,35zM8490,6123l-6-5 6-15 11-10 6,11-3,10-3,6zM8373,5746l0-26 17-16 29,6 6,17-9,15-20,8zM8804,5960l-16,24-35,5-47-17 2-21 37-11 42,5zM8325,6070l-11-4-14-31 9-8 11-14 16,19-1,26zM8141,5955l-11-2 19-57 29-34 23-2-3,31-29,57zM9392,5893l-13,2-17-26-19-31 22-5 25,21 6,27zM8649,5670l-7-6 15-22 25-14-2,13-11,20-18,16zM9310,5960l-3-19 44-26 23,4 12,17-16,18-49,8zM9001,5548l-15-18-13-46 11-25 16-18 21,38 0,49zM8669,6014l-6,6-9-4-7-8 8-7 5-3 10,4zM11751,5990l1-11 8-7 7-2 4,12-3,12-11,2zM9941,5881l1-11 20-12 9,1 3,8-7,12-21,6zM11036,5864l4-15 5-10 14-2 13,4-1,15-19,11zM9468,5970l-4-17 10-29 22-34 15,11-1,35-17,23zM11219,5771l11-20 29-3 12,2-2,19-9,6-26,6zM11206,5906l-7,4-7-5 2-9 3-7 11,6 1,6zM9578,6048l-36-1-51-14-21-22 10-13 43,2 41,19zM10013,6014l-17-1-35-31-14-16 16-15 20,0 31,36zM10450,6032l19-29 61-3 17,7 25,21-44,9-47,6zM9477,5936l-2-22 1-29 24-33 10,15-6,27-9,30zM9758,5758l10-9 38-4 23,3-5,11-10,10-42,2zM10537,5901l-14,9-34-11-8-17 13-15 18-9 26,30zM10625,5840l-6,1-1-18 8-19 7,3 7,17-4,15zM11548,5843l-28-9-6-37-2-24 23-1 18,16-1,35zM9511,5908l-1-23 6-25 11-16 8,13-2,17-6,19zM10104,6026l-27,2-14-3-20-16 0-9 22-5 35,15zM12711,5953l4-10 17-4 20,9-3,9-11,14-27-5zM9928,5727l-27-17-6-42 5-14 12-12 20,16 7,43z" fill="#E37100"/>
<path transform="scale(.1)" d="M9108,5640l-5-13 10-16 20,6 10,12-13,13-13,6zM9077,5880l-8,9-17-2-8-10 4-6 11-1 9,1zM8029,6154l-18-24 5-27 16-53 21,7 5,51-11,46zM9400,5538l-9,0-12-7 3-6 9-7 8,4 7,8zM9163,5809l-9,9-23-8-6-10-4-7 22,1 16,10zM8903,5830l-2,8-18-8-11-14-3-12 22,6 10,9zM9499,5523l-11-3-8-5-1-9 11-9 6,3 7,14zM8545,5940l-7-11 0-15 6-13 6-1 2,12-1,28zM8829,6023l-9,5-16-10-16-18 14-5 15,1 14,17zM8638,5719l-39,1-46-10-28-17 15-12 45-4 16,13zM9126,5987l-19-4-12-10-10-16 7-7 11,7 17,18zM8187,5541l-3-13 26-8 32-7 6,14-27,16-18,10zM8814,5653l4-11 16-11 23,3-3,15-8,19-20,0zM8773,6133l-17,23-40-1-15-17-9-21 27-9 42,1zM8669,5922l-13,2-12-4 0-11 7-10 12,3 7,8zM9099,6020l-17-9-23-31 9-14 17-4 14,18 1,25zM9245,6111l-5-11 19-16 7,1 13,3-8,14-14,11zM9274,6091l-7-12-1-14 7-4 12,0 0,10-4,15zM9142,5517l-19,10-39-1-12-6-5-15 29-4 31,5zM8688,5577l8-11 10-6 11,3 3,12-8,8-14,0zM8947,5648l11-8 11-3 15,1 6,7-11,9-18,3zM8643,5912l5-9 25,0 20,6-4,8-18,8-16,0zM8595,5956l17-7 20-9 26,8-8,10-16,10-17-4zM9287,6105l-5,11-34-1-32-15 10-8 11-6 38,6zM9265,5893l-25,10-24-12-10-14-5-23 31,3 15,11zM8877,5828l-16-1-10-6-13-14 13-9 12,5 18,17zM8156,5880l-10,5-30-17-13-10 10-12 20,6 19,13zM9008,5625l-21-10-5-35 9-30 20,8 12,13-6,46zM9459,6168l-13-1-6-21 4-29 9,5 9,15 5,25zM8778,5826l-1-12 24-7 18-4 12,6-26,19-14,6zM8374,5858l-20-4 1-34 12-28 12,2 20,30-8,22zM9123,6106l-6-11 6-22 13-4 7,10-1,13-7,15zM9006,5628l6-19 37-23 12,4 21,3-35,25-19,8zM8981,5961l-9-21 21-31 19-6 22,7-17,34-21,26zM9138,5610l7-29 17-38 29-15 1,20-8,29-21,26zM8378,5533l-7-4-7-25 0-13 4-2 10,9 9,27zM8307,5709l-5-16 17-23 25-29 15,10-10,33-9,21zM8374,5889l-8-12 11-19 11-1 13,1-2,13-11,19zM8160,5635l-27,2-29-12-11-24 7-12 28,3 17,18zM9402,5686l-3-30 6-60 28-52 4,28 5,41-10,47zM8950,5660l-22-8-18-20-18-26 16-2 16,12 23,30zM9049,6005l-8,8-18,1-14-9-6-18 27,0 21,6zM10367,5983l-18-8 0-57 14-12 15,2 4,35-9,25zM12226,5837l-11-2-5-19 3-22 10-6 11,20 1,15zM10711,5737l-21,0-21-24-15-40 23,6 12-1 24,36zM9800,5920l6-11 7-10 14,7 4,15-10,9-11-1zM9927,5952l-8,5-12-13-1-14 6-9 10,10 7,16zM10177,5951l-9-19 5-34 28-23 5,20 5,23-19,20zM11370,5872l5-12 18-7 17,0 9,2-19,18-13,5zM10271,5927l-18,3-18-22 3-28 13-4 18-2 17,45zM9873,6057l-20-3-12-44 14-25 15-13 12,35 1,33zM12128,6023l-5-9 12-21 29-23 7,11-7,27-28,19zM11515,5916l-2-15 25-31 32-29 8,14-25,39-19,17zM10009,5714l0-29 24-24 26-6 24,9-24,26-40,28zM11746,5789l-7-10 7-26 18-4 13,9-1,20-8,17zM12090,6054l-11-26 29-65 17-30 26,4-10,64-23,32zM10260,5766l-19-28-6-24 2-35 19,0 13,33-1,32zM10064,5977l-11-16 5-48 16-29 10,12 9,34-10,29zM11573,6041l-27-4-34-42-20-28 27-2 18,11 27,38zM12315,6009l7-10 11-4 14,3-5,10-8,5-11,2zM11997,6019l-2-9 10-11 7-5 8,7-3,9-13,9zM12611,5908l0-9 17-5 14,4 2,13-15,6-16,0zM12388,5893l-17-22 5-16 17-28 23,8 1,28-15,17zM10793,5966l3-19 4-13 23,2 9,10-5,11-17,10zM11765,5778l-24-10-2-20 10-7 23-6 10,8-3,31zM10904,6056l-9-13 2-22 15-27 15,10 10,11-20,48zM12061,5923l-7-12 5-21 8-15 9,9 4,9-7,21zM12936,5849l-7-15 16-29 30-32 10,19 4,28-24,17zM9961,6080l-16-12-9-38 5-36 18,2 8,18 2,44zM9508,6124l-15-17-10-8-6-26 9-11 17,25 6,14zM10091,5815l2-27 23-67 24-25 20,10-5,32-33,59zM10765,6067l-11-8-2-24 21-19 14-1-1,24-12,28zM12159,5908l-20-3-9-19 15-19 10-4 17,10-6,26zM9916,5781l0-14 31-18 26,1 1,19-17,11-37,12zM12505,5891l-40,1-24-5-35-30 13-28 27,9 53,36zM9790,5872l-29,6-22-35-24-42 14-15 42,25 34,58zM10962,5974l-25-7-15-17-14-30 22-21 25,31 15,32zM10911,6051l-34,8-30-17-28-23 0-14 38-1 50,32zM10286,5873l14-20 46-14 47,3 19,20-47,14-62,11zM10495,5887l-17,1-9-59 7-13 16-14 13,38 1,51zM12038,5900l10-21 7-15 25-14 5,10-9,18-17,18zM12484,5991l-15-5-33-26-23-54 27-3 32,19 22,39zM10808,5804l-11,12-19,3-18-10 3-10 13-9 26,6zM10808,5934l-10-8 21-46 23-17 11,5-5,31-21,40zM9838,5837l-3,7-12,1-3-8-1-11 10-2 8,3zM9985,5705l-13-13 6-19 16-16 10,1 3,25-10,22zM12848,5919l-5-17 16-34 9-15 15,8 2,29-20,23zM9556,5885l6-26 12-20 16-17 14,6-8,29-20,19zM12376,5953l-10,6-32-9-22-31 19-2 28,2 18,12zM9690,6112l-14-3-19-30 2-7 3-14 19,12 13,31zM12373,6053l10-37 9-25 37-32 16,19-14,28-22,27zM9990,5785l-5-16 11-47 12-16 15,7-2,36-16,36zM9580,5803l-22,2-20-6-28-14 9-16 36,5 29,20zM10853,5881l-25-8-19-16-8-39 15-7 28,21 4,25zM10368,5742l-7,11-22-8-13-6 7-11 15-1 16,1zM9880,5717l-12,2-9-1-16-14 1-7 18-2 13,12zM11599,5908l8-16 19-2 17,2 7,17-20,14-17-2zM10805,5826l-19,5-8-7 0-18 9-9 15,3 6,17zM11170,5950l-20,11-14,3-23-7-6-14 33-11 23,8zM9746,6068l-10,5-14,1-11-9 4-8 7-1 13,5zM9946,5987l9-11 6-7 14,4 0,14-8,4-14,2zM10696,5761l3-18 15-28 17,3 17,11-6,17-17,13zM9902,6073l-8-10 1-23 8-11 12-9 4,26-6,19zM11803,6007l-24-15-29-58-2-36 10-8 30,32 19,50z" fill="#D83900"/>
</g>
<path transform="scale(.1)" d="M4002,6284l101-8 121,13 4,20-125,10-91-10z" fill="#B2D144"/>
<path transform="scale(.1)" d="M4103,6280l100,4 0,21-96,4z" fill="#1874CD"/>
<path transform="scale(.1)" d="M4385,6547l30,8 47,66-20,19-41-49z" fill="#1874CD"/>
<path transform="scale(.1)" d="M4183,6494l37-4 12,33-33,12z" fill="#1874CD"/>
<path transform="scale(.1)" d="M4395,6446l47,4 14,36-51-6z" fill="#B2D144"/>
<path transform="scale(.1)" d="M4300,6442l20,0 0,16-20,0z" fill="#1874CD"/>
<path transform="scale(.1)" d="M10575,2638l75-38 100-38 0,33-88,55-74,30z" fill="#CD0000"/>
<path transform="scale(.1)" d="M10262,2888l76-48 17,48-60,62z" fill="#CD0000"/>
<path transform="scale(.1)" d="M11327,3200l75-8-8,42-59,17z" fill="#F9E300"/>
<path transform="scale(.1)" d="M11235,3359l42-8-9,58-33,9z" fill="#F9E300"/>
<path transform="scale(.1)" d="M11285,3284l30-8-3,41-27,4z" fill="#F9E300"/>
<path transform="scale(.1)" d="M11088,3267l38-16-5,36-30,20z" fill="#CD0000"/>
<path transform="scale(.1)" d="M11695,3112l105,0 0,68-105,0z" fill="#F9E300"/>
<path transform="scale(.1)" d="M12125,8770l125-32 112-43 113-95 17,25-112,95-112,45-130,30z" fill="#CD0000"/>
<path transform="scale(.1)" d="M11900,8770l38-5 2,25-38,5z" fill="#CD0000"/>
<path transform="scale(.1)" d="M14809,3665l65-22 55-15 6,21-57,22-61,18z" fill="#CD0000"/>
<path transform="scale(.1)" d="M14962,3588l87-26 13,20-87,28z" fill="#E37100"/>
<g fill="none" stroke="#000" stroke-width="37" stroke-linejoin="round" stroke-linecap="round" transform="scale(.1)">
<path d="M3512,2355l5813,4 0-92 92,0 34,142 83,17 100,41 101-16 100,16 83,75 67-16 117,67 84-25 50-17 67,42 100,8 133,13-100,37-100,50-100,67-100,75-101,67-75,50 75-8 101-25 83-25 42-17 8,50-25,33 59,14 50-5 83-42 100-33 101-42 100-50 83-50 84,0 0,25-58,41-76,51-25,58 59-33 67-9 66,42 51,67 133,17 117-51 134-16 117-9 8,59 109,25 33,42 33,58 34,25-53,23-67,22-67-22-83-25-101-16-117,16-66,17-26,25-41-17-34,9-33,50-34,42-58,58-25,25-25,75-34,67-8,30 25-21 75-92 84-92 67-84 46-55-21,64-50,83-59,84-33,83-25,84-25,117-25,133-17,101 12,100 21,117 29,83 46,47 84-22 67-58 50-84 33-117-8-100-42-100-11-100 28-117 33-101 50-66 67-59 67-58 67-50 42-42 41-12 84,54 100,50 84,41 25,59-25,83 8,84-50,75-67,42-17,50 51,47 50-47 41-67 76-25 58,34 25,108 17,117 0,84-34,41-38,17-20,59-33,58-34,42-42,53 25,34 59,30 25,25 33-17 51,25 100-30 117-42 117-41 100-42 117-54 100-58 84-67 36-50-45-50 17-59 92-25 117,9 83,28 100-17 101-50 83-50 9-78-25-42 66-67 67-67 67-58 84-42 343,8 372-18 11-48 54-22 66-10 55-55 76-88 22-98 44-98 87-132 88-87 43,55 77-11 76-22 66,33 44,54 0,175-5,175 59,33 11,76 66,44 22,66-44,44-88,32-87,33-87,22-88-22-11,44-76,65-88,66-65,33-44,44-44,54-44,66-32,65 11,44-44,66 11,43 33,44 32,66-15,54-39,33-66-33-44,33-21,22-66,33-87,15-110,13-109,16-99,28-77,15 30,123-18,123-37,99-74,123-61,69-50-39-61-91-45-62 25,49 44,104 50,74 5,81-30,111-49,99-74,123-50,55-39-129-20-98-12-99-13-99-12-98-5-74 32-69-39,49-17,94 4,98-12,69-7,79 15,74-3,74 17,74 27,62 60,27 37,40 0,39 51,125 24,99 15,74-64,74-99,74-61,61-87-12-98,49-74,87-50,66-111,20-86,74-49,99-74,74-99,54-99,69-74,74-49,54-49,119-37,123-13,99 25,148 49,197 62,173 42,103 19,0 63,200 37,150 18,150-10,150-32,100-63,62-87,33-58-45-55-100-55-62-45-138-63-138-62-162-45-125 20-150-45-125-105-125-100-125-100-18-125,68-95,42-43-92-112-75-125-37-125-18-62-8-38,26-25-76-37,76-88,17-175,20-75,25 75,50-45,125 82,113-62,37-50-75-100-50-50,62-125,43-100-75-125-118-75,63-125-45-175-5-125,37-100-37-38,137-162,113-125,30-125,95-75,125-50,125 25,100 38,150 24,125-50,30-187-63-175-74-62-168-63-188-150-187-100-225-125-125-162-25-76,38-50,112-74,88-138-76-100-87-75-125-50-150-125-100-150-125-62-85-348,0 0,110-610,0-785-310 17-60-504,50-46-50-37-80-75-75-100-100-88-75-112-62-150-58-112-18-26-112-50-100-87-75-75-125-50-100 12-50-37-100-63-100-24-138-113-37-63-125-87-100-13-125-62-150-75-125 63-200-26,30-12-230-25-100-25-125 38-175 37-200 25-200 20-200 5-125-13-50-24-150-50-150-38-125-38-88 138,38 125,25 75,13 25-138zM13789,4569l57,0 116-13 169-53 111-55-90-16-63,40-127,10-105,13-53,35z"/>
</g>
<g clip-path="url(#land)"><path fill="none" stroke="#000" stroke-width="37" stroke-linejoin="round" stroke-linecap="round" transform="scale(.1)" d="M3275,3075l100,13 100,50 37,87 88,30 150-17 125-13 125-25 125-38 175-17 200-3 225,0M4725,2351l0,681 25,68 38,30 62,120-38,100-50,100-37,75-45,75 70,25-25,75 2,24 0,476M4934,2351l0,269 41,55 63,100 87,100 75,75 75,50 13,100-26,100 50,50 63-25 37,75 63,100 50,50 50,75 37,37 88-37 100-13 75-12 50-25 63,70M3216,4200l2771,0M4101,4200l0,792 1132,1056M5233,6048l12,53 36,79 53,61-63,71-17,93-40,66 46,106-46,74M5357,4200l0,1531-55,40-94-13 21,132 4,158M5987,3407l1475,0 0,1057-1475,0 0-1057M5987,3547l0-140M5987,4200l0,264M5357,5520l2529,0M6408,4464l0,2554M7462,2351l0,1056M7462,4464l421,0 0,1056M7883,4728l1423,0M7462,3159l1578,0M7462,3936l1169,0 94,52 100-13 125,30 80,50M7683,5520l0,132 632,0 0,513 85,35 100,12 100,50 100,38 50,50 100-12 75,50 75-38 75,50 100-62 125-26 100,38 88,38M7683,5520l1766,0M7675,5652l-4,1189-751,0M8892,2355l46,145 37,150 25,150 25,150 25,125-12,87-33,38 20,50 37,50 1,28 0,476-33,46 32,75-32,75 20,62 25,113 37,100 38,100 25,25 25,100 12,65 38,60 50,93 50,32 25,62-13,38 38,50 42,55 7,11 0,686 40,291-11,465 93,23 0,410 29,9 38,125 24,125-12,125-12,125-13,70M9063,3804l1102,0M9207,4575l851,0 54,5M9449,5652l942,0-16,48-37,68 124,0M9571,6577l605,0M9960,2960l-35,40 0,125-75,50-38,75 26,125 37,100 100,75 100,100 63,100 20,50 4,50 50,100 88,105 50,70 50,75-50,75-50,50-88,37-12,68 12-30 13,75-75,63-38,42-12,95 38,100 62,100 62,87 38,50 62,38-12,100 50,75 62,63 50,74 38,88 40,55-40,70-38,63-50,130-62,132-38,100-17,30-45,95-50,75-38,100-24,100-26,100 6,55 32,75 0-30 25,100-37,100-38,75-38,100-24,100-3,30 394,0 9,70-13,75 25,58M10287,4068l599,0M10353,2977l50,75 133,33 117,42 117,34 59,41 42,101 33,50-3,6M10943,4263l0,637-31,200-24,75-38,75-38,62-62,88-62,75-98,30M10812,5312l88-50 100,13 100,13 75-88 75,25 75-75 63-88 87-24 37-58 88-18 75,63 75,37 100,18 88-25 62,63 50-93 75-50 37-75 88-38 75-87 50-125 13-100-39,190 37-123-12-50 37-148M11012,4263l504,0 286,8M11514,4263l0,703M12420,4218l0,584M12580,4147l0,53 929,0 49,47 37,74 49,49-61,74-37,74 61,99 37,61-86,62-74,49-44,25M12420,4802l996,0M13440,4814l0,308 148,0M13644,4370l136,99M10512,5642l313,0 0-32 8,8 921,8 421,2 1225,11M12000,5118l-25,107 50,100 87,50-112,100-100,75-100,50-55,15M12112,5375l113,75 125-38 100-12 50-75 75-75 75-100 75-100 75-75-105,86 98-50 87-111 116-5M12628,4802l0,130 67-69 98-37 109-29 94,98 44,30 99,62 24,49-37,74 62,74 99,62M10359,6048l1515,0M12170,5620l-70,80-100,62-100,63-100,50-100,63-75,62-13,38M10802,6048l21,27-78,792 14,391M11349,6048l89,563 48,150-31,185 21,159 29,79 561,34 9,44 37-100 113-24M10928,7105l548,0M10928,7105l-3,57 13,50M11821,6106l98-62 198-37 197,0 49,86 247,13 234,234M11874,6048l-53,58 74,98 98,111 99,124 99,123 61,123 37,124 25,29M13934,3409l-11,109-11,110 22,109 11,87-11,175-22,131-22,153-33,171M14317,3343l-22,132-77,109-43,109-33,131-33,175M14415,3321l11,154 11,218 11,219 22,65M13934,3999l175,0 262,0 66-54M13912,4163l350,22 87,11 22,131M14262,4185l0,197"/></g>
<path transform="scale(.1)" d="M14492,4288l76,9 66-22 24-46-18-51-33-13" fill="none" stroke="#000" stroke-width="50" stroke-linejoin="round" stroke-linecap="round"/>
<path transform="scale(.1)" d="M14481,4294l76-15" fill="none" stroke="#000" stroke-width="60" stroke-linejoin="round" stroke-linecap="round"/>
<path transform="scale(.1)" d="M14459,4377l61-10" fill="none" stroke="#000" stroke-width="45" stroke-linejoin="round" stroke-linecap="round"/>
<path transform="scale(.1)" d="M14594,4388l48-13" fill="none" stroke="#000" stroke-width="45" stroke-linejoin="round" stroke-linecap="round"/>
<path transform="scale(.1)" d="M13250,5159l-62-5-62-44" fill="none" stroke="#000" stroke-width="40" stroke-linejoin="round" stroke-linecap="round"/>
<path transform="scale(.1)" d="M13237,5283l-61-50-37-24" fill="none" stroke="#000" stroke-width="40" stroke-linejoin="round" stroke-linecap="round"/>
<path transform="scale(.1)" d="M13250,5381l-50-37-49-37" fill="none" stroke="#000" stroke-width="40" stroke-linejoin="round" stroke-linecap="round"/>
<path transform="scale(.1)" d="M13287,5505l-62-25-62-37" fill="none" stroke="#000" stroke-width="40" stroke-linejoin="round" stroke-linecap="round"/>
<path transform="scale(.1)" d="M13306,4863l-29,124 10,123 0,173 12,148 49,86" fill="none" stroke="#000" stroke-width="50" stroke-linejoin="round" stroke-linecap="round"/>
<path transform="scale(.1)" d="M13336,5184l62,49" fill="none" stroke="#000" stroke-width="30" stroke-linejoin="round" stroke-linecap="round"/>
<path transform="scale(.1)" d="M13227,5711l98,17 79-10" fill="none" stroke="#000" stroke-width="40" stroke-linejoin="round" stroke-linecap="round"/>
<path transform="scale(.1)" d="M13313,5773l62,49 24,74" fill="none" stroke="#000" stroke-width="35" stroke-linejoin="round" stroke-linecap="round"/>
<path transform="scale(.1)" d="M13140,5921l87-20 79,15" fill="none" stroke="#000" stroke-width="40" stroke-linejoin="round" stroke-linecap="round"/>
<path transform="scale(.1)" d="M13079,6143l79-37 69-37 74-62" fill="none" stroke="#000" stroke-width="40" stroke-linejoin="round" stroke-linecap="round"/>
<path transform="scale(.1)" d="M13202,5970l54,37" fill="none" stroke="#000" stroke-width="30" stroke-linejoin="round" stroke-linecap="round"/>
<path transform="scale(.1)" d="M3530,2438l50,32 28,80-18,88-40,74 20,68 10,40-60,35" fill="none" stroke="#000" stroke-width="110" stroke-linejoin="round" stroke-linecap="round"/>
<path transform="scale(.1)" d="M3458,2462l50,33 30-45" fill="none" stroke="#000" stroke-width="90" stroke-linejoin="round" stroke-linecap="round"/>
<path transform="scale(.1)" d="M3525,2688l-25,74-5,63" fill="none" stroke="#000" stroke-width="80" stroke-linejoin="round" stroke-linecap="round"/>
<path transform="scale(.1)" d="M3580,5238l45,37 20,87 30,33" fill="none" stroke="#000" stroke-width="60" stroke-linejoin="round" stroke-linecap="round"/>
<path transform="scale(.1)" d="M11415,3326l-33,67-17,75" fill="none" stroke="#000" stroke-width="50" stroke-linejoin="round" stroke-linecap="round"/>
<path transform="scale(.1)" d="M11126,3192l-58,92-67,92-75,83-84,62" fill="none" stroke="#000" stroke-width="45" stroke-linejoin="round" stroke-linecap="round"/>
<path transform="scale(.1)" d="M11060,3175l50-8 42,13" fill="none" stroke="#000" stroke-width="50" stroke-linejoin="round" stroke-linecap="round"/>
<path transform="scale(.1)" d="M11950,7880l30,40 15,42" fill="none" stroke="#000" stroke-width="80" stroke-linejoin="round" stroke-linecap="round"/>
<path transform="scale(.1)" d="M12055,8162l25,38" fill="none" stroke="#000" stroke-width="65" stroke-linejoin="round" stroke-linecap="round"/>
<path transform="scale(.1)" d="M12280,8600l45,25" fill="none" stroke="#000" stroke-width="70" stroke-linejoin="round" stroke-linecap="round"/>
<path transform="scale(.1)" d="M9370,7438l50,24-20,50" fill="none" stroke="#000" stroke-width="40" stroke-linejoin="round" stroke-linecap="round"/>
<path transform="scale(.1)" d="M10850,7162l20,63" fill="none" stroke="#000" stroke-width="40" stroke-linejoin="round" stroke-linecap="round"/>
<path transform="scale(.1)" d="M9012,7712l63-12 25,38" fill="none" stroke="#000" stroke-width="35" stroke-linejoin="round" stroke-linecap="round"/>
<path transform="scale(.1)" d="M8795,8045l43,17" fill="none" stroke="#000" stroke-width="40" stroke-linejoin="round" stroke-linecap="round"/>
<path transform="scale(.1)" d="M10338,7325l62-50 88,30-76,45-62-20" fill="none" stroke="#000" stroke-width="30" stroke-linejoin="round" stroke-linecap="round"/>
</svg>
<div class="legt">Relative pop. size</div>
<div class="leg">
<div class="lr"><span class="sw" style="background:#4D4D4D"></span><span class="lt">excl.-severe</span></div>
<div class="lr"><span class="sw" style="background:#1874CD"></span><span class="lt">0-10</span></div>
<div class="lr"><span class="sw" style="background:#4B939F"></span><span class="lt">10-20</span></div>
<div class="lr"><span class="sw" style="background:#7FB272"></span><span class="lt">20-30</span></div>
<div class="lr"><span class="sw" style="background:#B2D144"></span><span class="lt">30-40</span></div>
<div class="lr"><span class="sw" style="background:#E5F017"></span><span class="lt">40-50</span></div>
<div class="lr"><span class="sw" style="background:#F9E300"></span><span class="lt">50-60</span></div>
<div class="lr"><span class="sw" style="background:#EEAA00"></span><span class="lt">60-70</span></div>
<div class="lr"><span class="sw" style="background:#E37100"></span><span class="lt">70-80</span></div>
<div class="lr"><span class="sw" style="background:#D83900"></span><span class="lt">80-90</span></div>
<div class="lr"><span class="sw" style="background:#CD0000"></span><span class="lt">90-100</span></div>
</div>
</body></html>
